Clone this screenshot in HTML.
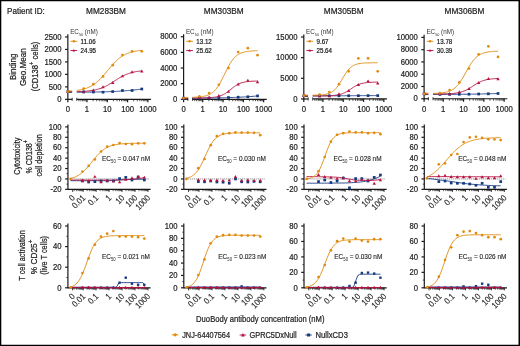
<!DOCTYPE html>
<html><head><meta charset="utf-8"><style>
html,body{margin:0;padding:0;background:#fff;}
body{width:520px;height:346px;overflow:hidden;}
svg{display:block;font-family:"Liberation Sans", sans-serif;will-change:transform;}
text{stroke:#222;stroke-width:0.22px;}
</style></head><body>
<svg width="520" height="346" viewBox="0 0 520 346">
<rect x="0" y="0" width="520" height="346" fill="#fff"/>
<text x="7" y="13.5" font-size="8.9" text-anchor="start" fill="#222" textLength="37.8" lengthAdjust="spacingAndGlyphs">Patient ID:</text>
<text x="106" y="13.5" font-size="8.9" text-anchor="middle" fill="#222" textLength="39.8" lengthAdjust="spacingAndGlyphs">MM283BM</text>
<text x="223.75" y="13.5" font-size="8.9" text-anchor="middle" fill="#222" textLength="39.8" lengthAdjust="spacingAndGlyphs">MM303BM</text>
<text x="343.75" y="13.5" font-size="8.9" text-anchor="middle" fill="#222" textLength="39.8" lengthAdjust="spacingAndGlyphs">MM305BM</text>
<text x="464.5" y="13.5" font-size="8.9" text-anchor="middle" fill="#222" textLength="39.8" lengthAdjust="spacingAndGlyphs">MM306BM</text>
<line x1="67.85" y1="34.35" x2="67.85" y2="99.85" stroke="#1a1a1a" stroke-width="1.2"/>
<line x1="65.05" y1="99.35" x2="67.85" y2="99.35" stroke="#1a1a1a" stroke-width="1.2"/>
<text x="61.55" y="102.05" font-size="8.8" text-anchor="end" fill="#222" textLength="4.28" lengthAdjust="spacingAndGlyphs">0</text>
<line x1="65.05" y1="86.87" x2="67.85" y2="86.87" stroke="#1a1a1a" stroke-width="1.2"/>
<text x="61.55" y="89.57" font-size="8.8" text-anchor="end" fill="#222" textLength="12.85" lengthAdjust="spacingAndGlyphs">500</text>
<line x1="65.05" y1="74.39" x2="67.85" y2="74.39" stroke="#1a1a1a" stroke-width="1.2"/>
<text x="61.55" y="77.09" font-size="8.8" text-anchor="end" fill="#222" textLength="17.13" lengthAdjust="spacingAndGlyphs">1000</text>
<line x1="65.05" y1="61.91" x2="67.85" y2="61.91" stroke="#1a1a1a" stroke-width="1.2"/>
<text x="61.55" y="64.61" font-size="8.8" text-anchor="end" fill="#222" textLength="17.13" lengthAdjust="spacingAndGlyphs">1500</text>
<line x1="65.05" y1="49.43" x2="67.85" y2="49.43" stroke="#1a1a1a" stroke-width="1.2"/>
<text x="61.55" y="52.13" font-size="8.8" text-anchor="end" fill="#222" textLength="17.13" lengthAdjust="spacingAndGlyphs">2000</text>
<line x1="65.05" y1="36.95" x2="67.85" y2="36.95" stroke="#1a1a1a" stroke-width="1.2"/>
<text x="61.55" y="39.65" font-size="8.8" text-anchor="end" fill="#222" textLength="17.13" lengthAdjust="spacingAndGlyphs">2500</text>
<line x1="67.85" y1="99.35" x2="72.35" y2="99.35" stroke="#1a1a1a" stroke-width="1.2"/>
<line x1="72.15" y1="97.75" x2="72.15" y2="100.95" stroke="#1a1a1a" stroke-width="0.8"/>
<line x1="76.75" y1="97.75" x2="76.75" y2="100.95" stroke="#1a1a1a" stroke-width="0.8"/>
<line x1="76.75" y1="99.35" x2="151.05" y2="99.35" stroke="#1a1a1a" stroke-width="1.2"/>
<line x1="67.85" y1="99.35" x2="67.85" y2="102.35" stroke="#1a1a1a" stroke-width="1.2"/>
<text x="67.85" y="111.8" font-size="8.8" text-anchor="middle" fill="#222" textLength="4.28" lengthAdjust="spacingAndGlyphs">0</text>
<line x1="87" y1="99.35" x2="87" y2="102.35" stroke="#1a1a1a" stroke-width="1.2"/>
<text x="87" y="111.8" font-size="8.8" text-anchor="middle" fill="#222" textLength="4.28" lengthAdjust="spacingAndGlyphs">1</text>
<line x1="107.3" y1="99.35" x2="107.3" y2="102.35" stroke="#1a1a1a" stroke-width="1.2"/>
<text x="107.3" y="111.8" font-size="8.8" text-anchor="middle" fill="#222" textLength="8.56" lengthAdjust="spacingAndGlyphs">10</text>
<line x1="127.6" y1="99.35" x2="127.6" y2="102.35" stroke="#1a1a1a" stroke-width="1.2"/>
<text x="127.6" y="111.8" font-size="8.8" text-anchor="middle" fill="#222" textLength="12.85" lengthAdjust="spacingAndGlyphs">100</text>
<line x1="147.9" y1="99.35" x2="147.9" y2="102.35" stroke="#1a1a1a" stroke-width="1.2"/>
<text x="147.9" y="111.8" font-size="8.8" text-anchor="middle" fill="#222" textLength="17.13" lengthAdjust="spacingAndGlyphs">1000</text>
<line x1="78.92" y1="99.35" x2="78.92" y2="101.25" stroke="#1a1a1a" stroke-width="0.75"/>
<line x1="80.89" y1="99.35" x2="80.89" y2="101.25" stroke="#1a1a1a" stroke-width="0.75"/>
<line x1="82.5" y1="99.35" x2="82.5" y2="101.25" stroke="#1a1a1a" stroke-width="0.75"/>
<line x1="83.86" y1="99.35" x2="83.86" y2="101.25" stroke="#1a1a1a" stroke-width="0.75"/>
<line x1="85.03" y1="99.35" x2="85.03" y2="101.25" stroke="#1a1a1a" stroke-width="0.75"/>
<line x1="86.07" y1="99.35" x2="86.07" y2="101.25" stroke="#1a1a1a" stroke-width="0.75"/>
<line x1="93.11" y1="99.35" x2="93.11" y2="101.25" stroke="#1a1a1a" stroke-width="0.75"/>
<line x1="96.69" y1="99.35" x2="96.69" y2="101.25" stroke="#1a1a1a" stroke-width="0.75"/>
<line x1="99.22" y1="99.35" x2="99.22" y2="101.25" stroke="#1a1a1a" stroke-width="0.75"/>
<line x1="101.19" y1="99.35" x2="101.19" y2="101.25" stroke="#1a1a1a" stroke-width="0.75"/>
<line x1="102.8" y1="99.35" x2="102.8" y2="101.25" stroke="#1a1a1a" stroke-width="0.75"/>
<line x1="104.16" y1="99.35" x2="104.16" y2="101.25" stroke="#1a1a1a" stroke-width="0.75"/>
<line x1="105.33" y1="99.35" x2="105.33" y2="101.25" stroke="#1a1a1a" stroke-width="0.75"/>
<line x1="106.37" y1="99.35" x2="106.37" y2="101.25" stroke="#1a1a1a" stroke-width="0.75"/>
<line x1="113.41" y1="99.35" x2="113.41" y2="101.25" stroke="#1a1a1a" stroke-width="0.75"/>
<line x1="116.99" y1="99.35" x2="116.99" y2="101.25" stroke="#1a1a1a" stroke-width="0.75"/>
<line x1="119.52" y1="99.35" x2="119.52" y2="101.25" stroke="#1a1a1a" stroke-width="0.75"/>
<line x1="121.49" y1="99.35" x2="121.49" y2="101.25" stroke="#1a1a1a" stroke-width="0.75"/>
<line x1="123.1" y1="99.35" x2="123.1" y2="101.25" stroke="#1a1a1a" stroke-width="0.75"/>
<line x1="124.46" y1="99.35" x2="124.46" y2="101.25" stroke="#1a1a1a" stroke-width="0.75"/>
<line x1="125.63" y1="99.35" x2="125.63" y2="101.25" stroke="#1a1a1a" stroke-width="0.75"/>
<line x1="126.67" y1="99.35" x2="126.67" y2="101.25" stroke="#1a1a1a" stroke-width="0.75"/>
<line x1="133.71" y1="99.35" x2="133.71" y2="101.25" stroke="#1a1a1a" stroke-width="0.75"/>
<line x1="137.29" y1="99.35" x2="137.29" y2="101.25" stroke="#1a1a1a" stroke-width="0.75"/>
<line x1="139.82" y1="99.35" x2="139.82" y2="101.25" stroke="#1a1a1a" stroke-width="0.75"/>
<line x1="141.79" y1="99.35" x2="141.79" y2="101.25" stroke="#1a1a1a" stroke-width="0.75"/>
<line x1="143.4" y1="99.35" x2="143.4" y2="101.25" stroke="#1a1a1a" stroke-width="0.75"/>
<line x1="144.76" y1="99.35" x2="144.76" y2="101.25" stroke="#1a1a1a" stroke-width="0.75"/>
<line x1="145.93" y1="99.35" x2="145.93" y2="101.25" stroke="#1a1a1a" stroke-width="0.75"/>
<line x1="146.97" y1="99.35" x2="146.97" y2="101.25" stroke="#1a1a1a" stroke-width="0.75"/>
<text x="70.15" y="34.2" font-size="7" text-anchor="start" fill="#333" textLength="27.6" lengthAdjust="spacingAndGlyphs" style="stroke:none">EC<tspan font-size="4.2" dy="2.2">50</tspan><tspan dy="-2.2"> (nM)</tspan></text>
<line x1="70.45" y1="41.3" x2="77.25" y2="41.3" stroke="#e08a0e" stroke-width="0.9"/>
<circle cx="73.85" cy="41.3" r="1.2" fill="#e08a0e"/>
<text x="80.55" y="43.8" font-size="6.9" text-anchor="start" fill="#222" textLength="15.05" lengthAdjust="spacingAndGlyphs">11.06</text>
<line x1="70.45" y1="50.5" x2="77.25" y2="50.5" stroke="#b5123f" stroke-width="0.9"/>
<path d="M73.85 49.12L75.22 51.53L72.47 51.53Z" fill="#b5123f"/>
<text x="80.55" y="53" font-size="6.9" text-anchor="start" fill="#222" textLength="15.51" lengthAdjust="spacingAndGlyphs">24.95</text>
<path d="M76.75 92.19 L77.85 92.19 L78.95 92.18 L80.06 92.17 L81.16 92.17 L82.26 92.16 L83.36 92.15 L84.47 92.14 L85.57 92.13 L86.67 92.12 L87.77 92.11 L88.88 92.1 L89.98 92.08 L91.08 92.07 L92.18 92.06 L93.29 92.04 L94.39 92.02 L95.49 92.01 L96.59 91.99 L97.69 91.97 L98.8 91.95 L99.9 91.92 L101 91.9 L102.1 91.87 L103.21 91.84 L104.31 91.82 L105.41 91.78 L106.51 91.75 L107.62 91.72 L108.72 91.68 L109.82 91.64 L110.92 91.6 L112.03 91.55 L113.13 91.51 L114.23 91.46 L115.33 91.4 L116.43 91.35 L117.54 91.29 L118.64 91.23 L119.74 91.16 L120.84 91.1 L121.95 91.02 L123.05 90.95 L124.15 90.87 L125.25 90.79 L126.36 90.7 L127.46 90.61 L128.56 90.51 L129.66 90.41 L130.77 90.31 L131.87 90.2 L132.97 90.09 L134.07 89.98 L135.17 89.86 L136.28 89.74 L137.38 89.61 L138.48 89.48 L139.58 89.34 L140.69 89.21 L141.79 89.07" fill="none" stroke="#163a82" stroke-width="0.9"/>
<path d="M76.75 91.65 L77.85 91.62 L78.95 91.58 L80.06 91.54 L81.16 91.49 L82.26 91.43 L83.36 91.37 L84.47 91.3 L85.57 91.22 L86.67 91.12 L87.77 91.02 L88.88 90.91 L89.98 90.77 L91.08 90.63 L92.18 90.46 L93.29 90.28 L94.39 90.07 L95.49 89.84 L96.59 89.58 L97.69 89.3 L98.8 88.98 L99.9 88.63 L101 88.25 L102.1 87.84 L103.21 87.39 L104.31 86.9 L105.41 86.38 L106.51 85.82 L107.62 85.23 L108.72 84.61 L109.82 83.96 L110.92 83.29 L112.03 82.6 L113.13 81.89 L114.23 81.18 L115.33 80.47 L116.43 79.76 L117.54 79.06 L118.64 78.37 L119.74 77.71 L120.84 77.08 L121.95 76.47 L123.05 75.89 L124.15 75.35 L125.25 74.85 L126.36 74.38 L127.46 73.94 L128.56 73.55 L129.66 73.18 L130.77 72.85 L131.87 72.55 L132.97 72.28 L134.07 72.03 L135.17 71.81 L136.28 71.62 L137.38 71.44 L138.48 71.29 L139.58 71.15 L140.69 71.02 L141.79 70.91" fill="none" stroke="#b5123f" stroke-width="0.9"/>
<path d="M76.75 90.43 L77.85 90.27 L78.95 90.1 L80.06 89.91 L81.16 89.69 L82.26 89.44 L83.36 89.16 L84.47 88.85 L85.57 88.51 L86.67 88.12 L87.77 87.7 L88.88 87.22 L89.98 86.7 L91.08 86.13 L92.18 85.49 L93.29 84.8 L94.39 84.05 L95.49 83.23 L96.59 82.35 L97.69 81.4 L98.8 80.39 L99.9 79.32 L101 78.19 L102.1 77.01 L103.21 75.78 L104.31 74.51 L105.41 73.21 L106.51 71.89 L107.62 70.56 L108.72 69.23 L109.82 67.91 L110.92 66.61 L112.03 65.34 L113.13 64.11 L114.23 62.93 L115.33 61.8 L116.43 60.73 L117.54 59.72 L118.64 58.77 L119.74 57.89 L120.84 57.07 L121.95 56.32 L123.05 55.63 L124.15 54.99 L125.25 54.42 L126.36 53.89 L127.46 53.42 L128.56 52.99 L129.66 52.61 L130.77 52.26 L131.87 51.96 L132.97 51.68 L134.07 51.43 L135.17 51.21 L136.28 51.02 L137.38 50.84 L138.48 50.69 L139.58 50.55 L140.69 50.43 L141.79 50.32" fill="none" stroke="#e08a0e" stroke-width="0.9"/>
<rect x="82.33" y="90.65" width="2.7" height="2.7" fill="#163a82"/>
<rect x="92.01" y="90.65" width="2.7" height="2.7" fill="#163a82"/>
<rect x="101.7" y="90.85" width="2.7" height="2.7" fill="#163a82"/>
<rect x="111.38" y="90.25" width="2.7" height="2.7" fill="#163a82"/>
<rect x="121.07" y="89.15" width="2.7" height="2.7" fill="#163a82"/>
<rect x="130.75" y="89.15" width="2.7" height="2.7" fill="#163a82"/>
<rect x="140.44" y="87.65" width="2.7" height="2.7" fill="#163a82"/>
<path d="M83.68 89.91L85.36 92.87L81.99 92.87Z" fill="#b5123f"/>
<path d="M93.36 88.41L95.05 91.37L91.67 91.37Z" fill="#b5123f"/>
<path d="M103.05 85.31L104.73 88.27L101.36 88.27Z" fill="#b5123f"/>
<path d="M112.73 81.01L114.42 83.97L111.04 83.97Z" fill="#b5123f"/>
<path d="M122.42 74.41L124.11 77.37L120.73 77.37Z" fill="#b5123f"/>
<path d="M132.1 70.31L133.79 73.27L130.42 73.27Z" fill="#b5123f"/>
<path d="M141.79 69.61L143.48 72.57L140.1 72.57Z" fill="#b5123f"/>
<circle cx="83.68" cy="88.5" r="1.35" fill="#e08a0e"/>
<circle cx="93.36" cy="84.2" r="1.35" fill="#e08a0e"/>
<circle cx="103.05" cy="76.4" r="1.35" fill="#e08a0e"/>
<circle cx="112.73" cy="65.2" r="1.35" fill="#e08a0e"/>
<circle cx="122.42" cy="55" r="1.35" fill="#e08a0e"/>
<circle cx="132.1" cy="51.3" r="1.35" fill="#e08a0e"/>
<circle cx="141.79" cy="51.3" r="1.35" fill="#e08a0e"/>
<line x1="67.85" y1="92.4" x2="72.15" y2="92.4" stroke="#163a82" stroke-width="0.9"/>
<line x1="67.85" y1="91.6" x2="72.15" y2="91.6" stroke="#b5123f" stroke-width="0.9"/>
<line x1="67.85" y1="90.9" x2="72.15" y2="90.9" stroke="#e08a0e" stroke-width="0.8"/>
<rect x="66.5" y="90.25" width="2.7" height="2.7" fill="#163a82"/>
<path d="M67.85 89.91L69.54 92.87L66.16 92.87Z" fill="#b5123f"/>
<circle cx="67.85" cy="91.6" r="1.35" fill="#e08a0e"/>
<line x1="183.6" y1="34.15" x2="183.6" y2="99.8" stroke="#1a1a1a" stroke-width="1.2"/>
<line x1="180.8" y1="99.3" x2="183.6" y2="99.3" stroke="#1a1a1a" stroke-width="1.2"/>
<text x="177.3" y="102" font-size="8.8" text-anchor="end" fill="#222" textLength="4.28" lengthAdjust="spacingAndGlyphs">0</text>
<line x1="180.8" y1="83.66" x2="183.6" y2="83.66" stroke="#1a1a1a" stroke-width="1.2"/>
<text x="177.3" y="86.36" font-size="8.8" text-anchor="end" fill="#222" textLength="17.13" lengthAdjust="spacingAndGlyphs">2000</text>
<line x1="180.8" y1="68.03" x2="183.6" y2="68.03" stroke="#1a1a1a" stroke-width="1.2"/>
<text x="177.3" y="70.73" font-size="8.8" text-anchor="end" fill="#222" textLength="17.13" lengthAdjust="spacingAndGlyphs">4000</text>
<line x1="180.8" y1="52.39" x2="183.6" y2="52.39" stroke="#1a1a1a" stroke-width="1.2"/>
<text x="177.3" y="55.09" font-size="8.8" text-anchor="end" fill="#222" textLength="17.13" lengthAdjust="spacingAndGlyphs">6000</text>
<line x1="180.8" y1="36.75" x2="183.6" y2="36.75" stroke="#1a1a1a" stroke-width="1.2"/>
<text x="177.3" y="39.45" font-size="8.8" text-anchor="end" fill="#222" textLength="17.13" lengthAdjust="spacingAndGlyphs">8000</text>
<line x1="183.6" y1="99.3" x2="188.1" y2="99.3" stroke="#1a1a1a" stroke-width="1.2"/>
<line x1="187.9" y1="97.7" x2="187.9" y2="100.9" stroke="#1a1a1a" stroke-width="0.8"/>
<line x1="192.5" y1="97.7" x2="192.5" y2="100.9" stroke="#1a1a1a" stroke-width="0.8"/>
<line x1="192.5" y1="99.3" x2="266.8" y2="99.3" stroke="#1a1a1a" stroke-width="1.2"/>
<line x1="183.6" y1="99.3" x2="183.6" y2="102.3" stroke="#1a1a1a" stroke-width="1.2"/>
<text x="183.6" y="111.8" font-size="8.8" text-anchor="middle" fill="#222" textLength="4.28" lengthAdjust="spacingAndGlyphs">0</text>
<line x1="202.75" y1="99.3" x2="202.75" y2="102.3" stroke="#1a1a1a" stroke-width="1.2"/>
<text x="202.75" y="111.8" font-size="8.8" text-anchor="middle" fill="#222" textLength="4.28" lengthAdjust="spacingAndGlyphs">1</text>
<line x1="223.05" y1="99.3" x2="223.05" y2="102.3" stroke="#1a1a1a" stroke-width="1.2"/>
<text x="223.05" y="111.8" font-size="8.8" text-anchor="middle" fill="#222" textLength="8.56" lengthAdjust="spacingAndGlyphs">10</text>
<line x1="243.35" y1="99.3" x2="243.35" y2="102.3" stroke="#1a1a1a" stroke-width="1.2"/>
<text x="243.35" y="111.8" font-size="8.8" text-anchor="middle" fill="#222" textLength="12.85" lengthAdjust="spacingAndGlyphs">100</text>
<line x1="263.65" y1="99.3" x2="263.65" y2="102.3" stroke="#1a1a1a" stroke-width="1.2"/>
<text x="263.65" y="111.8" font-size="8.8" text-anchor="middle" fill="#222" textLength="17.13" lengthAdjust="spacingAndGlyphs">1000</text>
<line x1="194.67" y1="99.3" x2="194.67" y2="101.2" stroke="#1a1a1a" stroke-width="0.75"/>
<line x1="196.64" y1="99.3" x2="196.64" y2="101.2" stroke="#1a1a1a" stroke-width="0.75"/>
<line x1="198.25" y1="99.3" x2="198.25" y2="101.2" stroke="#1a1a1a" stroke-width="0.75"/>
<line x1="199.61" y1="99.3" x2="199.61" y2="101.2" stroke="#1a1a1a" stroke-width="0.75"/>
<line x1="200.78" y1="99.3" x2="200.78" y2="101.2" stroke="#1a1a1a" stroke-width="0.75"/>
<line x1="201.82" y1="99.3" x2="201.82" y2="101.2" stroke="#1a1a1a" stroke-width="0.75"/>
<line x1="208.86" y1="99.3" x2="208.86" y2="101.2" stroke="#1a1a1a" stroke-width="0.75"/>
<line x1="212.44" y1="99.3" x2="212.44" y2="101.2" stroke="#1a1a1a" stroke-width="0.75"/>
<line x1="214.97" y1="99.3" x2="214.97" y2="101.2" stroke="#1a1a1a" stroke-width="0.75"/>
<line x1="216.94" y1="99.3" x2="216.94" y2="101.2" stroke="#1a1a1a" stroke-width="0.75"/>
<line x1="218.55" y1="99.3" x2="218.55" y2="101.2" stroke="#1a1a1a" stroke-width="0.75"/>
<line x1="219.91" y1="99.3" x2="219.91" y2="101.2" stroke="#1a1a1a" stroke-width="0.75"/>
<line x1="221.08" y1="99.3" x2="221.08" y2="101.2" stroke="#1a1a1a" stroke-width="0.75"/>
<line x1="222.12" y1="99.3" x2="222.12" y2="101.2" stroke="#1a1a1a" stroke-width="0.75"/>
<line x1="229.16" y1="99.3" x2="229.16" y2="101.2" stroke="#1a1a1a" stroke-width="0.75"/>
<line x1="232.74" y1="99.3" x2="232.74" y2="101.2" stroke="#1a1a1a" stroke-width="0.75"/>
<line x1="235.27" y1="99.3" x2="235.27" y2="101.2" stroke="#1a1a1a" stroke-width="0.75"/>
<line x1="237.24" y1="99.3" x2="237.24" y2="101.2" stroke="#1a1a1a" stroke-width="0.75"/>
<line x1="238.85" y1="99.3" x2="238.85" y2="101.2" stroke="#1a1a1a" stroke-width="0.75"/>
<line x1="240.21" y1="99.3" x2="240.21" y2="101.2" stroke="#1a1a1a" stroke-width="0.75"/>
<line x1="241.38" y1="99.3" x2="241.38" y2="101.2" stroke="#1a1a1a" stroke-width="0.75"/>
<line x1="242.42" y1="99.3" x2="242.42" y2="101.2" stroke="#1a1a1a" stroke-width="0.75"/>
<line x1="249.46" y1="99.3" x2="249.46" y2="101.2" stroke="#1a1a1a" stroke-width="0.75"/>
<line x1="253.04" y1="99.3" x2="253.04" y2="101.2" stroke="#1a1a1a" stroke-width="0.75"/>
<line x1="255.57" y1="99.3" x2="255.57" y2="101.2" stroke="#1a1a1a" stroke-width="0.75"/>
<line x1="257.54" y1="99.3" x2="257.54" y2="101.2" stroke="#1a1a1a" stroke-width="0.75"/>
<line x1="259.15" y1="99.3" x2="259.15" y2="101.2" stroke="#1a1a1a" stroke-width="0.75"/>
<line x1="260.51" y1="99.3" x2="260.51" y2="101.2" stroke="#1a1a1a" stroke-width="0.75"/>
<line x1="261.68" y1="99.3" x2="261.68" y2="101.2" stroke="#1a1a1a" stroke-width="0.75"/>
<line x1="262.72" y1="99.3" x2="262.72" y2="101.2" stroke="#1a1a1a" stroke-width="0.75"/>
<text x="185.9" y="34.2" font-size="7" text-anchor="start" fill="#333" textLength="27.6" lengthAdjust="spacingAndGlyphs" style="stroke:none">EC<tspan font-size="4.2" dy="2.2">50</tspan><tspan dy="-2.2"> (nM)</tspan></text>
<line x1="186.2" y1="41.3" x2="193" y2="41.3" stroke="#e08a0e" stroke-width="0.9"/>
<circle cx="189.6" cy="41.3" r="1.2" fill="#e08a0e"/>
<text x="196.3" y="43.8" font-size="6.9" text-anchor="start" fill="#222" textLength="15.51" lengthAdjust="spacingAndGlyphs">13.12</text>
<line x1="186.2" y1="50.5" x2="193" y2="50.5" stroke="#b5123f" stroke-width="0.9"/>
<path d="M189.6 49.12L190.97 51.53L188.22 51.53Z" fill="#b5123f"/>
<text x="196.3" y="53" font-size="6.9" text-anchor="start" fill="#222" textLength="15.51" lengthAdjust="spacingAndGlyphs">25.62</text>
<path d="M192.5 98.23 L193.6 98.22 L194.7 98.22 L195.81 98.21 L196.91 98.2 L198.01 98.19 L199.11 98.18 L200.22 98.17 L201.32 98.16 L202.42 98.15 L203.52 98.14 L204.63 98.13 L205.73 98.11 L206.83 98.1 L207.93 98.09 L209.04 98.07 L210.14 98.06 L211.24 98.04 L212.34 98.02 L213.44 98 L214.55 97.99 L215.65 97.97 L216.75 97.94 L217.85 97.92 L218.96 97.9 L220.06 97.88 L221.16 97.85 L222.26 97.82 L223.37 97.8 L224.47 97.77 L225.57 97.74 L226.67 97.7 L227.78 97.67 L228.88 97.64 L229.98 97.6 L231.08 97.56 L232.18 97.52 L233.29 97.48 L234.39 97.43 L235.49 97.39 L236.59 97.34 L237.7 97.29 L238.8 97.24 L239.9 97.18 L241 97.13 L242.11 97.07 L243.21 97 L244.31 96.94 L245.41 96.87 L246.52 96.8 L247.62 96.73 L248.72 96.65 L249.82 96.57 L250.92 96.49 L252.03 96.4 L253.13 96.31 L254.23 96.22 L255.33 96.12 L256.44 96.02 L257.54 95.92" fill="none" stroke="#163a82" stroke-width="0.9"/>
<path d="M192.5 97.92 L193.6 97.92 L194.7 97.92 L195.81 97.91 L196.91 97.91 L198.01 97.9 L199.11 97.89 L200.22 97.88 L201.32 97.87 L202.42 97.86 L203.52 97.84 L204.63 97.82 L205.73 97.79 L206.83 97.76 L207.93 97.72 L209.04 97.67 L210.14 97.6 L211.24 97.53 L212.34 97.44 L213.44 97.32 L214.55 97.19 L215.65 97.02 L216.75 96.82 L217.85 96.58 L218.96 96.3 L220.06 95.96 L221.16 95.56 L222.26 95.1 L223.37 94.57 L224.47 93.96 L225.57 93.29 L226.67 92.55 L227.78 91.74 L228.88 90.89 L229.98 90.02 L231.08 89.12 L232.18 88.24 L233.29 87.38 L234.39 86.56 L235.49 85.8 L236.59 85.1 L237.7 84.48 L238.8 83.92 L239.9 83.44 L241 83.03 L242.11 82.67 L243.21 82.37 L244.31 82.12 L245.41 81.91 L246.52 81.73 L247.62 81.59 L248.72 81.47 L249.82 81.37 L250.92 81.29 L252.03 81.22 L253.13 81.17 L254.23 81.13 L255.33 81.09 L256.44 81.06 L257.54 81.04" fill="none" stroke="#b5123f" stroke-width="0.9"/>
<path d="M192.5 97.31 L193.6 97.27 L194.7 97.23 L195.81 97.18 L196.91 97.12 L198.01 97.05 L199.11 96.96 L200.22 96.85 L201.32 96.72 L202.42 96.56 L203.52 96.37 L204.63 96.14 L205.73 95.86 L206.83 95.53 L207.93 95.13 L209.04 94.66 L210.14 94.1 L211.24 93.44 L212.34 92.66 L213.44 91.75 L214.55 90.7 L215.65 89.5 L216.75 88.13 L217.85 86.58 L218.96 84.87 L220.06 83 L221.16 80.99 L222.26 78.85 L223.37 76.63 L224.47 74.36 L225.57 72.09 L226.67 69.85 L227.78 67.69 L228.88 65.63 L229.98 63.72 L231.08 61.96 L232.18 60.37 L233.29 58.95 L234.39 57.7 L235.49 56.6 L236.59 55.65 L237.7 54.84 L238.8 54.15 L239.9 53.56 L241 53.06 L242.11 52.64 L243.21 52.29 L244.31 52 L245.41 51.76 L246.52 51.56 L247.62 51.39 L248.72 51.25 L249.82 51.14 L250.92 51.04 L252.03 50.96 L253.13 50.9 L254.23 50.84 L255.33 50.8 L256.44 50.76 L257.54 50.73" fill="none" stroke="#e08a0e" stroke-width="0.9"/>
<rect x="198.08" y="96.75" width="2.7" height="2.7" fill="#163a82"/>
<rect x="207.76" y="96.75" width="2.7" height="2.7" fill="#163a82"/>
<rect x="217.45" y="96.75" width="2.7" height="2.7" fill="#163a82"/>
<rect x="227.13" y="96.15" width="2.7" height="2.7" fill="#163a82"/>
<rect x="236.82" y="95.85" width="2.7" height="2.7" fill="#163a82"/>
<rect x="246.5" y="95.45" width="2.7" height="2.7" fill="#163a82"/>
<rect x="256.19" y="94.55" width="2.7" height="2.7" fill="#163a82"/>
<path d="M199.43 95.81L201.11 98.77L197.74 98.77Z" fill="#b5123f"/>
<path d="M209.11 95.81L210.8 98.77L207.42 98.77Z" fill="#b5123f"/>
<path d="M218.8 94.01L220.48 96.97L217.11 96.97Z" fill="#b5123f"/>
<path d="M228.48 89.91L230.17 92.87L226.79 92.87Z" fill="#b5123f"/>
<path d="M238.17 82.51L239.86 85.47L236.48 85.47Z" fill="#b5123f"/>
<path d="M247.85 78.81L249.54 81.77L246.17 81.77Z" fill="#b5123f"/>
<path d="M257.54 80.31L259.23 83.27L255.85 83.27Z" fill="#b5123f"/>
<circle cx="199.43" cy="96.4" r="1.35" fill="#e08a0e"/>
<circle cx="209.11" cy="93.1" r="1.35" fill="#e08a0e"/>
<circle cx="218.8" cy="84.8" r="1.35" fill="#e08a0e"/>
<circle cx="228.48" cy="68.1" r="1.35" fill="#e08a0e"/>
<circle cx="238.17" cy="52" r="1.35" fill="#e08a0e"/>
<circle cx="247.85" cy="48.2" r="1.35" fill="#e08a0e"/>
<circle cx="257.54" cy="55.2" r="1.35" fill="#e08a0e"/>
<line x1="183.6" y1="98.9" x2="187.9" y2="98.9" stroke="#163a82" stroke-width="0.9"/>
<line x1="183.6" y1="98.1" x2="187.9" y2="98.1" stroke="#b5123f" stroke-width="0.9"/>
<line x1="183.6" y1="97.4" x2="187.9" y2="97.4" stroke="#e08a0e" stroke-width="0.8"/>
<rect x="182.25" y="96.75" width="2.7" height="2.7" fill="#163a82"/>
<path d="M183.6 96.41L185.29 99.37L181.91 99.37Z" fill="#b5123f"/>
<circle cx="183.6" cy="98.1" r="1.35" fill="#e08a0e"/>
<line x1="303.8" y1="34.4" x2="303.8" y2="99.45" stroke="#1a1a1a" stroke-width="1.2"/>
<line x1="301" y1="98.95" x2="303.8" y2="98.95" stroke="#1a1a1a" stroke-width="1.2"/>
<text x="297.5" y="101.65" font-size="8.8" text-anchor="end" fill="#222" textLength="4.28" lengthAdjust="spacingAndGlyphs">0</text>
<line x1="301" y1="78.3" x2="303.8" y2="78.3" stroke="#1a1a1a" stroke-width="1.2"/>
<text x="297.5" y="81" font-size="8.8" text-anchor="end" fill="#222" textLength="17.13" lengthAdjust="spacingAndGlyphs">5000</text>
<line x1="301" y1="57.65" x2="303.8" y2="57.65" stroke="#1a1a1a" stroke-width="1.2"/>
<text x="297.5" y="60.35" font-size="8.8" text-anchor="end" fill="#222" textLength="21.41" lengthAdjust="spacingAndGlyphs">10000</text>
<line x1="301" y1="37" x2="303.8" y2="37" stroke="#1a1a1a" stroke-width="1.2"/>
<text x="297.5" y="39.7" font-size="8.8" text-anchor="end" fill="#222" textLength="21.41" lengthAdjust="spacingAndGlyphs">15000</text>
<line x1="303.8" y1="98.95" x2="308.3" y2="98.95" stroke="#1a1a1a" stroke-width="1.2"/>
<line x1="308.1" y1="97.35" x2="308.1" y2="100.55" stroke="#1a1a1a" stroke-width="0.8"/>
<line x1="312.7" y1="97.35" x2="312.7" y2="100.55" stroke="#1a1a1a" stroke-width="0.8"/>
<line x1="312.7" y1="98.95" x2="387" y2="98.95" stroke="#1a1a1a" stroke-width="1.2"/>
<line x1="303.8" y1="98.95" x2="303.8" y2="101.95" stroke="#1a1a1a" stroke-width="1.2"/>
<text x="303.8" y="111.8" font-size="8.8" text-anchor="middle" fill="#222" textLength="4.28" lengthAdjust="spacingAndGlyphs">0</text>
<line x1="322.95" y1="98.95" x2="322.95" y2="101.95" stroke="#1a1a1a" stroke-width="1.2"/>
<text x="322.95" y="111.8" font-size="8.8" text-anchor="middle" fill="#222" textLength="4.28" lengthAdjust="spacingAndGlyphs">1</text>
<line x1="343.25" y1="98.95" x2="343.25" y2="101.95" stroke="#1a1a1a" stroke-width="1.2"/>
<text x="343.25" y="111.8" font-size="8.8" text-anchor="middle" fill="#222" textLength="8.56" lengthAdjust="spacingAndGlyphs">10</text>
<line x1="363.55" y1="98.95" x2="363.55" y2="101.95" stroke="#1a1a1a" stroke-width="1.2"/>
<text x="363.55" y="111.8" font-size="8.8" text-anchor="middle" fill="#222" textLength="12.85" lengthAdjust="spacingAndGlyphs">100</text>
<line x1="383.85" y1="98.95" x2="383.85" y2="101.95" stroke="#1a1a1a" stroke-width="1.2"/>
<text x="383.85" y="111.8" font-size="8.8" text-anchor="middle" fill="#222" textLength="17.13" lengthAdjust="spacingAndGlyphs">1000</text>
<line x1="314.87" y1="98.95" x2="314.87" y2="100.85" stroke="#1a1a1a" stroke-width="0.75"/>
<line x1="316.84" y1="98.95" x2="316.84" y2="100.85" stroke="#1a1a1a" stroke-width="0.75"/>
<line x1="318.45" y1="98.95" x2="318.45" y2="100.85" stroke="#1a1a1a" stroke-width="0.75"/>
<line x1="319.81" y1="98.95" x2="319.81" y2="100.85" stroke="#1a1a1a" stroke-width="0.75"/>
<line x1="320.98" y1="98.95" x2="320.98" y2="100.85" stroke="#1a1a1a" stroke-width="0.75"/>
<line x1="322.02" y1="98.95" x2="322.02" y2="100.85" stroke="#1a1a1a" stroke-width="0.75"/>
<line x1="329.06" y1="98.95" x2="329.06" y2="100.85" stroke="#1a1a1a" stroke-width="0.75"/>
<line x1="332.64" y1="98.95" x2="332.64" y2="100.85" stroke="#1a1a1a" stroke-width="0.75"/>
<line x1="335.17" y1="98.95" x2="335.17" y2="100.85" stroke="#1a1a1a" stroke-width="0.75"/>
<line x1="337.14" y1="98.95" x2="337.14" y2="100.85" stroke="#1a1a1a" stroke-width="0.75"/>
<line x1="338.75" y1="98.95" x2="338.75" y2="100.85" stroke="#1a1a1a" stroke-width="0.75"/>
<line x1="340.11" y1="98.95" x2="340.11" y2="100.85" stroke="#1a1a1a" stroke-width="0.75"/>
<line x1="341.28" y1="98.95" x2="341.28" y2="100.85" stroke="#1a1a1a" stroke-width="0.75"/>
<line x1="342.32" y1="98.95" x2="342.32" y2="100.85" stroke="#1a1a1a" stroke-width="0.75"/>
<line x1="349.36" y1="98.95" x2="349.36" y2="100.85" stroke="#1a1a1a" stroke-width="0.75"/>
<line x1="352.94" y1="98.95" x2="352.94" y2="100.85" stroke="#1a1a1a" stroke-width="0.75"/>
<line x1="355.47" y1="98.95" x2="355.47" y2="100.85" stroke="#1a1a1a" stroke-width="0.75"/>
<line x1="357.44" y1="98.95" x2="357.44" y2="100.85" stroke="#1a1a1a" stroke-width="0.75"/>
<line x1="359.05" y1="98.95" x2="359.05" y2="100.85" stroke="#1a1a1a" stroke-width="0.75"/>
<line x1="360.41" y1="98.95" x2="360.41" y2="100.85" stroke="#1a1a1a" stroke-width="0.75"/>
<line x1="361.58" y1="98.95" x2="361.58" y2="100.85" stroke="#1a1a1a" stroke-width="0.75"/>
<line x1="362.62" y1="98.95" x2="362.62" y2="100.85" stroke="#1a1a1a" stroke-width="0.75"/>
<line x1="369.66" y1="98.95" x2="369.66" y2="100.85" stroke="#1a1a1a" stroke-width="0.75"/>
<line x1="373.24" y1="98.95" x2="373.24" y2="100.85" stroke="#1a1a1a" stroke-width="0.75"/>
<line x1="375.77" y1="98.95" x2="375.77" y2="100.85" stroke="#1a1a1a" stroke-width="0.75"/>
<line x1="377.74" y1="98.95" x2="377.74" y2="100.85" stroke="#1a1a1a" stroke-width="0.75"/>
<line x1="379.35" y1="98.95" x2="379.35" y2="100.85" stroke="#1a1a1a" stroke-width="0.75"/>
<line x1="380.71" y1="98.95" x2="380.71" y2="100.85" stroke="#1a1a1a" stroke-width="0.75"/>
<line x1="381.88" y1="98.95" x2="381.88" y2="100.85" stroke="#1a1a1a" stroke-width="0.75"/>
<line x1="382.92" y1="98.95" x2="382.92" y2="100.85" stroke="#1a1a1a" stroke-width="0.75"/>
<text x="306.1" y="34.2" font-size="7" text-anchor="start" fill="#333" textLength="27.6" lengthAdjust="spacingAndGlyphs" style="stroke:none">EC<tspan font-size="4.2" dy="2.2">50</tspan><tspan dy="-2.2"> (nM)</tspan></text>
<line x1="306.4" y1="41.3" x2="313.2" y2="41.3" stroke="#e08a0e" stroke-width="0.9"/>
<circle cx="309.8" cy="41.3" r="1.2" fill="#e08a0e"/>
<text x="316.5" y="43.8" font-size="6.9" text-anchor="start" fill="#222" textLength="12.07" lengthAdjust="spacingAndGlyphs">9.67</text>
<line x1="306.4" y1="50.5" x2="313.2" y2="50.5" stroke="#b5123f" stroke-width="0.9"/>
<path d="M309.8 49.12L311.18 51.53L308.43 51.53Z" fill="#b5123f"/>
<text x="316.5" y="53" font-size="6.9" text-anchor="start" fill="#222" textLength="15.51" lengthAdjust="spacingAndGlyphs">25.64</text>
<path d="M312.7 95.94 L313.8 95.93 L314.9 95.92 L316.01 95.92 L317.11 95.91 L318.21 95.9 L319.31 95.89 L320.42 95.89 L321.52 95.88 L322.62 95.87 L323.72 95.86 L324.83 95.86 L325.93 95.85 L327.03 95.84 L328.13 95.84 L329.24 95.83 L330.34 95.82 L331.44 95.82 L332.54 95.81 L333.64 95.8 L334.75 95.8 L335.85 95.79 L336.95 95.78 L338.05 95.78 L339.16 95.77 L340.26 95.76 L341.36 95.76 L342.46 95.75 L343.57 95.75 L344.67 95.74 L345.77 95.73 L346.87 95.73 L347.98 95.72 L349.08 95.72 L350.18 95.71 L351.28 95.71 L352.38 95.7 L353.49 95.7 L354.59 95.69 L355.69 95.68 L356.79 95.68 L357.9 95.67 L359 95.67 L360.1 95.66 L361.2 95.66 L362.31 95.65 L363.41 95.65 L364.51 95.64 L365.61 95.64 L366.72 95.63 L367.82 95.63 L368.92 95.63 L370.02 95.62 L371.12 95.62 L372.23 95.61 L373.33 95.61 L374.43 95.6 L375.53 95.6 L376.64 95.59 L377.74 95.59" fill="none" stroke="#163a82" stroke-width="0.9"/>
<path d="M312.7 95.89 L313.8 95.89 L314.9 95.88 L316.01 95.88 L317.11 95.88 L318.21 95.87 L319.31 95.87 L320.42 95.86 L321.52 95.85 L322.62 95.84 L323.72 95.83 L324.83 95.81 L325.93 95.79 L327.03 95.77 L328.13 95.74 L329.24 95.7 L330.34 95.65 L331.44 95.59 L332.54 95.52 L333.64 95.44 L334.75 95.33 L335.85 95.2 L336.95 95.04 L338.05 94.85 L339.16 94.63 L340.26 94.35 L341.36 94.03 L342.46 93.66 L343.57 93.22 L344.67 92.72 L345.77 92.16 L346.87 91.55 L347.98 90.88 L349.08 90.17 L350.18 89.43 L351.28 88.69 L352.38 87.95 L353.49 87.23 L354.59 86.55 L355.69 85.92 L356.79 85.35 L357.9 84.84 L359 84.39 L360.1 83.99 L361.2 83.66 L362.31 83.38 L363.41 83.14 L364.51 82.94 L365.61 82.78 L366.72 82.64 L367.82 82.53 L368.92 82.44 L370.02 82.36 L371.12 82.3 L372.23 82.25 L373.33 82.21 L374.43 82.18 L375.53 82.16 L376.64 82.13 L377.74 82.12" fill="none" stroke="#b5123f" stroke-width="0.9"/>
<path d="M312.7 95.19 L313.8 95.17 L314.9 95.15 L316.01 95.12 L317.11 95.09 L318.21 95.05 L319.31 95 L320.42 94.93 L321.52 94.85 L322.62 94.74 L323.72 94.61 L324.83 94.45 L325.93 94.25 L327.03 93.99 L328.13 93.68 L329.24 93.29 L330.34 92.82 L331.44 92.24 L332.54 91.55 L333.64 90.71 L334.75 89.73 L335.85 88.58 L336.95 87.26 L338.05 85.78 L339.16 84.15 L340.26 82.39 L341.36 80.55 L342.46 78.67 L343.57 76.79 L344.67 74.97 L345.77 73.26 L346.87 71.67 L347.98 70.25 L349.08 68.99 L350.18 67.9 L351.28 66.97 L352.38 66.19 L353.49 65.53 L354.59 64.99 L355.69 64.55 L356.79 64.19 L357.9 63.9 L359 63.67 L360.1 63.48 L361.2 63.33 L362.31 63.21 L363.41 63.11 L364.51 63.04 L365.61 62.98 L366.72 62.93 L367.82 62.89 L368.92 62.86 L370.02 62.83 L371.12 62.82 L372.23 62.8 L373.33 62.79 L374.43 62.78 L375.53 62.77 L376.64 62.76 L377.74 62.76" fill="none" stroke="#e08a0e" stroke-width="0.9"/>
<rect x="318.28" y="94.55" width="2.7" height="2.7" fill="#163a82"/>
<rect x="327.96" y="94.45" width="2.7" height="2.7" fill="#163a82"/>
<rect x="337.65" y="94.45" width="2.7" height="2.7" fill="#163a82"/>
<rect x="347.33" y="94.35" width="2.7" height="2.7" fill="#163a82"/>
<rect x="357.02" y="94.35" width="2.7" height="2.7" fill="#163a82"/>
<rect x="366.7" y="94.25" width="2.7" height="2.7" fill="#163a82"/>
<rect x="376.39" y="94.25" width="2.7" height="2.7" fill="#163a82"/>
<path d="M319.63 94.21L321.31 97.17L317.94 97.17Z" fill="#b5123f"/>
<path d="M329.31 94.21L331 97.17L327.62 97.17Z" fill="#b5123f"/>
<path d="M339 92.31L340.68 95.27L337.31 95.27Z" fill="#b5123f"/>
<path d="M348.68 89.01L350.37 91.97L346.99 91.97Z" fill="#b5123f"/>
<path d="M358.37 83.11L360.06 86.07L356.68 86.07Z" fill="#b5123f"/>
<path d="M368.05 79.41L369.74 82.37L366.37 82.37Z" fill="#b5123f"/>
<path d="M377.74 81.61L379.43 84.57L376.05 84.57Z" fill="#b5123f"/>
<circle cx="319.63" cy="94.6" r="1.35" fill="#e08a0e"/>
<circle cx="329.31" cy="92" r="1.35" fill="#e08a0e"/>
<circle cx="339" cy="84.2" r="1.35" fill="#e08a0e"/>
<circle cx="348.68" cy="71.3" r="1.35" fill="#e08a0e"/>
<circle cx="358.37" cy="58.3" r="1.35" fill="#e08a0e"/>
<circle cx="368.05" cy="58.3" r="1.35" fill="#e08a0e"/>
<circle cx="377.74" cy="71.3" r="1.35" fill="#e08a0e"/>
<line x1="303.8" y1="96.5" x2="308.1" y2="96.5" stroke="#163a82" stroke-width="0.9"/>
<line x1="303.8" y1="95.7" x2="308.1" y2="95.7" stroke="#b5123f" stroke-width="0.9"/>
<line x1="303.8" y1="95" x2="308.1" y2="95" stroke="#e08a0e" stroke-width="0.8"/>
<rect x="302.45" y="94.35" width="2.7" height="2.7" fill="#163a82"/>
<path d="M303.8 94.01L305.49 96.97L302.11 96.97Z" fill="#b5123f"/>
<circle cx="303.8" cy="95.7" r="1.35" fill="#e08a0e"/>
<line x1="424.1" y1="34.8" x2="424.1" y2="99.25" stroke="#1a1a1a" stroke-width="1.2"/>
<line x1="421.3" y1="98.75" x2="424.1" y2="98.75" stroke="#1a1a1a" stroke-width="1.2"/>
<text x="417.8" y="101.45" font-size="8.8" text-anchor="end" fill="#222" textLength="4.28" lengthAdjust="spacingAndGlyphs">0</text>
<line x1="421.3" y1="86.48" x2="424.1" y2="86.48" stroke="#1a1a1a" stroke-width="1.2"/>
<text x="417.8" y="89.18" font-size="8.8" text-anchor="end" fill="#222" textLength="17.13" lengthAdjust="spacingAndGlyphs">2000</text>
<line x1="421.3" y1="74.21" x2="424.1" y2="74.21" stroke="#1a1a1a" stroke-width="1.2"/>
<text x="417.8" y="76.91" font-size="8.8" text-anchor="end" fill="#222" textLength="17.13" lengthAdjust="spacingAndGlyphs">4000</text>
<line x1="421.3" y1="61.94" x2="424.1" y2="61.94" stroke="#1a1a1a" stroke-width="1.2"/>
<text x="417.8" y="64.64" font-size="8.8" text-anchor="end" fill="#222" textLength="17.13" lengthAdjust="spacingAndGlyphs">6000</text>
<line x1="421.3" y1="49.67" x2="424.1" y2="49.67" stroke="#1a1a1a" stroke-width="1.2"/>
<text x="417.8" y="52.37" font-size="8.8" text-anchor="end" fill="#222" textLength="17.13" lengthAdjust="spacingAndGlyphs">8000</text>
<line x1="421.3" y1="37.4" x2="424.1" y2="37.4" stroke="#1a1a1a" stroke-width="1.2"/>
<text x="417.8" y="40.1" font-size="8.8" text-anchor="end" fill="#222" textLength="21.41" lengthAdjust="spacingAndGlyphs">10000</text>
<line x1="424.1" y1="98.75" x2="428.6" y2="98.75" stroke="#1a1a1a" stroke-width="1.2"/>
<line x1="428.4" y1="97.15" x2="428.4" y2="100.35" stroke="#1a1a1a" stroke-width="0.8"/>
<line x1="433" y1="97.15" x2="433" y2="100.35" stroke="#1a1a1a" stroke-width="0.8"/>
<line x1="433" y1="98.75" x2="507.3" y2="98.75" stroke="#1a1a1a" stroke-width="1.2"/>
<line x1="424.1" y1="98.75" x2="424.1" y2="101.75" stroke="#1a1a1a" stroke-width="1.2"/>
<text x="424.1" y="111.8" font-size="8.8" text-anchor="middle" fill="#222" textLength="4.28" lengthAdjust="spacingAndGlyphs">0</text>
<line x1="443.25" y1="98.75" x2="443.25" y2="101.75" stroke="#1a1a1a" stroke-width="1.2"/>
<text x="443.25" y="111.8" font-size="8.8" text-anchor="middle" fill="#222" textLength="4.28" lengthAdjust="spacingAndGlyphs">1</text>
<line x1="463.55" y1="98.75" x2="463.55" y2="101.75" stroke="#1a1a1a" stroke-width="1.2"/>
<text x="463.55" y="111.8" font-size="8.8" text-anchor="middle" fill="#222" textLength="8.56" lengthAdjust="spacingAndGlyphs">10</text>
<line x1="483.85" y1="98.75" x2="483.85" y2="101.75" stroke="#1a1a1a" stroke-width="1.2"/>
<text x="483.85" y="111.8" font-size="8.8" text-anchor="middle" fill="#222" textLength="12.85" lengthAdjust="spacingAndGlyphs">100</text>
<line x1="504.15" y1="98.75" x2="504.15" y2="101.75" stroke="#1a1a1a" stroke-width="1.2"/>
<text x="504.15" y="111.8" font-size="8.8" text-anchor="middle" fill="#222" textLength="17.13" lengthAdjust="spacingAndGlyphs">1000</text>
<line x1="435.17" y1="98.75" x2="435.17" y2="100.65" stroke="#1a1a1a" stroke-width="0.75"/>
<line x1="437.14" y1="98.75" x2="437.14" y2="100.65" stroke="#1a1a1a" stroke-width="0.75"/>
<line x1="438.75" y1="98.75" x2="438.75" y2="100.65" stroke="#1a1a1a" stroke-width="0.75"/>
<line x1="440.11" y1="98.75" x2="440.11" y2="100.65" stroke="#1a1a1a" stroke-width="0.75"/>
<line x1="441.28" y1="98.75" x2="441.28" y2="100.65" stroke="#1a1a1a" stroke-width="0.75"/>
<line x1="442.32" y1="98.75" x2="442.32" y2="100.65" stroke="#1a1a1a" stroke-width="0.75"/>
<line x1="449.36" y1="98.75" x2="449.36" y2="100.65" stroke="#1a1a1a" stroke-width="0.75"/>
<line x1="452.94" y1="98.75" x2="452.94" y2="100.65" stroke="#1a1a1a" stroke-width="0.75"/>
<line x1="455.47" y1="98.75" x2="455.47" y2="100.65" stroke="#1a1a1a" stroke-width="0.75"/>
<line x1="457.44" y1="98.75" x2="457.44" y2="100.65" stroke="#1a1a1a" stroke-width="0.75"/>
<line x1="459.05" y1="98.75" x2="459.05" y2="100.65" stroke="#1a1a1a" stroke-width="0.75"/>
<line x1="460.41" y1="98.75" x2="460.41" y2="100.65" stroke="#1a1a1a" stroke-width="0.75"/>
<line x1="461.58" y1="98.75" x2="461.58" y2="100.65" stroke="#1a1a1a" stroke-width="0.75"/>
<line x1="462.62" y1="98.75" x2="462.62" y2="100.65" stroke="#1a1a1a" stroke-width="0.75"/>
<line x1="469.66" y1="98.75" x2="469.66" y2="100.65" stroke="#1a1a1a" stroke-width="0.75"/>
<line x1="473.24" y1="98.75" x2="473.24" y2="100.65" stroke="#1a1a1a" stroke-width="0.75"/>
<line x1="475.77" y1="98.75" x2="475.77" y2="100.65" stroke="#1a1a1a" stroke-width="0.75"/>
<line x1="477.74" y1="98.75" x2="477.74" y2="100.65" stroke="#1a1a1a" stroke-width="0.75"/>
<line x1="479.35" y1="98.75" x2="479.35" y2="100.65" stroke="#1a1a1a" stroke-width="0.75"/>
<line x1="480.71" y1="98.75" x2="480.71" y2="100.65" stroke="#1a1a1a" stroke-width="0.75"/>
<line x1="481.88" y1="98.75" x2="481.88" y2="100.65" stroke="#1a1a1a" stroke-width="0.75"/>
<line x1="482.92" y1="98.75" x2="482.92" y2="100.65" stroke="#1a1a1a" stroke-width="0.75"/>
<line x1="489.96" y1="98.75" x2="489.96" y2="100.65" stroke="#1a1a1a" stroke-width="0.75"/>
<line x1="493.54" y1="98.75" x2="493.54" y2="100.65" stroke="#1a1a1a" stroke-width="0.75"/>
<line x1="496.07" y1="98.75" x2="496.07" y2="100.65" stroke="#1a1a1a" stroke-width="0.75"/>
<line x1="498.04" y1="98.75" x2="498.04" y2="100.65" stroke="#1a1a1a" stroke-width="0.75"/>
<line x1="499.65" y1="98.75" x2="499.65" y2="100.65" stroke="#1a1a1a" stroke-width="0.75"/>
<line x1="501.01" y1="98.75" x2="501.01" y2="100.65" stroke="#1a1a1a" stroke-width="0.75"/>
<line x1="502.18" y1="98.75" x2="502.18" y2="100.65" stroke="#1a1a1a" stroke-width="0.75"/>
<line x1="503.22" y1="98.75" x2="503.22" y2="100.65" stroke="#1a1a1a" stroke-width="0.75"/>
<text x="426.4" y="34.2" font-size="7" text-anchor="start" fill="#333" textLength="27.6" lengthAdjust="spacingAndGlyphs" style="stroke:none">EC<tspan font-size="4.2" dy="2.2">50</tspan><tspan dy="-2.2"> (nM)</tspan></text>
<line x1="426.7" y1="41.3" x2="433.5" y2="41.3" stroke="#e08a0e" stroke-width="0.9"/>
<circle cx="430.1" cy="41.3" r="1.2" fill="#e08a0e"/>
<text x="436.8" y="43.8" font-size="6.9" text-anchor="start" fill="#222" textLength="15.51" lengthAdjust="spacingAndGlyphs">13.78</text>
<line x1="426.7" y1="50.5" x2="433.5" y2="50.5" stroke="#b5123f" stroke-width="0.9"/>
<path d="M430.1 49.12L431.48 51.53L428.73 51.53Z" fill="#b5123f"/>
<text x="436.8" y="53" font-size="6.9" text-anchor="start" fill="#222" textLength="15.51" lengthAdjust="spacingAndGlyphs">30.39</text>
<path d="M433 94.43 L434.1 94.43 L435.2 94.43 L436.31 94.43 L437.41 94.42 L438.51 94.42 L439.61 94.42 L440.72 94.41 L441.82 94.41 L442.92 94.41 L444.02 94.4 L445.13 94.4 L446.23 94.39 L447.33 94.39 L448.43 94.38 L449.54 94.38 L450.64 94.37 L451.74 94.36 L452.84 94.36 L453.94 94.35 L455.05 94.34 L456.15 94.33 L457.25 94.32 L458.35 94.31 L459.46 94.3 L460.56 94.29 L461.66 94.28 L462.76 94.27 L463.87 94.26 L464.97 94.25 L466.07 94.23 L467.17 94.22 L468.28 94.2 L469.38 94.19 L470.48 94.17 L471.58 94.15 L472.68 94.13 L473.79 94.12 L474.89 94.1 L475.99 94.07 L477.09 94.05 L478.2 94.03 L479.3 94.01 L480.4 93.98 L481.5 93.96 L482.61 93.93 L483.71 93.91 L484.81 93.88 L485.91 93.85 L487.02 93.82 L488.12 93.79 L489.22 93.76 L490.32 93.73 L491.42 93.7 L492.53 93.67 L493.63 93.63 L494.73 93.6 L495.83 93.57 L496.94 93.54 L498.04 93.5" fill="none" stroke="#163a82" stroke-width="0.9"/>
<path d="M433 93.94 L434.1 93.94 L435.2 93.94 L436.31 93.93 L437.41 93.92 L438.51 93.92 L439.61 93.91 L440.72 93.89 L441.82 93.88 L442.92 93.86 L444.02 93.84 L445.13 93.82 L446.23 93.79 L447.33 93.75 L448.43 93.71 L449.54 93.66 L450.64 93.6 L451.74 93.52 L452.84 93.44 L453.94 93.33 L455.05 93.21 L456.15 93.07 L457.25 92.9 L458.35 92.7 L459.46 92.47 L460.56 92.2 L461.66 91.88 L462.76 91.53 L463.87 91.12 L464.97 90.66 L466.07 90.16 L467.17 89.6 L468.28 88.99 L469.38 88.34 L470.48 87.66 L471.58 86.95 L472.68 86.23 L473.79 85.51 L474.89 84.79 L475.99 84.1 L477.09 83.44 L478.2 82.82 L479.3 82.25 L480.4 81.72 L481.5 81.25 L482.61 80.83 L483.71 80.46 L484.81 80.14 L485.91 79.85 L487.02 79.61 L488.12 79.4 L489.22 79.22 L490.32 79.07 L491.42 78.94 L492.53 78.83 L493.63 78.74 L494.73 78.67 L495.83 78.6 L496.94 78.55 L498.04 78.5" fill="none" stroke="#b5123f" stroke-width="0.9"/>
<path d="M433 93.4 L434.1 93.37 L435.2 93.33 L436.31 93.29 L437.41 93.23 L438.51 93.17 L439.61 93.09 L440.72 92.99 L441.82 92.88 L442.92 92.74 L444.02 92.58 L445.13 92.38 L446.23 92.15 L447.33 91.86 L448.43 91.53 L449.54 91.13 L450.64 90.66 L451.74 90.11 L452.84 89.47 L453.94 88.71 L455.05 87.84 L456.15 86.84 L457.25 85.7 L458.35 84.42 L459.46 82.99 L460.56 81.42 L461.66 79.72 L462.76 77.9 L463.87 75.99 L464.97 74.02 L466.07 72.01 L467.17 70.01 L468.28 68.05 L469.38 66.17 L470.48 64.38 L471.58 62.71 L472.68 61.18 L473.79 59.8 L474.89 58.56 L475.99 57.46 L477.09 56.5 L478.2 55.66 L479.3 54.94 L480.4 54.32 L481.5 53.79 L482.61 53.35 L483.71 52.97 L484.81 52.65 L485.91 52.38 L487.02 52.16 L488.12 51.97 L489.22 51.82 L490.32 51.69 L491.42 51.58 L492.53 51.49 L493.63 51.41 L494.73 51.35 L495.83 51.3 L496.94 51.26 L498.04 51.22" fill="none" stroke="#e08a0e" stroke-width="0.9"/>
<rect x="438.58" y="93.05" width="2.7" height="2.7" fill="#163a82"/>
<rect x="448.26" y="93.05" width="2.7" height="2.7" fill="#163a82"/>
<rect x="457.95" y="92.95" width="2.7" height="2.7" fill="#163a82"/>
<rect x="467.63" y="92.85" width="2.7" height="2.7" fill="#163a82"/>
<rect x="477.32" y="92.65" width="2.7" height="2.7" fill="#163a82"/>
<rect x="487" y="92.45" width="2.7" height="2.7" fill="#163a82"/>
<rect x="496.69" y="92.15" width="2.7" height="2.7" fill="#163a82"/>
<path d="M439.93 92.11L441.61 95.07L438.24 95.07Z" fill="#b5123f"/>
<path d="M449.61 92.11L451.3 95.07L447.92 95.07Z" fill="#b5123f"/>
<path d="M459.3 90.31L460.98 93.27L457.61 93.27Z" fill="#b5123f"/>
<path d="M468.98 87.11L470.67 90.07L467.29 90.07Z" fill="#b5123f"/>
<path d="M478.67 81.01L480.36 83.97L476.98 83.97Z" fill="#b5123f"/>
<path d="M488.35 77.01L490.04 79.97L486.67 79.97Z" fill="#b5123f"/>
<path d="M498.04 77.31L499.73 80.27L496.35 80.27Z" fill="#b5123f"/>
<circle cx="439.93" cy="93.1" r="1.35" fill="#e08a0e"/>
<circle cx="449.61" cy="90.1" r="1.35" fill="#e08a0e"/>
<circle cx="459.3" cy="82.4" r="1.35" fill="#e08a0e"/>
<circle cx="468.98" cy="68.5" r="1.35" fill="#e08a0e"/>
<circle cx="478.67" cy="54.3" r="1.35" fill="#e08a0e"/>
<circle cx="488.35" cy="46.3" r="1.35" fill="#e08a0e"/>
<circle cx="498.04" cy="56.9" r="1.35" fill="#e08a0e"/>
<line x1="424.1" y1="94.6" x2="428.4" y2="94.6" stroke="#163a82" stroke-width="0.9"/>
<line x1="424.1" y1="93.8" x2="428.4" y2="93.8" stroke="#b5123f" stroke-width="0.9"/>
<line x1="424.1" y1="93.1" x2="428.4" y2="93.1" stroke="#e08a0e" stroke-width="0.8"/>
<rect x="422.75" y="92.45" width="2.7" height="2.7" fill="#163a82"/>
<path d="M424.1 92.11L425.79 95.07L422.41 95.07Z" fill="#b5123f"/>
<circle cx="424.1" cy="93.8" r="1.35" fill="#e08a0e"/>
<line x1="67.95" y1="124.4" x2="67.95" y2="189.85" stroke="#1a1a1a" stroke-width="1.2"/>
<line x1="65.15" y1="189.35" x2="67.95" y2="189.35" stroke="#1a1a1a" stroke-width="1.2"/>
<text x="61.65" y="192.05" font-size="8.8" text-anchor="end" fill="#222" textLength="11.13" lengthAdjust="spacingAndGlyphs">-20</text>
<line x1="66.45" y1="184.15" x2="67.95" y2="184.15" stroke="#1a1a1a" stroke-width="0.8"/>
<line x1="65.15" y1="178.94" x2="67.95" y2="178.94" stroke="#1a1a1a" stroke-width="1.2"/>
<text x="61.65" y="181.64" font-size="8.8" text-anchor="end" fill="#222" textLength="4.28" lengthAdjust="spacingAndGlyphs">0</text>
<line x1="66.45" y1="173.74" x2="67.95" y2="173.74" stroke="#1a1a1a" stroke-width="0.8"/>
<line x1="65.15" y1="168.53" x2="67.95" y2="168.53" stroke="#1a1a1a" stroke-width="1.2"/>
<text x="61.65" y="171.23" font-size="8.8" text-anchor="end" fill="#222" textLength="8.56" lengthAdjust="spacingAndGlyphs">20</text>
<line x1="66.45" y1="163.33" x2="67.95" y2="163.33" stroke="#1a1a1a" stroke-width="0.8"/>
<line x1="65.15" y1="158.12" x2="67.95" y2="158.12" stroke="#1a1a1a" stroke-width="1.2"/>
<text x="61.65" y="160.82" font-size="8.8" text-anchor="end" fill="#222" textLength="8.56" lengthAdjust="spacingAndGlyphs">40</text>
<line x1="66.45" y1="152.92" x2="67.95" y2="152.92" stroke="#1a1a1a" stroke-width="0.8"/>
<line x1="65.15" y1="147.72" x2="67.95" y2="147.72" stroke="#1a1a1a" stroke-width="1.2"/>
<text x="61.65" y="150.42" font-size="8.8" text-anchor="end" fill="#222" textLength="8.56" lengthAdjust="spacingAndGlyphs">60</text>
<line x1="66.45" y1="142.51" x2="67.95" y2="142.51" stroke="#1a1a1a" stroke-width="0.8"/>
<line x1="65.15" y1="137.31" x2="67.95" y2="137.31" stroke="#1a1a1a" stroke-width="1.2"/>
<text x="61.65" y="140.01" font-size="8.8" text-anchor="end" fill="#222" textLength="8.56" lengthAdjust="spacingAndGlyphs">80</text>
<line x1="66.45" y1="132.1" x2="67.95" y2="132.1" stroke="#1a1a1a" stroke-width="0.8"/>
<line x1="65.15" y1="126.9" x2="67.95" y2="126.9" stroke="#1a1a1a" stroke-width="1.2"/>
<text x="61.65" y="129.6" font-size="8.8" text-anchor="end" fill="#222" textLength="12.85" lengthAdjust="spacingAndGlyphs">100</text>
<line x1="67.95" y1="189.35" x2="150.65" y2="189.35" stroke="#1a1a1a" stroke-width="1.2"/>
<line x1="72.65" y1="189.35" x2="72.65" y2="191.95" stroke="#1a1a1a" stroke-width="0.8"/>
<text x="75.45" y="198.55" font-size="8.8" text-anchor="end" fill="#222" transform="rotate(-45 75.45 198.55)" textLength="4.23" lengthAdjust="spacingAndGlyphs" style="stroke-width:0.12px">0</text>
<line x1="83.21" y1="189.35" x2="83.21" y2="191.95" stroke="#1a1a1a" stroke-width="0.8"/>
<text x="86.01" y="198.55" font-size="8.8" text-anchor="end" fill="#222" transform="rotate(-45 86.01 198.55)" textLength="14.79" lengthAdjust="spacingAndGlyphs" style="stroke-width:0.12px">0.01</text>
<line x1="96.18" y1="189.35" x2="96.18" y2="191.95" stroke="#1a1a1a" stroke-width="0.8"/>
<text x="98.98" y="198.55" font-size="8.8" text-anchor="end" fill="#222" transform="rotate(-45 98.98 198.55)" textLength="10.56" lengthAdjust="spacingAndGlyphs" style="stroke-width:0.12px">0.1</text>
<line x1="109.15" y1="189.35" x2="109.15" y2="191.95" stroke="#1a1a1a" stroke-width="0.8"/>
<text x="111.95" y="198.55" font-size="8.8" text-anchor="end" fill="#222" transform="rotate(-45 111.95 198.55)" textLength="4.23" lengthAdjust="spacingAndGlyphs" style="stroke-width:0.12px">1</text>
<line x1="122.12" y1="189.35" x2="122.12" y2="191.95" stroke="#1a1a1a" stroke-width="0.8"/>
<text x="124.92" y="198.55" font-size="8.8" text-anchor="end" fill="#222" transform="rotate(-45 124.92 198.55)" textLength="8.45" lengthAdjust="spacingAndGlyphs" style="stroke-width:0.12px">10</text>
<line x1="135.09" y1="189.35" x2="135.09" y2="191.95" stroke="#1a1a1a" stroke-width="0.8"/>
<text x="137.89" y="198.55" font-size="8.8" text-anchor="end" fill="#222" transform="rotate(-45 137.89 198.55)" textLength="12.68" lengthAdjust="spacingAndGlyphs" style="stroke-width:0.12px">100</text>
<line x1="148.06" y1="189.35" x2="148.06" y2="191.95" stroke="#1a1a1a" stroke-width="0.8"/>
<text x="150.86" y="198.55" font-size="8.8" text-anchor="end" fill="#222" transform="rotate(-45 150.86 198.55)" textLength="16.91" lengthAdjust="spacingAndGlyphs" style="stroke-width:0.12px">1000</text>
<line x1="74.14" y1="189.35" x2="74.14" y2="191.15" stroke="#1a1a1a" stroke-width="0.7"/>
<line x1="76.43" y1="189.35" x2="76.43" y2="191.15" stroke="#1a1a1a" stroke-width="0.7"/>
<line x1="78.05" y1="189.35" x2="78.05" y2="191.15" stroke="#1a1a1a" stroke-width="0.7"/>
<line x1="79.31" y1="189.35" x2="79.31" y2="191.15" stroke="#1a1a1a" stroke-width="0.7"/>
<line x1="80.33" y1="189.35" x2="80.33" y2="191.15" stroke="#1a1a1a" stroke-width="0.7"/>
<line x1="81.2" y1="189.35" x2="81.2" y2="191.15" stroke="#1a1a1a" stroke-width="0.7"/>
<line x1="81.95" y1="189.35" x2="81.95" y2="191.15" stroke="#1a1a1a" stroke-width="0.7"/>
<line x1="82.62" y1="189.35" x2="82.62" y2="191.15" stroke="#1a1a1a" stroke-width="0.7"/>
<line x1="87.11" y1="189.35" x2="87.11" y2="191.15" stroke="#1a1a1a" stroke-width="0.7"/>
<line x1="89.4" y1="189.35" x2="89.4" y2="191.15" stroke="#1a1a1a" stroke-width="0.7"/>
<line x1="91.02" y1="189.35" x2="91.02" y2="191.15" stroke="#1a1a1a" stroke-width="0.7"/>
<line x1="92.28" y1="189.35" x2="92.28" y2="191.15" stroke="#1a1a1a" stroke-width="0.7"/>
<line x1="93.3" y1="189.35" x2="93.3" y2="191.15" stroke="#1a1a1a" stroke-width="0.7"/>
<line x1="94.17" y1="189.35" x2="94.17" y2="191.15" stroke="#1a1a1a" stroke-width="0.7"/>
<line x1="94.92" y1="189.35" x2="94.92" y2="191.15" stroke="#1a1a1a" stroke-width="0.7"/>
<line x1="95.59" y1="189.35" x2="95.59" y2="191.15" stroke="#1a1a1a" stroke-width="0.7"/>
<line x1="100.08" y1="189.35" x2="100.08" y2="191.15" stroke="#1a1a1a" stroke-width="0.7"/>
<line x1="102.37" y1="189.35" x2="102.37" y2="191.15" stroke="#1a1a1a" stroke-width="0.7"/>
<line x1="103.99" y1="189.35" x2="103.99" y2="191.15" stroke="#1a1a1a" stroke-width="0.7"/>
<line x1="105.25" y1="189.35" x2="105.25" y2="191.15" stroke="#1a1a1a" stroke-width="0.7"/>
<line x1="106.27" y1="189.35" x2="106.27" y2="191.15" stroke="#1a1a1a" stroke-width="0.7"/>
<line x1="107.14" y1="189.35" x2="107.14" y2="191.15" stroke="#1a1a1a" stroke-width="0.7"/>
<line x1="107.89" y1="189.35" x2="107.89" y2="191.15" stroke="#1a1a1a" stroke-width="0.7"/>
<line x1="108.56" y1="189.35" x2="108.56" y2="191.15" stroke="#1a1a1a" stroke-width="0.7"/>
<line x1="113.05" y1="189.35" x2="113.05" y2="191.15" stroke="#1a1a1a" stroke-width="0.7"/>
<line x1="115.34" y1="189.35" x2="115.34" y2="191.15" stroke="#1a1a1a" stroke-width="0.7"/>
<line x1="116.96" y1="189.35" x2="116.96" y2="191.15" stroke="#1a1a1a" stroke-width="0.7"/>
<line x1="118.22" y1="189.35" x2="118.22" y2="191.15" stroke="#1a1a1a" stroke-width="0.7"/>
<line x1="119.24" y1="189.35" x2="119.24" y2="191.15" stroke="#1a1a1a" stroke-width="0.7"/>
<line x1="120.11" y1="189.35" x2="120.11" y2="191.15" stroke="#1a1a1a" stroke-width="0.7"/>
<line x1="120.86" y1="189.35" x2="120.86" y2="191.15" stroke="#1a1a1a" stroke-width="0.7"/>
<line x1="121.53" y1="189.35" x2="121.53" y2="191.15" stroke="#1a1a1a" stroke-width="0.7"/>
<line x1="126.02" y1="189.35" x2="126.02" y2="191.15" stroke="#1a1a1a" stroke-width="0.7"/>
<line x1="128.31" y1="189.35" x2="128.31" y2="191.15" stroke="#1a1a1a" stroke-width="0.7"/>
<line x1="129.93" y1="189.35" x2="129.93" y2="191.15" stroke="#1a1a1a" stroke-width="0.7"/>
<line x1="131.19" y1="189.35" x2="131.19" y2="191.15" stroke="#1a1a1a" stroke-width="0.7"/>
<line x1="132.21" y1="189.35" x2="132.21" y2="191.15" stroke="#1a1a1a" stroke-width="0.7"/>
<line x1="133.08" y1="189.35" x2="133.08" y2="191.15" stroke="#1a1a1a" stroke-width="0.7"/>
<line x1="133.83" y1="189.35" x2="133.83" y2="191.15" stroke="#1a1a1a" stroke-width="0.7"/>
<line x1="134.5" y1="189.35" x2="134.5" y2="191.15" stroke="#1a1a1a" stroke-width="0.7"/>
<line x1="138.99" y1="189.35" x2="138.99" y2="191.15" stroke="#1a1a1a" stroke-width="0.7"/>
<line x1="141.28" y1="189.35" x2="141.28" y2="191.15" stroke="#1a1a1a" stroke-width="0.7"/>
<line x1="142.9" y1="189.35" x2="142.9" y2="191.15" stroke="#1a1a1a" stroke-width="0.7"/>
<line x1="144.16" y1="189.35" x2="144.16" y2="191.15" stroke="#1a1a1a" stroke-width="0.7"/>
<line x1="145.18" y1="189.35" x2="145.18" y2="191.15" stroke="#1a1a1a" stroke-width="0.7"/>
<line x1="146.05" y1="189.35" x2="146.05" y2="191.15" stroke="#1a1a1a" stroke-width="0.7"/>
<line x1="146.8" y1="189.35" x2="146.8" y2="191.15" stroke="#1a1a1a" stroke-width="0.7"/>
<line x1="147.47" y1="189.35" x2="147.47" y2="191.15" stroke="#1a1a1a" stroke-width="0.7"/>
<line x1="70.45" y1="178.94" x2="148.95" y2="178.94" stroke="#444" stroke-width="0.8" stroke-dasharray="0.9 1.1"/>
<path d="M70.55 180.7 L72.06 180.7 L73.56 180.7 L75.07 180.7 L76.57 180.7 L78.08 180.7 L79.59 180.7 L81.09 180.7 L82.6 180.7 L84.11 180.7 L85.61 180.7 L87.12 180.7 L88.62 180.7 L90.13 180.7 L91.64 180.7 L93.14 180.7 L94.65 180.7 L96.16 180.7 L97.66 180.7 L99.17 180.7 L100.67 180.7 L102.18 180.7 L103.69 180.7 L105.19 180.7 L106.7 180.7 L108.21 180.7 L109.71 180.66 L111.22 180.6 L112.72 180.52 L114.23 180.41 L115.74 180.3 L117.24 180.18 L118.75 180.05 L120.26 179.93 L121.76 179.82 L123.27 179.72 L124.77 179.64 L126.28 179.59 L127.79 179.54 L129.29 179.49 L130.8 179.45 L132.31 179.41 L133.81 179.37 L135.32 179.33 L136.82 179.29 L138.33 179.27 L139.84 179.24 L141.34 179.22 L142.85 179.21 L144.36 179.2" fill="none" stroke="#163a82" stroke-width="0.9"/>
<path d="M70.55 180.1 L72.06 180.1 L73.56 180.1 L75.07 180.1 L76.57 180.1 L78.08 180.1 L79.59 180.1 L81.09 180.1 L82.6 180.1 L84.11 180.1 L85.61 180.1 L87.12 180.1 L88.62 180.1 L90.13 180.1 L91.64 180.1 L93.14 180.1 L94.65 180.1 L96.16 180.1 L97.66 180.1 L99.17 180.1 L100.67 180.1 L102.18 180.1 L103.69 180.1 L105.19 180.1 L106.7 180.1 L108.21 180.1 L109.71 180.09 L111.22 180.07 L112.72 180.05 L114.23 180.02 L115.74 179.98 L117.24 179.94 L118.75 179.89 L120.26 179.83 L121.76 179.77 L123.27 179.71 L124.77 179.64 L126.28 179.57 L127.79 179.49 L129.29 179.42 L130.8 179.33 L132.31 179.21 L133.81 179.07 L135.32 178.9 L136.82 178.71 L138.33 178.51 L139.84 178.3 L141.34 178.07 L142.85 177.84 L144.36 177.6" fill="none" stroke="#b5123f" stroke-width="0.9"/>
<path d="M70.55 178.48 L71.8 178.14 L73.05 177.75 L74.3 177.3 L75.55 176.79 L76.8 176.2 L78.06 175.52 L79.31 174.75 L80.56 173.89 L81.81 172.93 L83.06 171.87 L84.31 170.7 L85.56 169.44 L86.81 168.08 L88.06 166.64 L89.31 165.14 L90.57 163.6 L91.82 162.03 L93.07 160.45 L94.32 158.89 L95.57 157.38 L96.82 155.92 L98.07 154.54 L99.32 153.25 L100.57 152.05 L101.82 150.96 L103.07 149.97 L104.33 149.08 L105.58 148.29 L106.83 147.58 L108.08 146.97 L109.33 146.43 L110.58 145.96 L111.83 145.56 L113.08 145.21 L114.33 144.91 L115.58 144.65 L116.83 144.43 L118.09 144.24 L119.34 144.08 L120.59 143.95 L121.84 143.83 L123.09 143.73 L124.34 143.65 L125.59 143.58 L126.84 143.52 L128.09 143.47 L129.34 143.43 L130.6 143.39 L131.85 143.36 L133.1 143.33 L134.35 143.31 L135.6 143.29 L136.85 143.28 L138.1 143.27 L139.35 143.25 L140.6 143.24 L141.85 143.24 L143.1 143.23 L144.36 143.22" fill="none" stroke="#e08a0e" stroke-width="0.9"/>
<rect x="81.12" y="179.65" width="2.7" height="2.7" fill="#163a82"/>
<rect x="87.31" y="180.65" width="2.7" height="2.7" fill="#163a82"/>
<rect x="93.5" y="180.25" width="2.7" height="2.7" fill="#163a82"/>
<rect x="99.69" y="179.65" width="2.7" height="2.7" fill="#163a82"/>
<rect x="105.88" y="179.65" width="2.7" height="2.7" fill="#163a82"/>
<rect x="112.06" y="179.65" width="2.7" height="2.7" fill="#163a82"/>
<rect x="118.25" y="177.25" width="2.7" height="2.7" fill="#163a82"/>
<rect x="124.44" y="176.05" width="2.7" height="2.7" fill="#163a82"/>
<rect x="130.63" y="178.65" width="2.7" height="2.7" fill="#163a82"/>
<rect x="136.82" y="175.65" width="2.7" height="2.7" fill="#163a82"/>
<rect x="143.01" y="178.65" width="2.7" height="2.7" fill="#163a82"/>
<path d="M82.47 178.81L84.16 181.77L80.79 181.77Z" fill="#b5123f"/>
<path d="M88.66 179.31L90.35 182.27L86.97 182.27Z" fill="#b5123f"/>
<path d="M94.85 174.91L96.54 177.87L93.16 177.87Z" fill="#b5123f"/>
<path d="M101.04 180.31L102.73 183.27L99.35 183.27Z" fill="#b5123f"/>
<path d="M107.23 178.81L108.91 181.77L105.54 181.77Z" fill="#b5123f"/>
<path d="M113.41 179.31L115.1 182.27L111.73 182.27Z" fill="#b5123f"/>
<path d="M119.6 180.31L121.29 183.27L117.92 183.27Z" fill="#b5123f"/>
<path d="M125.79 177.71L127.48 180.67L124.1 180.67Z" fill="#b5123f"/>
<path d="M131.98 176.31L133.67 179.27L130.29 179.27Z" fill="#b5123f"/>
<path d="M138.17 174.91L139.85 177.87L136.48 177.87Z" fill="#b5123f"/>
<path d="M144.36 175.71L146.04 178.67L142.67 178.67Z" fill="#b5123f"/>
<circle cx="82.47" cy="171.5" r="1.35" fill="#e08a0e"/>
<circle cx="88.66" cy="165.8" r="1.35" fill="#e08a0e"/>
<circle cx="94.85" cy="159.4" r="1.35" fill="#e08a0e"/>
<circle cx="101.04" cy="151.5" r="1.35" fill="#e08a0e"/>
<circle cx="107.23" cy="146.6" r="1.35" fill="#e08a0e"/>
<circle cx="113.41" cy="145" r="1.35" fill="#e08a0e"/>
<circle cx="119.6" cy="143.1" r="1.35" fill="#e08a0e"/>
<circle cx="125.79" cy="144" r="1.35" fill="#e08a0e"/>
<circle cx="131.98" cy="144.2" r="1.35" fill="#e08a0e"/>
<circle cx="138.17" cy="143.3" r="1.35" fill="#e08a0e"/>
<circle cx="144.36" cy="143.3" r="1.35" fill="#e08a0e"/>
<circle cx="70.55" cy="178.94" r="1.35" fill="#e08a0e"/>
<text x="102.05" y="160.9" font-size="6.9" text-anchor="start" fill="#222" textLength="48" lengthAdjust="spacingAndGlyphs" style="stroke-width:0.12px">EC<tspan font-size="4.5" dy="1.9" style="stroke:none">50</tspan><tspan dy="-1.9"> = 0.047 nM</tspan></text>
<line x1="183.8" y1="124.4" x2="183.8" y2="189.85" stroke="#1a1a1a" stroke-width="1.2"/>
<line x1="181" y1="189.35" x2="183.8" y2="189.35" stroke="#1a1a1a" stroke-width="1.2"/>
<text x="177.5" y="192.05" font-size="8.8" text-anchor="end" fill="#222" textLength="11.13" lengthAdjust="spacingAndGlyphs">-20</text>
<line x1="182.3" y1="184.15" x2="183.8" y2="184.15" stroke="#1a1a1a" stroke-width="0.8"/>
<line x1="181" y1="178.94" x2="183.8" y2="178.94" stroke="#1a1a1a" stroke-width="1.2"/>
<text x="177.5" y="181.64" font-size="8.8" text-anchor="end" fill="#222" textLength="4.28" lengthAdjust="spacingAndGlyphs">0</text>
<line x1="182.3" y1="173.74" x2="183.8" y2="173.74" stroke="#1a1a1a" stroke-width="0.8"/>
<line x1="181" y1="168.53" x2="183.8" y2="168.53" stroke="#1a1a1a" stroke-width="1.2"/>
<text x="177.5" y="171.23" font-size="8.8" text-anchor="end" fill="#222" textLength="8.56" lengthAdjust="spacingAndGlyphs">20</text>
<line x1="182.3" y1="163.33" x2="183.8" y2="163.33" stroke="#1a1a1a" stroke-width="0.8"/>
<line x1="181" y1="158.12" x2="183.8" y2="158.12" stroke="#1a1a1a" stroke-width="1.2"/>
<text x="177.5" y="160.82" font-size="8.8" text-anchor="end" fill="#222" textLength="8.56" lengthAdjust="spacingAndGlyphs">40</text>
<line x1="182.3" y1="152.92" x2="183.8" y2="152.92" stroke="#1a1a1a" stroke-width="0.8"/>
<line x1="181" y1="147.72" x2="183.8" y2="147.72" stroke="#1a1a1a" stroke-width="1.2"/>
<text x="177.5" y="150.42" font-size="8.8" text-anchor="end" fill="#222" textLength="8.56" lengthAdjust="spacingAndGlyphs">60</text>
<line x1="182.3" y1="142.51" x2="183.8" y2="142.51" stroke="#1a1a1a" stroke-width="0.8"/>
<line x1="181" y1="137.31" x2="183.8" y2="137.31" stroke="#1a1a1a" stroke-width="1.2"/>
<text x="177.5" y="140.01" font-size="8.8" text-anchor="end" fill="#222" textLength="8.56" lengthAdjust="spacingAndGlyphs">80</text>
<line x1="182.3" y1="132.1" x2="183.8" y2="132.1" stroke="#1a1a1a" stroke-width="0.8"/>
<line x1="181" y1="126.9" x2="183.8" y2="126.9" stroke="#1a1a1a" stroke-width="1.2"/>
<text x="177.5" y="129.6" font-size="8.8" text-anchor="end" fill="#222" textLength="12.85" lengthAdjust="spacingAndGlyphs">100</text>
<line x1="183.8" y1="189.35" x2="266.5" y2="189.35" stroke="#1a1a1a" stroke-width="1.2"/>
<line x1="188.5" y1="189.35" x2="188.5" y2="191.95" stroke="#1a1a1a" stroke-width="0.8"/>
<text x="191.3" y="198.55" font-size="8.8" text-anchor="end" fill="#222" transform="rotate(-45 191.3 198.55)" textLength="4.23" lengthAdjust="spacingAndGlyphs" style="stroke-width:0.12px">0</text>
<line x1="199.06" y1="189.35" x2="199.06" y2="191.95" stroke="#1a1a1a" stroke-width="0.8"/>
<text x="201.86" y="198.55" font-size="8.8" text-anchor="end" fill="#222" transform="rotate(-45 201.86 198.55)" textLength="14.79" lengthAdjust="spacingAndGlyphs" style="stroke-width:0.12px">0.01</text>
<line x1="212.03" y1="189.35" x2="212.03" y2="191.95" stroke="#1a1a1a" stroke-width="0.8"/>
<text x="214.83" y="198.55" font-size="8.8" text-anchor="end" fill="#222" transform="rotate(-45 214.83 198.55)" textLength="10.56" lengthAdjust="spacingAndGlyphs" style="stroke-width:0.12px">0.1</text>
<line x1="225" y1="189.35" x2="225" y2="191.95" stroke="#1a1a1a" stroke-width="0.8"/>
<text x="227.8" y="198.55" font-size="8.8" text-anchor="end" fill="#222" transform="rotate(-45 227.8 198.55)" textLength="4.23" lengthAdjust="spacingAndGlyphs" style="stroke-width:0.12px">1</text>
<line x1="237.97" y1="189.35" x2="237.97" y2="191.95" stroke="#1a1a1a" stroke-width="0.8"/>
<text x="240.77" y="198.55" font-size="8.8" text-anchor="end" fill="#222" transform="rotate(-45 240.77 198.55)" textLength="8.45" lengthAdjust="spacingAndGlyphs" style="stroke-width:0.12px">10</text>
<line x1="250.94" y1="189.35" x2="250.94" y2="191.95" stroke="#1a1a1a" stroke-width="0.8"/>
<text x="253.74" y="198.55" font-size="8.8" text-anchor="end" fill="#222" transform="rotate(-45 253.74 198.55)" textLength="12.68" lengthAdjust="spacingAndGlyphs" style="stroke-width:0.12px">100</text>
<line x1="263.91" y1="189.35" x2="263.91" y2="191.95" stroke="#1a1a1a" stroke-width="0.8"/>
<text x="266.71" y="198.55" font-size="8.8" text-anchor="end" fill="#222" transform="rotate(-45 266.71 198.55)" textLength="16.91" lengthAdjust="spacingAndGlyphs" style="stroke-width:0.12px">1000</text>
<line x1="189.99" y1="189.35" x2="189.99" y2="191.15" stroke="#1a1a1a" stroke-width="0.7"/>
<line x1="192.28" y1="189.35" x2="192.28" y2="191.15" stroke="#1a1a1a" stroke-width="0.7"/>
<line x1="193.9" y1="189.35" x2="193.9" y2="191.15" stroke="#1a1a1a" stroke-width="0.7"/>
<line x1="195.16" y1="189.35" x2="195.16" y2="191.15" stroke="#1a1a1a" stroke-width="0.7"/>
<line x1="196.18" y1="189.35" x2="196.18" y2="191.15" stroke="#1a1a1a" stroke-width="0.7"/>
<line x1="197.05" y1="189.35" x2="197.05" y2="191.15" stroke="#1a1a1a" stroke-width="0.7"/>
<line x1="197.8" y1="189.35" x2="197.8" y2="191.15" stroke="#1a1a1a" stroke-width="0.7"/>
<line x1="198.47" y1="189.35" x2="198.47" y2="191.15" stroke="#1a1a1a" stroke-width="0.7"/>
<line x1="202.96" y1="189.35" x2="202.96" y2="191.15" stroke="#1a1a1a" stroke-width="0.7"/>
<line x1="205.25" y1="189.35" x2="205.25" y2="191.15" stroke="#1a1a1a" stroke-width="0.7"/>
<line x1="206.87" y1="189.35" x2="206.87" y2="191.15" stroke="#1a1a1a" stroke-width="0.7"/>
<line x1="208.13" y1="189.35" x2="208.13" y2="191.15" stroke="#1a1a1a" stroke-width="0.7"/>
<line x1="209.15" y1="189.35" x2="209.15" y2="191.15" stroke="#1a1a1a" stroke-width="0.7"/>
<line x1="210.02" y1="189.35" x2="210.02" y2="191.15" stroke="#1a1a1a" stroke-width="0.7"/>
<line x1="210.77" y1="189.35" x2="210.77" y2="191.15" stroke="#1a1a1a" stroke-width="0.7"/>
<line x1="211.44" y1="189.35" x2="211.44" y2="191.15" stroke="#1a1a1a" stroke-width="0.7"/>
<line x1="215.93" y1="189.35" x2="215.93" y2="191.15" stroke="#1a1a1a" stroke-width="0.7"/>
<line x1="218.22" y1="189.35" x2="218.22" y2="191.15" stroke="#1a1a1a" stroke-width="0.7"/>
<line x1="219.84" y1="189.35" x2="219.84" y2="191.15" stroke="#1a1a1a" stroke-width="0.7"/>
<line x1="221.1" y1="189.35" x2="221.1" y2="191.15" stroke="#1a1a1a" stroke-width="0.7"/>
<line x1="222.12" y1="189.35" x2="222.12" y2="191.15" stroke="#1a1a1a" stroke-width="0.7"/>
<line x1="222.99" y1="189.35" x2="222.99" y2="191.15" stroke="#1a1a1a" stroke-width="0.7"/>
<line x1="223.74" y1="189.35" x2="223.74" y2="191.15" stroke="#1a1a1a" stroke-width="0.7"/>
<line x1="224.41" y1="189.35" x2="224.41" y2="191.15" stroke="#1a1a1a" stroke-width="0.7"/>
<line x1="228.9" y1="189.35" x2="228.9" y2="191.15" stroke="#1a1a1a" stroke-width="0.7"/>
<line x1="231.19" y1="189.35" x2="231.19" y2="191.15" stroke="#1a1a1a" stroke-width="0.7"/>
<line x1="232.81" y1="189.35" x2="232.81" y2="191.15" stroke="#1a1a1a" stroke-width="0.7"/>
<line x1="234.07" y1="189.35" x2="234.07" y2="191.15" stroke="#1a1a1a" stroke-width="0.7"/>
<line x1="235.09" y1="189.35" x2="235.09" y2="191.15" stroke="#1a1a1a" stroke-width="0.7"/>
<line x1="235.96" y1="189.35" x2="235.96" y2="191.15" stroke="#1a1a1a" stroke-width="0.7"/>
<line x1="236.71" y1="189.35" x2="236.71" y2="191.15" stroke="#1a1a1a" stroke-width="0.7"/>
<line x1="237.38" y1="189.35" x2="237.38" y2="191.15" stroke="#1a1a1a" stroke-width="0.7"/>
<line x1="241.87" y1="189.35" x2="241.87" y2="191.15" stroke="#1a1a1a" stroke-width="0.7"/>
<line x1="244.16" y1="189.35" x2="244.16" y2="191.15" stroke="#1a1a1a" stroke-width="0.7"/>
<line x1="245.78" y1="189.35" x2="245.78" y2="191.15" stroke="#1a1a1a" stroke-width="0.7"/>
<line x1="247.04" y1="189.35" x2="247.04" y2="191.15" stroke="#1a1a1a" stroke-width="0.7"/>
<line x1="248.06" y1="189.35" x2="248.06" y2="191.15" stroke="#1a1a1a" stroke-width="0.7"/>
<line x1="248.93" y1="189.35" x2="248.93" y2="191.15" stroke="#1a1a1a" stroke-width="0.7"/>
<line x1="249.68" y1="189.35" x2="249.68" y2="191.15" stroke="#1a1a1a" stroke-width="0.7"/>
<line x1="250.35" y1="189.35" x2="250.35" y2="191.15" stroke="#1a1a1a" stroke-width="0.7"/>
<line x1="254.84" y1="189.35" x2="254.84" y2="191.15" stroke="#1a1a1a" stroke-width="0.7"/>
<line x1="257.13" y1="189.35" x2="257.13" y2="191.15" stroke="#1a1a1a" stroke-width="0.7"/>
<line x1="258.75" y1="189.35" x2="258.75" y2="191.15" stroke="#1a1a1a" stroke-width="0.7"/>
<line x1="260.01" y1="189.35" x2="260.01" y2="191.15" stroke="#1a1a1a" stroke-width="0.7"/>
<line x1="261.03" y1="189.35" x2="261.03" y2="191.15" stroke="#1a1a1a" stroke-width="0.7"/>
<line x1="261.9" y1="189.35" x2="261.9" y2="191.15" stroke="#1a1a1a" stroke-width="0.7"/>
<line x1="262.65" y1="189.35" x2="262.65" y2="191.15" stroke="#1a1a1a" stroke-width="0.7"/>
<line x1="263.32" y1="189.35" x2="263.32" y2="191.15" stroke="#1a1a1a" stroke-width="0.7"/>
<line x1="186.3" y1="178.94" x2="264.8" y2="178.94" stroke="#444" stroke-width="0.8" stroke-dasharray="0.9 1.1"/>
<path d="M186.4 178.31 L187.65 177.99 L188.9 177.59 L190.15 177.08 L191.4 176.46 L192.65 175.7 L193.91 174.76 L195.16 173.63 L196.41 172.28 L197.66 170.68 L198.91 168.83 L200.16 166.72 L201.41 164.37 L202.66 161.82 L203.91 159.11 L205.16 156.32 L206.42 153.53 L207.67 150.81 L208.92 148.24 L210.17 145.87 L211.42 143.74 L212.67 141.86 L213.92 140.24 L215.17 138.86 L216.42 137.71 L217.67 136.75 L218.92 135.97 L220.18 135.34 L221.43 134.83 L222.68 134.42 L223.93 134.09 L225.18 133.82 L226.43 133.62 L227.68 133.45 L228.93 133.32 L230.18 133.22 L231.43 133.14 L232.68 133.07 L233.94 133.02 L235.19 132.98 L236.44 132.95 L237.69 132.92 L238.94 132.9 L240.19 132.89 L241.44 132.88 L242.69 132.87 L243.94 132.86 L245.19 132.85 L246.45 132.85 L247.7 132.85 L248.95 132.84 L250.2 132.84 L251.45 132.84 L252.7 132.84 L253.95 132.84 L255.2 132.84 L256.45 132.84 L257.7 132.83 L258.95 132.83 L260.21 132.83" fill="none" stroke="#e08a0e" stroke-width="0.9"/>
<rect x="196.97" y="180.25" width="2.7" height="2.7" fill="#163a82"/>
<rect x="203.16" y="180.45" width="2.7" height="2.7" fill="#163a82"/>
<rect x="209.35" y="179.65" width="2.7" height="2.7" fill="#163a82"/>
<rect x="215.54" y="180.65" width="2.7" height="2.7" fill="#163a82"/>
<rect x="221.73" y="180.85" width="2.7" height="2.7" fill="#163a82"/>
<rect x="227.91" y="181.85" width="2.7" height="2.7" fill="#163a82"/>
<rect x="234.1" y="177.65" width="2.7" height="2.7" fill="#163a82"/>
<rect x="240.29" y="180.45" width="2.7" height="2.7" fill="#163a82"/>
<rect x="246.48" y="180.65" width="2.7" height="2.7" fill="#163a82"/>
<rect x="252.67" y="180.05" width="2.7" height="2.7" fill="#163a82"/>
<rect x="258.86" y="180.45" width="2.7" height="2.7" fill="#163a82"/>
<path d="M198.32 178.11L200.01 181.07L196.64 181.07Z" fill="#b5123f"/>
<path d="M204.51 178.51L206.2 181.47L202.82 181.47Z" fill="#b5123f"/>
<path d="M210.7 178.81L212.39 181.77L209.01 181.77Z" fill="#b5123f"/>
<path d="M216.89 178.61L218.58 181.57L215.2 181.57Z" fill="#b5123f"/>
<path d="M223.08 178.91L224.76 181.87L221.39 181.87Z" fill="#b5123f"/>
<path d="M229.26 178.51L230.95 181.47L227.58 181.47Z" fill="#b5123f"/>
<path d="M235.45 175.01L237.14 177.97L233.77 177.97Z" fill="#b5123f"/>
<path d="M241.64 178.71L243.33 181.67L239.95 181.67Z" fill="#b5123f"/>
<path d="M247.83 178.31L249.52 181.27L246.14 181.27Z" fill="#b5123f"/>
<path d="M254.02 178.91L255.7 181.87L252.33 181.87Z" fill="#b5123f"/>
<path d="M260.21 178.81L261.89 181.77L258.52 181.77Z" fill="#b5123f"/>
<circle cx="198.32" cy="168.2" r="1.35" fill="#e08a0e"/>
<circle cx="204.51" cy="159" r="1.35" fill="#e08a0e"/>
<circle cx="210.7" cy="145.2" r="1.35" fill="#e08a0e"/>
<circle cx="216.89" cy="136.2" r="1.35" fill="#e08a0e"/>
<circle cx="223.08" cy="133.8" r="1.35" fill="#e08a0e"/>
<circle cx="229.26" cy="133.2" r="1.35" fill="#e08a0e"/>
<circle cx="235.45" cy="132.3" r="1.35" fill="#e08a0e"/>
<circle cx="241.64" cy="132.6" r="1.35" fill="#e08a0e"/>
<circle cx="247.83" cy="132.6" r="1.35" fill="#e08a0e"/>
<circle cx="254.02" cy="132.8" r="1.35" fill="#e08a0e"/>
<circle cx="260.21" cy="135.2" r="1.35" fill="#e08a0e"/>
<circle cx="186.4" cy="178.94" r="1.35" fill="#e08a0e"/>
<text x="217.9" y="160.9" font-size="6.9" text-anchor="start" fill="#222" textLength="48" lengthAdjust="spacingAndGlyphs" style="stroke-width:0.12px">EC<tspan font-size="4.5" dy="1.9" style="stroke:none">50</tspan><tspan dy="-1.9"> = 0.030 nM</tspan></text>
<line x1="304" y1="124.4" x2="304" y2="189.85" stroke="#1a1a1a" stroke-width="1.2"/>
<line x1="301.2" y1="189.35" x2="304" y2="189.35" stroke="#1a1a1a" stroke-width="1.2"/>
<text x="297.7" y="192.05" font-size="8.8" text-anchor="end" fill="#222" textLength="11.13" lengthAdjust="spacingAndGlyphs">-20</text>
<line x1="302.5" y1="184.15" x2="304" y2="184.15" stroke="#1a1a1a" stroke-width="0.8"/>
<line x1="301.2" y1="178.94" x2="304" y2="178.94" stroke="#1a1a1a" stroke-width="1.2"/>
<text x="297.7" y="181.64" font-size="8.8" text-anchor="end" fill="#222" textLength="4.28" lengthAdjust="spacingAndGlyphs">0</text>
<line x1="302.5" y1="173.74" x2="304" y2="173.74" stroke="#1a1a1a" stroke-width="0.8"/>
<line x1="301.2" y1="168.53" x2="304" y2="168.53" stroke="#1a1a1a" stroke-width="1.2"/>
<text x="297.7" y="171.23" font-size="8.8" text-anchor="end" fill="#222" textLength="8.56" lengthAdjust="spacingAndGlyphs">20</text>
<line x1="302.5" y1="163.33" x2="304" y2="163.33" stroke="#1a1a1a" stroke-width="0.8"/>
<line x1="301.2" y1="158.12" x2="304" y2="158.12" stroke="#1a1a1a" stroke-width="1.2"/>
<text x="297.7" y="160.82" font-size="8.8" text-anchor="end" fill="#222" textLength="8.56" lengthAdjust="spacingAndGlyphs">40</text>
<line x1="302.5" y1="152.92" x2="304" y2="152.92" stroke="#1a1a1a" stroke-width="0.8"/>
<line x1="301.2" y1="147.72" x2="304" y2="147.72" stroke="#1a1a1a" stroke-width="1.2"/>
<text x="297.7" y="150.42" font-size="8.8" text-anchor="end" fill="#222" textLength="8.56" lengthAdjust="spacingAndGlyphs">60</text>
<line x1="302.5" y1="142.51" x2="304" y2="142.51" stroke="#1a1a1a" stroke-width="0.8"/>
<line x1="301.2" y1="137.31" x2="304" y2="137.31" stroke="#1a1a1a" stroke-width="1.2"/>
<text x="297.7" y="140.01" font-size="8.8" text-anchor="end" fill="#222" textLength="8.56" lengthAdjust="spacingAndGlyphs">80</text>
<line x1="302.5" y1="132.1" x2="304" y2="132.1" stroke="#1a1a1a" stroke-width="0.8"/>
<line x1="301.2" y1="126.9" x2="304" y2="126.9" stroke="#1a1a1a" stroke-width="1.2"/>
<text x="297.7" y="129.6" font-size="8.8" text-anchor="end" fill="#222" textLength="12.85" lengthAdjust="spacingAndGlyphs">100</text>
<line x1="304" y1="189.35" x2="386.7" y2="189.35" stroke="#1a1a1a" stroke-width="1.2"/>
<line x1="308.7" y1="189.35" x2="308.7" y2="191.95" stroke="#1a1a1a" stroke-width="0.8"/>
<text x="311.5" y="198.55" font-size="8.8" text-anchor="end" fill="#222" transform="rotate(-45 311.5 198.55)" textLength="4.23" lengthAdjust="spacingAndGlyphs" style="stroke-width:0.12px">0</text>
<line x1="319.26" y1="189.35" x2="319.26" y2="191.95" stroke="#1a1a1a" stroke-width="0.8"/>
<text x="322.06" y="198.55" font-size="8.8" text-anchor="end" fill="#222" transform="rotate(-45 322.06 198.55)" textLength="14.79" lengthAdjust="spacingAndGlyphs" style="stroke-width:0.12px">0.01</text>
<line x1="332.23" y1="189.35" x2="332.23" y2="191.95" stroke="#1a1a1a" stroke-width="0.8"/>
<text x="335.03" y="198.55" font-size="8.8" text-anchor="end" fill="#222" transform="rotate(-45 335.03 198.55)" textLength="10.56" lengthAdjust="spacingAndGlyphs" style="stroke-width:0.12px">0.1</text>
<line x1="345.2" y1="189.35" x2="345.2" y2="191.95" stroke="#1a1a1a" stroke-width="0.8"/>
<text x="348" y="198.55" font-size="8.8" text-anchor="end" fill="#222" transform="rotate(-45 348 198.55)" textLength="4.23" lengthAdjust="spacingAndGlyphs" style="stroke-width:0.12px">1</text>
<line x1="358.17" y1="189.35" x2="358.17" y2="191.95" stroke="#1a1a1a" stroke-width="0.8"/>
<text x="360.97" y="198.55" font-size="8.8" text-anchor="end" fill="#222" transform="rotate(-45 360.97 198.55)" textLength="8.45" lengthAdjust="spacingAndGlyphs" style="stroke-width:0.12px">10</text>
<line x1="371.14" y1="189.35" x2="371.14" y2="191.95" stroke="#1a1a1a" stroke-width="0.8"/>
<text x="373.94" y="198.55" font-size="8.8" text-anchor="end" fill="#222" transform="rotate(-45 373.94 198.55)" textLength="12.68" lengthAdjust="spacingAndGlyphs" style="stroke-width:0.12px">100</text>
<line x1="384.11" y1="189.35" x2="384.11" y2="191.95" stroke="#1a1a1a" stroke-width="0.8"/>
<text x="386.91" y="198.55" font-size="8.8" text-anchor="end" fill="#222" transform="rotate(-45 386.91 198.55)" textLength="16.91" lengthAdjust="spacingAndGlyphs" style="stroke-width:0.12px">1000</text>
<line x1="310.19" y1="189.35" x2="310.19" y2="191.15" stroke="#1a1a1a" stroke-width="0.7"/>
<line x1="312.48" y1="189.35" x2="312.48" y2="191.15" stroke="#1a1a1a" stroke-width="0.7"/>
<line x1="314.1" y1="189.35" x2="314.1" y2="191.15" stroke="#1a1a1a" stroke-width="0.7"/>
<line x1="315.36" y1="189.35" x2="315.36" y2="191.15" stroke="#1a1a1a" stroke-width="0.7"/>
<line x1="316.38" y1="189.35" x2="316.38" y2="191.15" stroke="#1a1a1a" stroke-width="0.7"/>
<line x1="317.25" y1="189.35" x2="317.25" y2="191.15" stroke="#1a1a1a" stroke-width="0.7"/>
<line x1="318" y1="189.35" x2="318" y2="191.15" stroke="#1a1a1a" stroke-width="0.7"/>
<line x1="318.67" y1="189.35" x2="318.67" y2="191.15" stroke="#1a1a1a" stroke-width="0.7"/>
<line x1="323.16" y1="189.35" x2="323.16" y2="191.15" stroke="#1a1a1a" stroke-width="0.7"/>
<line x1="325.45" y1="189.35" x2="325.45" y2="191.15" stroke="#1a1a1a" stroke-width="0.7"/>
<line x1="327.07" y1="189.35" x2="327.07" y2="191.15" stroke="#1a1a1a" stroke-width="0.7"/>
<line x1="328.33" y1="189.35" x2="328.33" y2="191.15" stroke="#1a1a1a" stroke-width="0.7"/>
<line x1="329.35" y1="189.35" x2="329.35" y2="191.15" stroke="#1a1a1a" stroke-width="0.7"/>
<line x1="330.22" y1="189.35" x2="330.22" y2="191.15" stroke="#1a1a1a" stroke-width="0.7"/>
<line x1="330.97" y1="189.35" x2="330.97" y2="191.15" stroke="#1a1a1a" stroke-width="0.7"/>
<line x1="331.64" y1="189.35" x2="331.64" y2="191.15" stroke="#1a1a1a" stroke-width="0.7"/>
<line x1="336.13" y1="189.35" x2="336.13" y2="191.15" stroke="#1a1a1a" stroke-width="0.7"/>
<line x1="338.42" y1="189.35" x2="338.42" y2="191.15" stroke="#1a1a1a" stroke-width="0.7"/>
<line x1="340.04" y1="189.35" x2="340.04" y2="191.15" stroke="#1a1a1a" stroke-width="0.7"/>
<line x1="341.3" y1="189.35" x2="341.3" y2="191.15" stroke="#1a1a1a" stroke-width="0.7"/>
<line x1="342.32" y1="189.35" x2="342.32" y2="191.15" stroke="#1a1a1a" stroke-width="0.7"/>
<line x1="343.19" y1="189.35" x2="343.19" y2="191.15" stroke="#1a1a1a" stroke-width="0.7"/>
<line x1="343.94" y1="189.35" x2="343.94" y2="191.15" stroke="#1a1a1a" stroke-width="0.7"/>
<line x1="344.61" y1="189.35" x2="344.61" y2="191.15" stroke="#1a1a1a" stroke-width="0.7"/>
<line x1="349.1" y1="189.35" x2="349.1" y2="191.15" stroke="#1a1a1a" stroke-width="0.7"/>
<line x1="351.39" y1="189.35" x2="351.39" y2="191.15" stroke="#1a1a1a" stroke-width="0.7"/>
<line x1="353.01" y1="189.35" x2="353.01" y2="191.15" stroke="#1a1a1a" stroke-width="0.7"/>
<line x1="354.27" y1="189.35" x2="354.27" y2="191.15" stroke="#1a1a1a" stroke-width="0.7"/>
<line x1="355.29" y1="189.35" x2="355.29" y2="191.15" stroke="#1a1a1a" stroke-width="0.7"/>
<line x1="356.16" y1="189.35" x2="356.16" y2="191.15" stroke="#1a1a1a" stroke-width="0.7"/>
<line x1="356.91" y1="189.35" x2="356.91" y2="191.15" stroke="#1a1a1a" stroke-width="0.7"/>
<line x1="357.58" y1="189.35" x2="357.58" y2="191.15" stroke="#1a1a1a" stroke-width="0.7"/>
<line x1="362.07" y1="189.35" x2="362.07" y2="191.15" stroke="#1a1a1a" stroke-width="0.7"/>
<line x1="364.36" y1="189.35" x2="364.36" y2="191.15" stroke="#1a1a1a" stroke-width="0.7"/>
<line x1="365.98" y1="189.35" x2="365.98" y2="191.15" stroke="#1a1a1a" stroke-width="0.7"/>
<line x1="367.24" y1="189.35" x2="367.24" y2="191.15" stroke="#1a1a1a" stroke-width="0.7"/>
<line x1="368.26" y1="189.35" x2="368.26" y2="191.15" stroke="#1a1a1a" stroke-width="0.7"/>
<line x1="369.13" y1="189.35" x2="369.13" y2="191.15" stroke="#1a1a1a" stroke-width="0.7"/>
<line x1="369.88" y1="189.35" x2="369.88" y2="191.15" stroke="#1a1a1a" stroke-width="0.7"/>
<line x1="370.55" y1="189.35" x2="370.55" y2="191.15" stroke="#1a1a1a" stroke-width="0.7"/>
<line x1="375.04" y1="189.35" x2="375.04" y2="191.15" stroke="#1a1a1a" stroke-width="0.7"/>
<line x1="377.33" y1="189.35" x2="377.33" y2="191.15" stroke="#1a1a1a" stroke-width="0.7"/>
<line x1="378.95" y1="189.35" x2="378.95" y2="191.15" stroke="#1a1a1a" stroke-width="0.7"/>
<line x1="380.21" y1="189.35" x2="380.21" y2="191.15" stroke="#1a1a1a" stroke-width="0.7"/>
<line x1="381.23" y1="189.35" x2="381.23" y2="191.15" stroke="#1a1a1a" stroke-width="0.7"/>
<line x1="382.1" y1="189.35" x2="382.1" y2="191.15" stroke="#1a1a1a" stroke-width="0.7"/>
<line x1="382.85" y1="189.35" x2="382.85" y2="191.15" stroke="#1a1a1a" stroke-width="0.7"/>
<line x1="383.52" y1="189.35" x2="383.52" y2="191.15" stroke="#1a1a1a" stroke-width="0.7"/>
<line x1="306.5" y1="178.94" x2="385" y2="178.94" stroke="#444" stroke-width="0.8" stroke-dasharray="0.9 1.1"/>
<path d="M306.6 183.2 L308.11 183.2 L309.61 183.2 L311.12 183.2 L312.62 183.19 L314.13 183.19 L315.64 183.19 L317.14 183.18 L318.65 183.18 L320.16 183.17 L321.66 183.17 L323.17 183.16 L324.67 183.15 L326.18 183.14 L327.69 183.14 L329.19 183.13 L330.7 183.12 L332.21 183.1 L333.71 183.09 L335.22 183.08 L336.72 183.07 L338.23 183.05 L339.74 183.04 L341.24 183.02 L342.75 183.01 L344.26 182.99 L345.76 182.96 L347.27 182.91 L348.77 182.85 L350.28 182.77 L351.79 182.68 L353.29 182.58 L354.8 182.47 L356.31 182.35 L357.81 182.21 L359.32 182.07 L360.82 181.92 L362.33 181.76 L363.84 181.54 L365.34 181.26 L366.85 180.93 L368.36 180.55 L369.86 180.14 L371.37 179.7 L372.87 179.25 L374.38 178.76 L375.89 178.19 L377.39 177.57 L378.9 176.9 L380.41 176.2" fill="none" stroke="#163a82" stroke-width="0.9"/>
<path d="M306.6 176.6 L308.11 176.6 L309.61 176.61 L311.12 176.62 L312.62 176.63 L314.13 176.64 L315.64 176.66 L317.14 176.69 L318.65 176.71 L320.16 176.74 L321.66 176.77 L323.17 176.8 L324.67 176.84 L326.18 176.88 L327.69 176.92 L329.19 176.97 L330.7 177.01 L332.21 177.06 L333.71 177.11 L335.22 177.17 L336.72 177.23 L338.23 177.34 L339.74 177.5 L341.24 177.71 L342.75 177.95 L344.26 178.21 L345.76 178.49 L347.27 178.78 L348.77 179.07 L350.28 179.35 L351.79 179.61 L353.29 179.85 L354.8 180.04 L356.31 180.19 L357.81 180.28 L359.32 180.33 L360.82 180.37 L362.33 180.41 L363.84 180.44 L365.34 180.47 L366.85 180.49 L368.36 180.5 L369.86 180.5 L371.37 180.46 L372.87 180.38 L374.38 180.27 L375.89 180.13 L377.39 179.97 L378.9 179.79 L380.41 179.6" fill="none" stroke="#b5123f" stroke-width="0.9"/>
<path d="M306.6 178.84 L307.85 178.65 L309.1 178.41 L310.35 178.08 L311.6 177.65 L312.85 177.07 L314.11 176.3 L315.36 175.31 L316.61 174.03 L317.86 172.41 L319.11 170.41 L320.36 168 L321.61 165.18 L322.86 162 L324.11 158.57 L325.36 155.01 L326.62 151.51 L327.87 148.2 L329.12 145.22 L330.37 142.62 L331.62 140.44 L332.87 138.66 L334.12 137.24 L335.37 136.13 L336.62 135.27 L337.87 134.61 L339.12 134.12 L340.38 133.75 L341.63 133.47 L342.88 133.26 L344.13 133.11 L345.38 132.99 L346.63 132.91 L347.88 132.85 L349.13 132.8 L350.38 132.77 L351.63 132.74 L352.88 132.72 L354.14 132.71 L355.39 132.7 L356.64 132.69 L357.89 132.69 L359.14 132.68 L360.39 132.68 L361.64 132.68 L362.89 132.68 L364.14 132.67 L365.39 132.67 L366.65 132.67 L367.9 132.67 L369.15 132.67 L370.4 132.67 L371.65 132.67 L372.9 132.67 L374.15 132.67 L375.4 132.67 L376.65 132.67 L377.9 132.67 L379.15 132.67 L380.41 132.67" fill="none" stroke="#e08a0e" stroke-width="0.9"/>
<rect x="317.17" y="180.25" width="2.7" height="2.7" fill="#163a82"/>
<rect x="323.36" y="178.65" width="2.7" height="2.7" fill="#163a82"/>
<rect x="329.55" y="181.15" width="2.7" height="2.7" fill="#163a82"/>
<rect x="335.74" y="179.65" width="2.7" height="2.7" fill="#163a82"/>
<rect x="341.93" y="176.65" width="2.7" height="2.7" fill="#163a82"/>
<rect x="348.11" y="186.45" width="2.7" height="2.7" fill="#163a82"/>
<rect x="354.3" y="177.25" width="2.7" height="2.7" fill="#163a82"/>
<rect x="360.49" y="177.25" width="2.7" height="2.7" fill="#163a82"/>
<rect x="366.68" y="179.65" width="2.7" height="2.7" fill="#163a82"/>
<rect x="372.87" y="176.05" width="2.7" height="2.7" fill="#163a82"/>
<rect x="379.06" y="173.65" width="2.7" height="2.7" fill="#163a82"/>
<path d="M318.52 173.01L320.21 175.97L316.84 175.97Z" fill="#b5123f"/>
<path d="M324.71 175.01L326.4 177.97L323.02 177.97Z" fill="#b5123f"/>
<path d="M330.9 175.71L332.59 178.67L329.21 178.67Z" fill="#b5123f"/>
<path d="M337.09 176.91L338.78 179.87L335.4 179.87Z" fill="#b5123f"/>
<path d="M343.28 176.31L344.96 179.27L341.59 179.27Z" fill="#b5123f"/>
<path d="M349.46 179.31L351.15 182.27L347.78 182.27Z" fill="#b5123f"/>
<path d="M355.65 179.31L357.34 182.27L353.97 182.27Z" fill="#b5123f"/>
<path d="M361.84 177.71L363.53 180.67L360.15 180.67Z" fill="#b5123f"/>
<path d="M368.03 178.31L369.72 181.27L366.34 181.27Z" fill="#b5123f"/>
<path d="M374.22 181.81L375.9 184.77L372.53 184.77Z" fill="#b5123f"/>
<path d="M380.41 178.31L382.09 181.27L378.72 181.27Z" fill="#b5123f"/>
<circle cx="318.52" cy="171.2" r="1.35" fill="#e08a0e"/>
<circle cx="324.71" cy="157" r="1.35" fill="#e08a0e"/>
<circle cx="330.9" cy="141.7" r="1.35" fill="#e08a0e"/>
<circle cx="337.09" cy="134.8" r="1.35" fill="#e08a0e"/>
<circle cx="343.28" cy="133.2" r="1.35" fill="#e08a0e"/>
<circle cx="349.46" cy="131.5" r="1.35" fill="#e08a0e"/>
<circle cx="355.65" cy="132.3" r="1.35" fill="#e08a0e"/>
<circle cx="361.84" cy="132.3" r="1.35" fill="#e08a0e"/>
<circle cx="368.03" cy="133.2" r="1.35" fill="#e08a0e"/>
<circle cx="374.22" cy="132.8" r="1.35" fill="#e08a0e"/>
<circle cx="380.41" cy="134.2" r="1.35" fill="#e08a0e"/>
<circle cx="306.6" cy="178.94" r="1.35" fill="#e08a0e"/>
<text x="333.6" y="160.9" font-size="6.9" text-anchor="start" fill="#222" textLength="48" lengthAdjust="spacingAndGlyphs" style="stroke-width:0.12px">EC<tspan font-size="4.5" dy="1.9" style="stroke:none">50</tspan><tspan dy="-1.9"> = 0.028 nM</tspan></text>
<line x1="424.3" y1="124.4" x2="424.3" y2="189.85" stroke="#1a1a1a" stroke-width="1.2"/>
<line x1="421.5" y1="189.35" x2="424.3" y2="189.35" stroke="#1a1a1a" stroke-width="1.2"/>
<text x="418" y="192.05" font-size="8.8" text-anchor="end" fill="#222" textLength="11.13" lengthAdjust="spacingAndGlyphs">-20</text>
<line x1="422.8" y1="184.15" x2="424.3" y2="184.15" stroke="#1a1a1a" stroke-width="0.8"/>
<line x1="421.5" y1="178.94" x2="424.3" y2="178.94" stroke="#1a1a1a" stroke-width="1.2"/>
<text x="418" y="181.64" font-size="8.8" text-anchor="end" fill="#222" textLength="4.28" lengthAdjust="spacingAndGlyphs">0</text>
<line x1="422.8" y1="173.74" x2="424.3" y2="173.74" stroke="#1a1a1a" stroke-width="0.8"/>
<line x1="421.5" y1="168.53" x2="424.3" y2="168.53" stroke="#1a1a1a" stroke-width="1.2"/>
<text x="418" y="171.23" font-size="8.8" text-anchor="end" fill="#222" textLength="8.56" lengthAdjust="spacingAndGlyphs">20</text>
<line x1="422.8" y1="163.33" x2="424.3" y2="163.33" stroke="#1a1a1a" stroke-width="0.8"/>
<line x1="421.5" y1="158.12" x2="424.3" y2="158.12" stroke="#1a1a1a" stroke-width="1.2"/>
<text x="418" y="160.82" font-size="8.8" text-anchor="end" fill="#222" textLength="8.56" lengthAdjust="spacingAndGlyphs">40</text>
<line x1="422.8" y1="152.92" x2="424.3" y2="152.92" stroke="#1a1a1a" stroke-width="0.8"/>
<line x1="421.5" y1="147.72" x2="424.3" y2="147.72" stroke="#1a1a1a" stroke-width="1.2"/>
<text x="418" y="150.42" font-size="8.8" text-anchor="end" fill="#222" textLength="8.56" lengthAdjust="spacingAndGlyphs">60</text>
<line x1="422.8" y1="142.51" x2="424.3" y2="142.51" stroke="#1a1a1a" stroke-width="0.8"/>
<line x1="421.5" y1="137.31" x2="424.3" y2="137.31" stroke="#1a1a1a" stroke-width="1.2"/>
<text x="418" y="140.01" font-size="8.8" text-anchor="end" fill="#222" textLength="8.56" lengthAdjust="spacingAndGlyphs">80</text>
<line x1="422.8" y1="132.1" x2="424.3" y2="132.1" stroke="#1a1a1a" stroke-width="0.8"/>
<line x1="421.5" y1="126.9" x2="424.3" y2="126.9" stroke="#1a1a1a" stroke-width="1.2"/>
<text x="418" y="129.6" font-size="8.8" text-anchor="end" fill="#222" textLength="12.85" lengthAdjust="spacingAndGlyphs">100</text>
<line x1="424.3" y1="189.35" x2="507" y2="189.35" stroke="#1a1a1a" stroke-width="1.2"/>
<line x1="429" y1="189.35" x2="429" y2="191.95" stroke="#1a1a1a" stroke-width="0.8"/>
<text x="431.8" y="198.55" font-size="8.8" text-anchor="end" fill="#222" transform="rotate(-45 431.8 198.55)" textLength="4.23" lengthAdjust="spacingAndGlyphs" style="stroke-width:0.12px">0</text>
<line x1="439.56" y1="189.35" x2="439.56" y2="191.95" stroke="#1a1a1a" stroke-width="0.8"/>
<text x="442.36" y="198.55" font-size="8.8" text-anchor="end" fill="#222" transform="rotate(-45 442.36 198.55)" textLength="14.79" lengthAdjust="spacingAndGlyphs" style="stroke-width:0.12px">0.01</text>
<line x1="452.53" y1="189.35" x2="452.53" y2="191.95" stroke="#1a1a1a" stroke-width="0.8"/>
<text x="455.33" y="198.55" font-size="8.8" text-anchor="end" fill="#222" transform="rotate(-45 455.33 198.55)" textLength="10.56" lengthAdjust="spacingAndGlyphs" style="stroke-width:0.12px">0.1</text>
<line x1="465.5" y1="189.35" x2="465.5" y2="191.95" stroke="#1a1a1a" stroke-width="0.8"/>
<text x="468.3" y="198.55" font-size="8.8" text-anchor="end" fill="#222" transform="rotate(-45 468.3 198.55)" textLength="4.23" lengthAdjust="spacingAndGlyphs" style="stroke-width:0.12px">1</text>
<line x1="478.47" y1="189.35" x2="478.47" y2="191.95" stroke="#1a1a1a" stroke-width="0.8"/>
<text x="481.27" y="198.55" font-size="8.8" text-anchor="end" fill="#222" transform="rotate(-45 481.27 198.55)" textLength="8.45" lengthAdjust="spacingAndGlyphs" style="stroke-width:0.12px">10</text>
<line x1="491.44" y1="189.35" x2="491.44" y2="191.95" stroke="#1a1a1a" stroke-width="0.8"/>
<text x="494.24" y="198.55" font-size="8.8" text-anchor="end" fill="#222" transform="rotate(-45 494.24 198.55)" textLength="12.68" lengthAdjust="spacingAndGlyphs" style="stroke-width:0.12px">100</text>
<line x1="504.41" y1="189.35" x2="504.41" y2="191.95" stroke="#1a1a1a" stroke-width="0.8"/>
<text x="507.21" y="198.55" font-size="8.8" text-anchor="end" fill="#222" transform="rotate(-45 507.21 198.55)" textLength="16.91" lengthAdjust="spacingAndGlyphs" style="stroke-width:0.12px">1000</text>
<line x1="430.49" y1="189.35" x2="430.49" y2="191.15" stroke="#1a1a1a" stroke-width="0.7"/>
<line x1="432.78" y1="189.35" x2="432.78" y2="191.15" stroke="#1a1a1a" stroke-width="0.7"/>
<line x1="434.4" y1="189.35" x2="434.4" y2="191.15" stroke="#1a1a1a" stroke-width="0.7"/>
<line x1="435.66" y1="189.35" x2="435.66" y2="191.15" stroke="#1a1a1a" stroke-width="0.7"/>
<line x1="436.68" y1="189.35" x2="436.68" y2="191.15" stroke="#1a1a1a" stroke-width="0.7"/>
<line x1="437.55" y1="189.35" x2="437.55" y2="191.15" stroke="#1a1a1a" stroke-width="0.7"/>
<line x1="438.3" y1="189.35" x2="438.3" y2="191.15" stroke="#1a1a1a" stroke-width="0.7"/>
<line x1="438.97" y1="189.35" x2="438.97" y2="191.15" stroke="#1a1a1a" stroke-width="0.7"/>
<line x1="443.46" y1="189.35" x2="443.46" y2="191.15" stroke="#1a1a1a" stroke-width="0.7"/>
<line x1="445.75" y1="189.35" x2="445.75" y2="191.15" stroke="#1a1a1a" stroke-width="0.7"/>
<line x1="447.37" y1="189.35" x2="447.37" y2="191.15" stroke="#1a1a1a" stroke-width="0.7"/>
<line x1="448.63" y1="189.35" x2="448.63" y2="191.15" stroke="#1a1a1a" stroke-width="0.7"/>
<line x1="449.65" y1="189.35" x2="449.65" y2="191.15" stroke="#1a1a1a" stroke-width="0.7"/>
<line x1="450.52" y1="189.35" x2="450.52" y2="191.15" stroke="#1a1a1a" stroke-width="0.7"/>
<line x1="451.27" y1="189.35" x2="451.27" y2="191.15" stroke="#1a1a1a" stroke-width="0.7"/>
<line x1="451.94" y1="189.35" x2="451.94" y2="191.15" stroke="#1a1a1a" stroke-width="0.7"/>
<line x1="456.43" y1="189.35" x2="456.43" y2="191.15" stroke="#1a1a1a" stroke-width="0.7"/>
<line x1="458.72" y1="189.35" x2="458.72" y2="191.15" stroke="#1a1a1a" stroke-width="0.7"/>
<line x1="460.34" y1="189.35" x2="460.34" y2="191.15" stroke="#1a1a1a" stroke-width="0.7"/>
<line x1="461.6" y1="189.35" x2="461.6" y2="191.15" stroke="#1a1a1a" stroke-width="0.7"/>
<line x1="462.62" y1="189.35" x2="462.62" y2="191.15" stroke="#1a1a1a" stroke-width="0.7"/>
<line x1="463.49" y1="189.35" x2="463.49" y2="191.15" stroke="#1a1a1a" stroke-width="0.7"/>
<line x1="464.24" y1="189.35" x2="464.24" y2="191.15" stroke="#1a1a1a" stroke-width="0.7"/>
<line x1="464.91" y1="189.35" x2="464.91" y2="191.15" stroke="#1a1a1a" stroke-width="0.7"/>
<line x1="469.4" y1="189.35" x2="469.4" y2="191.15" stroke="#1a1a1a" stroke-width="0.7"/>
<line x1="471.69" y1="189.35" x2="471.69" y2="191.15" stroke="#1a1a1a" stroke-width="0.7"/>
<line x1="473.31" y1="189.35" x2="473.31" y2="191.15" stroke="#1a1a1a" stroke-width="0.7"/>
<line x1="474.57" y1="189.35" x2="474.57" y2="191.15" stroke="#1a1a1a" stroke-width="0.7"/>
<line x1="475.59" y1="189.35" x2="475.59" y2="191.15" stroke="#1a1a1a" stroke-width="0.7"/>
<line x1="476.46" y1="189.35" x2="476.46" y2="191.15" stroke="#1a1a1a" stroke-width="0.7"/>
<line x1="477.21" y1="189.35" x2="477.21" y2="191.15" stroke="#1a1a1a" stroke-width="0.7"/>
<line x1="477.88" y1="189.35" x2="477.88" y2="191.15" stroke="#1a1a1a" stroke-width="0.7"/>
<line x1="482.37" y1="189.35" x2="482.37" y2="191.15" stroke="#1a1a1a" stroke-width="0.7"/>
<line x1="484.66" y1="189.35" x2="484.66" y2="191.15" stroke="#1a1a1a" stroke-width="0.7"/>
<line x1="486.28" y1="189.35" x2="486.28" y2="191.15" stroke="#1a1a1a" stroke-width="0.7"/>
<line x1="487.54" y1="189.35" x2="487.54" y2="191.15" stroke="#1a1a1a" stroke-width="0.7"/>
<line x1="488.56" y1="189.35" x2="488.56" y2="191.15" stroke="#1a1a1a" stroke-width="0.7"/>
<line x1="489.43" y1="189.35" x2="489.43" y2="191.15" stroke="#1a1a1a" stroke-width="0.7"/>
<line x1="490.18" y1="189.35" x2="490.18" y2="191.15" stroke="#1a1a1a" stroke-width="0.7"/>
<line x1="490.85" y1="189.35" x2="490.85" y2="191.15" stroke="#1a1a1a" stroke-width="0.7"/>
<line x1="495.34" y1="189.35" x2="495.34" y2="191.15" stroke="#1a1a1a" stroke-width="0.7"/>
<line x1="497.63" y1="189.35" x2="497.63" y2="191.15" stroke="#1a1a1a" stroke-width="0.7"/>
<line x1="499.25" y1="189.35" x2="499.25" y2="191.15" stroke="#1a1a1a" stroke-width="0.7"/>
<line x1="500.51" y1="189.35" x2="500.51" y2="191.15" stroke="#1a1a1a" stroke-width="0.7"/>
<line x1="501.53" y1="189.35" x2="501.53" y2="191.15" stroke="#1a1a1a" stroke-width="0.7"/>
<line x1="502.4" y1="189.35" x2="502.4" y2="191.15" stroke="#1a1a1a" stroke-width="0.7"/>
<line x1="503.15" y1="189.35" x2="503.15" y2="191.15" stroke="#1a1a1a" stroke-width="0.7"/>
<line x1="503.82" y1="189.35" x2="503.82" y2="191.15" stroke="#1a1a1a" stroke-width="0.7"/>
<line x1="426.8" y1="178.94" x2="505.3" y2="178.94" stroke="#444" stroke-width="0.8" stroke-dasharray="0.9 1.1"/>
<path d="M426.9 178.2 L428.41 178.4 L429.91 178.61 L431.42 178.81 L432.92 179.02 L434.43 179.22 L435.94 179.42 L437.44 179.63 L438.95 179.83 L440.46 180.04 L441.96 180.24 L443.47 180.44 L444.97 180.65 L446.48 180.85 L447.99 181.06 L449.49 181.26 L451 181.47 L452.51 181.7 L454.01 181.92 L455.52 182.15 L457.02 182.39 L458.53 182.62 L460.04 182.84 L461.54 183.07 L463.05 183.28 L464.56 183.49 L466.06 183.68 L467.57 183.85 L469.07 184.01 L470.58 184.15 L472.09 184.27 L473.59 184.39 L475.1 184.51 L476.61 184.62 L478.11 184.73 L479.62 184.84 L481.12 184.95 L482.63 185.05 L484.14 185.15 L485.64 185.25 L487.15 185.33 L488.66 185.42 L490.16 185.49 L491.67 185.56 L493.17 185.62 L494.68 185.68 L496.19 185.72 L497.69 185.76 L499.2 185.78 L500.71 185.8" fill="none" stroke="#163a82" stroke-width="0.9"/>
<path d="M426.9 176.6 L428.41 176.6 L429.91 176.61 L431.42 176.61 L432.92 176.62 L434.43 176.62 L435.94 176.62 L437.44 176.63 L438.95 176.63 L440.46 176.64 L441.96 176.64 L443.47 176.64 L444.97 176.65 L446.48 176.65 L447.99 176.66 L449.49 176.66 L451 176.67 L452.51 176.67 L454.01 176.67 L455.52 176.68 L457.02 176.68 L458.53 176.69 L460.04 176.69 L461.54 176.69 L463.05 176.7 L464.56 176.7 L466.06 176.71 L467.57 176.71 L469.07 176.71 L470.58 176.72 L472.09 176.72 L473.59 176.73 L475.1 176.73 L476.61 176.73 L478.11 176.74 L479.62 176.74 L481.12 176.75 L482.63 176.75 L484.14 176.76 L485.64 176.76 L487.15 176.76 L488.66 176.77 L490.16 176.77 L491.67 176.78 L493.17 176.78 L494.68 176.78 L496.19 176.79 L497.69 176.79 L499.2 176.8 L500.71 176.8" fill="none" stroke="#b5123f" stroke-width="0.9"/>
<path d="M426.9 177.23 L428.15 176.61 L429.4 175.93 L430.65 175.18 L431.9 174.36 L433.15 173.48 L434.41 172.52 L435.66 171.49 L436.91 170.38 L438.16 169.21 L439.41 167.98 L440.66 166.69 L441.91 165.35 L443.16 163.96 L444.41 162.54 L445.66 161.11 L446.92 159.66 L448.17 158.21 L449.42 156.78 L450.67 155.37 L451.92 154.01 L453.17 152.68 L454.42 151.41 L455.67 150.21 L456.92 149.06 L458.17 147.99 L459.42 146.99 L460.68 146.06 L461.93 145.2 L463.18 144.41 L464.43 143.69 L465.68 143.03 L466.93 142.43 L468.18 141.89 L469.43 141.41 L470.68 140.97 L471.93 140.58 L473.18 140.23 L474.44 139.92 L475.69 139.64 L476.94 139.39 L478.19 139.17 L479.44 138.97 L480.69 138.8 L481.94 138.64 L483.19 138.51 L484.44 138.39 L485.69 138.28 L486.95 138.19 L488.2 138.11 L489.45 138.03 L490.7 137.97 L491.95 137.91 L493.2 137.86 L494.45 137.82 L495.7 137.78 L496.95 137.74 L498.2 137.71 L499.45 137.69 L500.71 137.66" fill="none" stroke="#e08a0e" stroke-width="0.9"/>
<rect x="437.47" y="180.25" width="2.7" height="2.7" fill="#163a82"/>
<rect x="443.66" y="179.65" width="2.7" height="2.7" fill="#163a82"/>
<rect x="449.85" y="181.65" width="2.7" height="2.7" fill="#163a82"/>
<rect x="456.04" y="181.95" width="2.7" height="2.7" fill="#163a82"/>
<rect x="462.23" y="181.95" width="2.7" height="2.7" fill="#163a82"/>
<rect x="468.41" y="182.65" width="2.7" height="2.7" fill="#163a82"/>
<rect x="474.6" y="183.95" width="2.7" height="2.7" fill="#163a82"/>
<rect x="480.79" y="181.95" width="2.7" height="2.7" fill="#163a82"/>
<rect x="486.98" y="185.95" width="2.7" height="2.7" fill="#163a82"/>
<rect x="493.17" y="185.95" width="2.7" height="2.7" fill="#163a82"/>
<rect x="499.36" y="180.25" width="2.7" height="2.7" fill="#163a82"/>
<path d="M438.82 174.31L440.51 177.27L437.14 177.27Z" fill="#b5123f"/>
<path d="M445.01 173.81L446.7 176.77L443.32 176.77Z" fill="#b5123f"/>
<path d="M451.2 175.01L452.89 177.97L449.51 177.97Z" fill="#b5123f"/>
<path d="M457.39 175.31L459.08 178.27L455.7 178.27Z" fill="#b5123f"/>
<path d="M463.58 175.31L465.26 178.27L461.89 178.27Z" fill="#b5123f"/>
<path d="M469.76 175.31L471.45 178.27L468.08 178.27Z" fill="#b5123f"/>
<path d="M475.95 176.91L477.64 179.87L474.27 179.87Z" fill="#b5123f"/>
<path d="M482.14 175.31L483.83 178.27L480.45 178.27Z" fill="#b5123f"/>
<path d="M488.33 176.31L490.02 179.27L486.64 179.27Z" fill="#b5123f"/>
<path d="M494.52 176.31L496.2 179.27L492.83 179.27Z" fill="#b5123f"/>
<path d="M500.71 174.31L502.39 177.27L499.02 177.27Z" fill="#b5123f"/>
<circle cx="438.82" cy="164.3" r="1.35" fill="#e08a0e"/>
<circle cx="445.01" cy="163.3" r="1.35" fill="#e08a0e"/>
<circle cx="451.2" cy="155" r="1.35" fill="#e08a0e"/>
<circle cx="457.39" cy="154" r="1.35" fill="#e08a0e"/>
<circle cx="463.58" cy="142.1" r="1.35" fill="#e08a0e"/>
<circle cx="469.76" cy="137.4" r="1.35" fill="#e08a0e"/>
<circle cx="475.95" cy="136.8" r="1.35" fill="#e08a0e"/>
<circle cx="482.14" cy="137.8" r="1.35" fill="#e08a0e"/>
<circle cx="488.33" cy="139.3" r="1.35" fill="#e08a0e"/>
<circle cx="494.52" cy="139.3" r="1.35" fill="#e08a0e"/>
<circle cx="500.71" cy="140.1" r="1.35" fill="#e08a0e"/>
<circle cx="426.9" cy="178.3" r="1.35" fill="#e08a0e"/>
<text x="458.3" y="160.9" font-size="6.9" text-anchor="start" fill="#222" textLength="48" lengthAdjust="spacingAndGlyphs" style="stroke-width:0.12px">EC<tspan font-size="4.5" dy="1.9" style="stroke:none">50</tspan><tspan dy="-1.9"> = 0.048 nM</tspan></text>
<line x1="67.9" y1="223.5" x2="67.9" y2="288.3" stroke="#1a1a1a" stroke-width="1.2"/>
<line x1="65.1" y1="287.8" x2="67.9" y2="287.8" stroke="#1a1a1a" stroke-width="1.2"/>
<text x="61.6" y="290.5" font-size="8.8" text-anchor="end" fill="#222" textLength="4.28" lengthAdjust="spacingAndGlyphs">0</text>
<line x1="66.4" y1="277.5" x2="67.9" y2="277.5" stroke="#1a1a1a" stroke-width="0.8"/>
<line x1="65.1" y1="267.2" x2="67.9" y2="267.2" stroke="#1a1a1a" stroke-width="1.2"/>
<text x="61.6" y="269.9" font-size="8.8" text-anchor="end" fill="#222" textLength="8.56" lengthAdjust="spacingAndGlyphs">20</text>
<line x1="66.4" y1="256.9" x2="67.9" y2="256.9" stroke="#1a1a1a" stroke-width="0.8"/>
<line x1="65.1" y1="246.6" x2="67.9" y2="246.6" stroke="#1a1a1a" stroke-width="1.2"/>
<text x="61.6" y="249.3" font-size="8.8" text-anchor="end" fill="#222" textLength="8.56" lengthAdjust="spacingAndGlyphs">40</text>
<line x1="66.4" y1="236.3" x2="67.9" y2="236.3" stroke="#1a1a1a" stroke-width="0.8"/>
<line x1="65.1" y1="226" x2="67.9" y2="226" stroke="#1a1a1a" stroke-width="1.2"/>
<text x="61.6" y="228.7" font-size="8.8" text-anchor="end" fill="#222" textLength="8.56" lengthAdjust="spacingAndGlyphs">60</text>
<line x1="67.9" y1="287.8" x2="150.6" y2="287.8" stroke="#1a1a1a" stroke-width="1.2"/>
<line x1="72.6" y1="287.8" x2="72.6" y2="290.4" stroke="#1a1a1a" stroke-width="0.8"/>
<text x="75.4" y="297" font-size="8.8" text-anchor="end" fill="#222" transform="rotate(-45 75.4 297)" textLength="4.23" lengthAdjust="spacingAndGlyphs" style="stroke-width:0.12px">0</text>
<line x1="83.16" y1="287.8" x2="83.16" y2="290.4" stroke="#1a1a1a" stroke-width="0.8"/>
<text x="85.96" y="297" font-size="8.8" text-anchor="end" fill="#222" transform="rotate(-45 85.96 297)" textLength="14.79" lengthAdjust="spacingAndGlyphs" style="stroke-width:0.12px">0.01</text>
<line x1="96.13" y1="287.8" x2="96.13" y2="290.4" stroke="#1a1a1a" stroke-width="0.8"/>
<text x="98.93" y="297" font-size="8.8" text-anchor="end" fill="#222" transform="rotate(-45 98.93 297)" textLength="10.56" lengthAdjust="spacingAndGlyphs" style="stroke-width:0.12px">0.1</text>
<line x1="109.1" y1="287.8" x2="109.1" y2="290.4" stroke="#1a1a1a" stroke-width="0.8"/>
<text x="111.9" y="297" font-size="8.8" text-anchor="end" fill="#222" transform="rotate(-45 111.9 297)" textLength="4.23" lengthAdjust="spacingAndGlyphs" style="stroke-width:0.12px">1</text>
<line x1="122.07" y1="287.8" x2="122.07" y2="290.4" stroke="#1a1a1a" stroke-width="0.8"/>
<text x="124.87" y="297" font-size="8.8" text-anchor="end" fill="#222" transform="rotate(-45 124.87 297)" textLength="8.45" lengthAdjust="spacingAndGlyphs" style="stroke-width:0.12px">10</text>
<line x1="135.04" y1="287.8" x2="135.04" y2="290.4" stroke="#1a1a1a" stroke-width="0.8"/>
<text x="137.84" y="297" font-size="8.8" text-anchor="end" fill="#222" transform="rotate(-45 137.84 297)" textLength="12.68" lengthAdjust="spacingAndGlyphs" style="stroke-width:0.12px">100</text>
<line x1="148.01" y1="287.8" x2="148.01" y2="290.4" stroke="#1a1a1a" stroke-width="0.8"/>
<text x="150.81" y="297" font-size="8.8" text-anchor="end" fill="#222" transform="rotate(-45 150.81 297)" textLength="16.91" lengthAdjust="spacingAndGlyphs" style="stroke-width:0.12px">1000</text>
<line x1="74.09" y1="287.8" x2="74.09" y2="289.6" stroke="#1a1a1a" stroke-width="0.7"/>
<line x1="76.38" y1="287.8" x2="76.38" y2="289.6" stroke="#1a1a1a" stroke-width="0.7"/>
<line x1="78" y1="287.8" x2="78" y2="289.6" stroke="#1a1a1a" stroke-width="0.7"/>
<line x1="79.26" y1="287.8" x2="79.26" y2="289.6" stroke="#1a1a1a" stroke-width="0.7"/>
<line x1="80.28" y1="287.8" x2="80.28" y2="289.6" stroke="#1a1a1a" stroke-width="0.7"/>
<line x1="81.15" y1="287.8" x2="81.15" y2="289.6" stroke="#1a1a1a" stroke-width="0.7"/>
<line x1="81.9" y1="287.8" x2="81.9" y2="289.6" stroke="#1a1a1a" stroke-width="0.7"/>
<line x1="82.57" y1="287.8" x2="82.57" y2="289.6" stroke="#1a1a1a" stroke-width="0.7"/>
<line x1="87.06" y1="287.8" x2="87.06" y2="289.6" stroke="#1a1a1a" stroke-width="0.7"/>
<line x1="89.35" y1="287.8" x2="89.35" y2="289.6" stroke="#1a1a1a" stroke-width="0.7"/>
<line x1="90.97" y1="287.8" x2="90.97" y2="289.6" stroke="#1a1a1a" stroke-width="0.7"/>
<line x1="92.23" y1="287.8" x2="92.23" y2="289.6" stroke="#1a1a1a" stroke-width="0.7"/>
<line x1="93.25" y1="287.8" x2="93.25" y2="289.6" stroke="#1a1a1a" stroke-width="0.7"/>
<line x1="94.12" y1="287.8" x2="94.12" y2="289.6" stroke="#1a1a1a" stroke-width="0.7"/>
<line x1="94.87" y1="287.8" x2="94.87" y2="289.6" stroke="#1a1a1a" stroke-width="0.7"/>
<line x1="95.54" y1="287.8" x2="95.54" y2="289.6" stroke="#1a1a1a" stroke-width="0.7"/>
<line x1="100.03" y1="287.8" x2="100.03" y2="289.6" stroke="#1a1a1a" stroke-width="0.7"/>
<line x1="102.32" y1="287.8" x2="102.32" y2="289.6" stroke="#1a1a1a" stroke-width="0.7"/>
<line x1="103.94" y1="287.8" x2="103.94" y2="289.6" stroke="#1a1a1a" stroke-width="0.7"/>
<line x1="105.2" y1="287.8" x2="105.2" y2="289.6" stroke="#1a1a1a" stroke-width="0.7"/>
<line x1="106.22" y1="287.8" x2="106.22" y2="289.6" stroke="#1a1a1a" stroke-width="0.7"/>
<line x1="107.09" y1="287.8" x2="107.09" y2="289.6" stroke="#1a1a1a" stroke-width="0.7"/>
<line x1="107.84" y1="287.8" x2="107.84" y2="289.6" stroke="#1a1a1a" stroke-width="0.7"/>
<line x1="108.51" y1="287.8" x2="108.51" y2="289.6" stroke="#1a1a1a" stroke-width="0.7"/>
<line x1="113" y1="287.8" x2="113" y2="289.6" stroke="#1a1a1a" stroke-width="0.7"/>
<line x1="115.29" y1="287.8" x2="115.29" y2="289.6" stroke="#1a1a1a" stroke-width="0.7"/>
<line x1="116.91" y1="287.8" x2="116.91" y2="289.6" stroke="#1a1a1a" stroke-width="0.7"/>
<line x1="118.17" y1="287.8" x2="118.17" y2="289.6" stroke="#1a1a1a" stroke-width="0.7"/>
<line x1="119.19" y1="287.8" x2="119.19" y2="289.6" stroke="#1a1a1a" stroke-width="0.7"/>
<line x1="120.06" y1="287.8" x2="120.06" y2="289.6" stroke="#1a1a1a" stroke-width="0.7"/>
<line x1="120.81" y1="287.8" x2="120.81" y2="289.6" stroke="#1a1a1a" stroke-width="0.7"/>
<line x1="121.48" y1="287.8" x2="121.48" y2="289.6" stroke="#1a1a1a" stroke-width="0.7"/>
<line x1="125.97" y1="287.8" x2="125.97" y2="289.6" stroke="#1a1a1a" stroke-width="0.7"/>
<line x1="128.26" y1="287.8" x2="128.26" y2="289.6" stroke="#1a1a1a" stroke-width="0.7"/>
<line x1="129.88" y1="287.8" x2="129.88" y2="289.6" stroke="#1a1a1a" stroke-width="0.7"/>
<line x1="131.14" y1="287.8" x2="131.14" y2="289.6" stroke="#1a1a1a" stroke-width="0.7"/>
<line x1="132.16" y1="287.8" x2="132.16" y2="289.6" stroke="#1a1a1a" stroke-width="0.7"/>
<line x1="133.03" y1="287.8" x2="133.03" y2="289.6" stroke="#1a1a1a" stroke-width="0.7"/>
<line x1="133.78" y1="287.8" x2="133.78" y2="289.6" stroke="#1a1a1a" stroke-width="0.7"/>
<line x1="134.45" y1="287.8" x2="134.45" y2="289.6" stroke="#1a1a1a" stroke-width="0.7"/>
<line x1="138.94" y1="287.8" x2="138.94" y2="289.6" stroke="#1a1a1a" stroke-width="0.7"/>
<line x1="141.23" y1="287.8" x2="141.23" y2="289.6" stroke="#1a1a1a" stroke-width="0.7"/>
<line x1="142.85" y1="287.8" x2="142.85" y2="289.6" stroke="#1a1a1a" stroke-width="0.7"/>
<line x1="144.11" y1="287.8" x2="144.11" y2="289.6" stroke="#1a1a1a" stroke-width="0.7"/>
<line x1="145.13" y1="287.8" x2="145.13" y2="289.6" stroke="#1a1a1a" stroke-width="0.7"/>
<line x1="146" y1="287.8" x2="146" y2="289.6" stroke="#1a1a1a" stroke-width="0.7"/>
<line x1="146.75" y1="287.8" x2="146.75" y2="289.6" stroke="#1a1a1a" stroke-width="0.7"/>
<line x1="147.42" y1="287.8" x2="147.42" y2="289.6" stroke="#1a1a1a" stroke-width="0.7"/>
<path d="M70.7 287.2 L72.2 287.2 L73.7 287.2 L75.21 287.2 L76.71 287.2 L78.21 287.2 L79.71 287.2 L81.22 287.2 L82.72 287.2 L84.22 287.2 L85.72 287.2 L87.22 287.2 L88.73 287.2 L90.23 287.2 L91.73 287.2 L93.23 287.2 L94.73 287.2 L96.24 287.2 L97.74 287.2 L99.24 287.2 L100.74 287.2 L102.25 287.2 L103.75 287.2 L105.25 287.2 L106.75 287.2 L108.25 287.2 L109.76 287.2 L111.26 287.2 L112.76 287.2 L114.26 287.2 L115.76 287.2 L117.27 286.11 L118.77 282.97 L120.27 282.6 L121.77 282.6 L123.28 282.6 L124.78 282.6 L126.28 282.6 L127.78 282.6 L129.28 282.6 L130.79 282.6 L132.29 282.6 L133.79 282.6 L135.29 282.6 L136.79 282.6 L138.3 282.6 L139.8 282.6 L141.3 282.6 L142.8 282.6 L144.31 284.6" fill="none" stroke="#163a82" stroke-width="0.9"/>
<line x1="70.7" y1="287.5" x2="144.31" y2="287.5" stroke="#b5123f" stroke-width="0.9"/>
<path d="M70.7 287.06 L71.95 286.59 L73.2 286 L74.44 285.25 L75.69 284.3 L76.94 283.11 L78.19 281.64 L79.43 279.85 L80.68 277.71 L81.93 275.21 L83.18 272.35 L84.42 269.19 L85.67 265.79 L86.92 262.27 L88.17 258.74 L89.41 255.32 L90.66 252.13 L91.91 249.24 L93.16 246.71 L94.4 244.53 L95.65 242.71 L96.9 241.21 L98.15 240 L99.39 239.03 L100.64 238.26 L101.89 237.65 L103.14 237.18 L104.38 236.81 L105.63 236.52 L106.88 236.3 L108.13 236.13 L109.37 236 L110.62 235.9 L111.87 235.82 L113.12 235.77 L114.36 235.72 L115.61 235.69 L116.86 235.66 L118.11 235.64 L119.35 235.62 L120.6 235.61 L121.85 235.6 L123.1 235.59 L124.34 235.59 L125.59 235.59 L126.84 235.58 L128.09 235.58 L129.34 235.58 L130.58 235.58 L131.83 235.58 L133.08 235.57 L134.33 235.57 L135.57 235.57 L136.82 235.57 L138.07 235.57 L139.32 235.57 L140.56 235.57 L141.81 235.57 L143.06 235.57 L144.31 235.57" fill="none" stroke="#e08a0e" stroke-width="0.9"/>
<rect x="81.22" y="286.7" width="2.4" height="2.4" fill="#163a82"/>
<rect x="87.41" y="286.7" width="2.4" height="2.4" fill="#163a82"/>
<rect x="93.6" y="286.7" width="2.4" height="2.4" fill="#163a82"/>
<rect x="99.79" y="286.7" width="2.4" height="2.4" fill="#163a82"/>
<rect x="105.98" y="286.7" width="2.4" height="2.4" fill="#163a82"/>
<rect x="112.16" y="286.7" width="2.4" height="2.4" fill="#163a82"/>
<rect x="118.35" y="281.5" width="2.4" height="2.4" fill="#163a82"/>
<rect x="124.54" y="276.5" width="2.4" height="2.4" fill="#163a82"/>
<rect x="130.73" y="282.5" width="2.4" height="2.4" fill="#163a82"/>
<rect x="136.92" y="283.6" width="2.4" height="2.4" fill="#163a82"/>
<rect x="143.11" y="283.6" width="2.4" height="2.4" fill="#163a82"/>
<path d="M82.42 285.81L84.11 288.77L80.74 288.77Z" fill="#b5123f"/>
<path d="M88.61 285.81L90.3 288.77L86.92 288.77Z" fill="#b5123f"/>
<path d="M94.8 285.81L96.49 288.77L93.11 288.77Z" fill="#b5123f"/>
<path d="M100.99 285.81L102.68 288.77L99.3 288.77Z" fill="#b5123f"/>
<path d="M107.18 285.81L108.86 288.77L105.49 288.77Z" fill="#b5123f"/>
<path d="M113.36 285.81L115.05 288.77L111.68 288.77Z" fill="#b5123f"/>
<path d="M119.55 285.81L121.24 288.77L117.87 288.77Z" fill="#b5123f"/>
<path d="M125.74 285.81L127.43 288.77L124.05 288.77Z" fill="#b5123f"/>
<path d="M131.93 285.81L133.62 288.77L130.24 288.77Z" fill="#b5123f"/>
<path d="M138.12 285.81L139.8 288.77L136.43 288.77Z" fill="#b5123f"/>
<path d="M144.31 285.81L145.99 288.77L142.62 288.77Z" fill="#b5123f"/>
<circle cx="82.42" cy="273" r="1.35" fill="#e08a0e"/>
<circle cx="88.61" cy="258.4" r="1.35" fill="#e08a0e"/>
<circle cx="94.8" cy="244.7" r="1.35" fill="#e08a0e"/>
<circle cx="100.99" cy="236.6" r="1.35" fill="#e08a0e"/>
<circle cx="107.18" cy="233.7" r="1.35" fill="#e08a0e"/>
<circle cx="113.36" cy="231.1" r="1.35" fill="#e08a0e"/>
<circle cx="119.55" cy="236.6" r="1.35" fill="#e08a0e"/>
<circle cx="125.74" cy="236.6" r="1.35" fill="#e08a0e"/>
<circle cx="131.93" cy="236.6" r="1.35" fill="#e08a0e"/>
<circle cx="138.12" cy="237.2" r="1.35" fill="#e08a0e"/>
<circle cx="144.31" cy="238.6" r="1.35" fill="#e08a0e"/>
<circle cx="70.7" cy="287.4" r="1.35" fill="#e08a0e"/>
<text x="102" y="259.1" font-size="6.9" text-anchor="start" fill="#222" textLength="48" lengthAdjust="spacingAndGlyphs" style="stroke-width:0.12px">EC<tspan font-size="4.5" dy="1.9" style="stroke:none">50</tspan><tspan dy="-1.9"> = 0.021 nM</tspan></text>
<line x1="183.8" y1="223.5" x2="183.8" y2="288.3" stroke="#1a1a1a" stroke-width="1.2"/>
<line x1="181" y1="287.8" x2="183.8" y2="287.8" stroke="#1a1a1a" stroke-width="1.2"/>
<text x="177.5" y="290.5" font-size="8.8" text-anchor="end" fill="#222" textLength="4.28" lengthAdjust="spacingAndGlyphs">0</text>
<line x1="182.3" y1="281.62" x2="183.8" y2="281.62" stroke="#1a1a1a" stroke-width="0.8"/>
<line x1="181" y1="275.44" x2="183.8" y2="275.44" stroke="#1a1a1a" stroke-width="1.2"/>
<text x="177.5" y="278.14" font-size="8.8" text-anchor="end" fill="#222" textLength="8.56" lengthAdjust="spacingAndGlyphs">20</text>
<line x1="182.3" y1="269.26" x2="183.8" y2="269.26" stroke="#1a1a1a" stroke-width="0.8"/>
<line x1="181" y1="263.08" x2="183.8" y2="263.08" stroke="#1a1a1a" stroke-width="1.2"/>
<text x="177.5" y="265.78" font-size="8.8" text-anchor="end" fill="#222" textLength="8.56" lengthAdjust="spacingAndGlyphs">40</text>
<line x1="182.3" y1="256.9" x2="183.8" y2="256.9" stroke="#1a1a1a" stroke-width="0.8"/>
<line x1="181" y1="250.72" x2="183.8" y2="250.72" stroke="#1a1a1a" stroke-width="1.2"/>
<text x="177.5" y="253.42" font-size="8.8" text-anchor="end" fill="#222" textLength="8.56" lengthAdjust="spacingAndGlyphs">60</text>
<line x1="182.3" y1="244.54" x2="183.8" y2="244.54" stroke="#1a1a1a" stroke-width="0.8"/>
<line x1="181" y1="238.36" x2="183.8" y2="238.36" stroke="#1a1a1a" stroke-width="1.2"/>
<text x="177.5" y="241.06" font-size="8.8" text-anchor="end" fill="#222" textLength="8.56" lengthAdjust="spacingAndGlyphs">80</text>
<line x1="182.3" y1="232.18" x2="183.8" y2="232.18" stroke="#1a1a1a" stroke-width="0.8"/>
<line x1="181" y1="226" x2="183.8" y2="226" stroke="#1a1a1a" stroke-width="1.2"/>
<text x="177.5" y="228.7" font-size="8.8" text-anchor="end" fill="#222" textLength="12.85" lengthAdjust="spacingAndGlyphs">100</text>
<line x1="183.8" y1="287.8" x2="266.5" y2="287.8" stroke="#1a1a1a" stroke-width="1.2"/>
<line x1="188.5" y1="287.8" x2="188.5" y2="290.4" stroke="#1a1a1a" stroke-width="0.8"/>
<text x="191.3" y="297" font-size="8.8" text-anchor="end" fill="#222" transform="rotate(-45 191.3 297)" textLength="4.23" lengthAdjust="spacingAndGlyphs" style="stroke-width:0.12px">0</text>
<line x1="199.06" y1="287.8" x2="199.06" y2="290.4" stroke="#1a1a1a" stroke-width="0.8"/>
<text x="201.86" y="297" font-size="8.8" text-anchor="end" fill="#222" transform="rotate(-45 201.86 297)" textLength="14.79" lengthAdjust="spacingAndGlyphs" style="stroke-width:0.12px">0.01</text>
<line x1="212.03" y1="287.8" x2="212.03" y2="290.4" stroke="#1a1a1a" stroke-width="0.8"/>
<text x="214.83" y="297" font-size="8.8" text-anchor="end" fill="#222" transform="rotate(-45 214.83 297)" textLength="10.56" lengthAdjust="spacingAndGlyphs" style="stroke-width:0.12px">0.1</text>
<line x1="225" y1="287.8" x2="225" y2="290.4" stroke="#1a1a1a" stroke-width="0.8"/>
<text x="227.8" y="297" font-size="8.8" text-anchor="end" fill="#222" transform="rotate(-45 227.8 297)" textLength="4.23" lengthAdjust="spacingAndGlyphs" style="stroke-width:0.12px">1</text>
<line x1="237.97" y1="287.8" x2="237.97" y2="290.4" stroke="#1a1a1a" stroke-width="0.8"/>
<text x="240.77" y="297" font-size="8.8" text-anchor="end" fill="#222" transform="rotate(-45 240.77 297)" textLength="8.45" lengthAdjust="spacingAndGlyphs" style="stroke-width:0.12px">10</text>
<line x1="250.94" y1="287.8" x2="250.94" y2="290.4" stroke="#1a1a1a" stroke-width="0.8"/>
<text x="253.74" y="297" font-size="8.8" text-anchor="end" fill="#222" transform="rotate(-45 253.74 297)" textLength="12.68" lengthAdjust="spacingAndGlyphs" style="stroke-width:0.12px">100</text>
<line x1="263.91" y1="287.8" x2="263.91" y2="290.4" stroke="#1a1a1a" stroke-width="0.8"/>
<text x="266.71" y="297" font-size="8.8" text-anchor="end" fill="#222" transform="rotate(-45 266.71 297)" textLength="16.91" lengthAdjust="spacingAndGlyphs" style="stroke-width:0.12px">1000</text>
<line x1="189.99" y1="287.8" x2="189.99" y2="289.6" stroke="#1a1a1a" stroke-width="0.7"/>
<line x1="192.28" y1="287.8" x2="192.28" y2="289.6" stroke="#1a1a1a" stroke-width="0.7"/>
<line x1="193.9" y1="287.8" x2="193.9" y2="289.6" stroke="#1a1a1a" stroke-width="0.7"/>
<line x1="195.16" y1="287.8" x2="195.16" y2="289.6" stroke="#1a1a1a" stroke-width="0.7"/>
<line x1="196.18" y1="287.8" x2="196.18" y2="289.6" stroke="#1a1a1a" stroke-width="0.7"/>
<line x1="197.05" y1="287.8" x2="197.05" y2="289.6" stroke="#1a1a1a" stroke-width="0.7"/>
<line x1="197.8" y1="287.8" x2="197.8" y2="289.6" stroke="#1a1a1a" stroke-width="0.7"/>
<line x1="198.47" y1="287.8" x2="198.47" y2="289.6" stroke="#1a1a1a" stroke-width="0.7"/>
<line x1="202.96" y1="287.8" x2="202.96" y2="289.6" stroke="#1a1a1a" stroke-width="0.7"/>
<line x1="205.25" y1="287.8" x2="205.25" y2="289.6" stroke="#1a1a1a" stroke-width="0.7"/>
<line x1="206.87" y1="287.8" x2="206.87" y2="289.6" stroke="#1a1a1a" stroke-width="0.7"/>
<line x1="208.13" y1="287.8" x2="208.13" y2="289.6" stroke="#1a1a1a" stroke-width="0.7"/>
<line x1="209.15" y1="287.8" x2="209.15" y2="289.6" stroke="#1a1a1a" stroke-width="0.7"/>
<line x1="210.02" y1="287.8" x2="210.02" y2="289.6" stroke="#1a1a1a" stroke-width="0.7"/>
<line x1="210.77" y1="287.8" x2="210.77" y2="289.6" stroke="#1a1a1a" stroke-width="0.7"/>
<line x1="211.44" y1="287.8" x2="211.44" y2="289.6" stroke="#1a1a1a" stroke-width="0.7"/>
<line x1="215.93" y1="287.8" x2="215.93" y2="289.6" stroke="#1a1a1a" stroke-width="0.7"/>
<line x1="218.22" y1="287.8" x2="218.22" y2="289.6" stroke="#1a1a1a" stroke-width="0.7"/>
<line x1="219.84" y1="287.8" x2="219.84" y2="289.6" stroke="#1a1a1a" stroke-width="0.7"/>
<line x1="221.1" y1="287.8" x2="221.1" y2="289.6" stroke="#1a1a1a" stroke-width="0.7"/>
<line x1="222.12" y1="287.8" x2="222.12" y2="289.6" stroke="#1a1a1a" stroke-width="0.7"/>
<line x1="222.99" y1="287.8" x2="222.99" y2="289.6" stroke="#1a1a1a" stroke-width="0.7"/>
<line x1="223.74" y1="287.8" x2="223.74" y2="289.6" stroke="#1a1a1a" stroke-width="0.7"/>
<line x1="224.41" y1="287.8" x2="224.41" y2="289.6" stroke="#1a1a1a" stroke-width="0.7"/>
<line x1="228.9" y1="287.8" x2="228.9" y2="289.6" stroke="#1a1a1a" stroke-width="0.7"/>
<line x1="231.19" y1="287.8" x2="231.19" y2="289.6" stroke="#1a1a1a" stroke-width="0.7"/>
<line x1="232.81" y1="287.8" x2="232.81" y2="289.6" stroke="#1a1a1a" stroke-width="0.7"/>
<line x1="234.07" y1="287.8" x2="234.07" y2="289.6" stroke="#1a1a1a" stroke-width="0.7"/>
<line x1="235.09" y1="287.8" x2="235.09" y2="289.6" stroke="#1a1a1a" stroke-width="0.7"/>
<line x1="235.96" y1="287.8" x2="235.96" y2="289.6" stroke="#1a1a1a" stroke-width="0.7"/>
<line x1="236.71" y1="287.8" x2="236.71" y2="289.6" stroke="#1a1a1a" stroke-width="0.7"/>
<line x1="237.38" y1="287.8" x2="237.38" y2="289.6" stroke="#1a1a1a" stroke-width="0.7"/>
<line x1="241.87" y1="287.8" x2="241.87" y2="289.6" stroke="#1a1a1a" stroke-width="0.7"/>
<line x1="244.16" y1="287.8" x2="244.16" y2="289.6" stroke="#1a1a1a" stroke-width="0.7"/>
<line x1="245.78" y1="287.8" x2="245.78" y2="289.6" stroke="#1a1a1a" stroke-width="0.7"/>
<line x1="247.04" y1="287.8" x2="247.04" y2="289.6" stroke="#1a1a1a" stroke-width="0.7"/>
<line x1="248.06" y1="287.8" x2="248.06" y2="289.6" stroke="#1a1a1a" stroke-width="0.7"/>
<line x1="248.93" y1="287.8" x2="248.93" y2="289.6" stroke="#1a1a1a" stroke-width="0.7"/>
<line x1="249.68" y1="287.8" x2="249.68" y2="289.6" stroke="#1a1a1a" stroke-width="0.7"/>
<line x1="250.35" y1="287.8" x2="250.35" y2="289.6" stroke="#1a1a1a" stroke-width="0.7"/>
<line x1="254.84" y1="287.8" x2="254.84" y2="289.6" stroke="#1a1a1a" stroke-width="0.7"/>
<line x1="257.13" y1="287.8" x2="257.13" y2="289.6" stroke="#1a1a1a" stroke-width="0.7"/>
<line x1="258.75" y1="287.8" x2="258.75" y2="289.6" stroke="#1a1a1a" stroke-width="0.7"/>
<line x1="260.01" y1="287.8" x2="260.01" y2="289.6" stroke="#1a1a1a" stroke-width="0.7"/>
<line x1="261.03" y1="287.8" x2="261.03" y2="289.6" stroke="#1a1a1a" stroke-width="0.7"/>
<line x1="261.9" y1="287.8" x2="261.9" y2="289.6" stroke="#1a1a1a" stroke-width="0.7"/>
<line x1="262.65" y1="287.8" x2="262.65" y2="289.6" stroke="#1a1a1a" stroke-width="0.7"/>
<line x1="263.32" y1="287.8" x2="263.32" y2="289.6" stroke="#1a1a1a" stroke-width="0.7"/>
<line x1="186.6" y1="286.9" x2="260.21" y2="286.9" stroke="#163a82" stroke-width="0.8"/>
<line x1="186.6" y1="287.5" x2="260.21" y2="287.5" stroke="#b5123f" stroke-width="0.9"/>
<path d="M186.6 287.15 L187.85 286.81 L189.1 286.37 L190.34 285.78 L191.59 285.02 L192.84 284.04 L194.09 282.79 L195.33 281.21 L196.58 279.26 L197.83 276.9 L199.08 274.12 L200.32 270.93 L201.57 267.42 L202.82 263.67 L204.07 259.85 L205.31 256.1 L206.56 252.57 L207.81 249.38 L209.06 246.59 L210.3 244.22 L211.55 242.27 L212.8 240.68 L214.05 239.43 L215.29 238.44 L216.54 237.67 L217.79 237.08 L219.04 236.63 L220.28 236.29 L221.53 236.03 L222.78 235.84 L224.03 235.69 L225.27 235.58 L226.52 235.5 L227.77 235.43 L229.02 235.39 L230.26 235.35 L231.51 235.33 L232.76 235.31 L234.01 235.29 L235.25 235.28 L236.5 235.27 L237.75 235.26 L239 235.26 L240.24 235.26 L241.49 235.25 L242.74 235.25 L243.99 235.25 L245.24 235.25 L246.48 235.25 L247.73 235.25 L248.98 235.25 L250.23 235.25 L251.47 235.25 L252.72 235.25 L253.97 235.25 L255.22 235.25 L256.46 235.25 L257.71 235.25 L258.96 235.25 L260.21 235.25" fill="none" stroke="#e08a0e" stroke-width="0.9"/>
<rect x="197.12" y="286.7" width="2.4" height="2.4" fill="#163a82"/>
<rect x="203.31" y="286.7" width="2.4" height="2.4" fill="#163a82"/>
<rect x="209.5" y="286.7" width="2.4" height="2.4" fill="#163a82"/>
<rect x="215.69" y="286.7" width="2.4" height="2.4" fill="#163a82"/>
<rect x="221.88" y="286.7" width="2.4" height="2.4" fill="#163a82"/>
<rect x="228.06" y="286.7" width="2.4" height="2.4" fill="#163a82"/>
<rect x="234.25" y="286.7" width="2.4" height="2.4" fill="#163a82"/>
<rect x="240.44" y="285.2" width="2.4" height="2.4" fill="#163a82"/>
<rect x="246.63" y="286.7" width="2.4" height="2.4" fill="#163a82"/>
<rect x="252.82" y="286.7" width="2.4" height="2.4" fill="#163a82"/>
<rect x="259.01" y="286.7" width="2.4" height="2.4" fill="#163a82"/>
<path d="M198.32 285.81L200.01 288.77L196.64 288.77Z" fill="#b5123f"/>
<path d="M204.51 285.81L206.2 288.77L202.82 288.77Z" fill="#b5123f"/>
<path d="M210.7 285.81L212.39 288.77L209.01 288.77Z" fill="#b5123f"/>
<path d="M216.89 285.81L218.58 288.77L215.2 288.77Z" fill="#b5123f"/>
<path d="M223.08 285.81L224.76 288.77L221.39 288.77Z" fill="#b5123f"/>
<path d="M229.26 285.81L230.95 288.77L227.58 288.77Z" fill="#b5123f"/>
<path d="M235.45 285.81L237.14 288.77L233.77 288.77Z" fill="#b5123f"/>
<path d="M241.64 285.81L243.33 288.77L239.95 288.77Z" fill="#b5123f"/>
<path d="M247.83 285.81L249.52 288.77L246.14 288.77Z" fill="#b5123f"/>
<path d="M254.02 285.81L255.7 288.77L252.33 288.77Z" fill="#b5123f"/>
<path d="M260.21 285.81L261.89 288.77L258.52 288.77Z" fill="#b5123f"/>
<circle cx="198.32" cy="275" r="1.35" fill="#e08a0e"/>
<circle cx="204.51" cy="259.4" r="1.35" fill="#e08a0e"/>
<circle cx="210.7" cy="243.3" r="1.35" fill="#e08a0e"/>
<circle cx="216.89" cy="236.6" r="1.35" fill="#e08a0e"/>
<circle cx="223.08" cy="235.2" r="1.35" fill="#e08a0e"/>
<circle cx="229.26" cy="234.8" r="1.35" fill="#e08a0e"/>
<circle cx="235.45" cy="234.8" r="1.35" fill="#e08a0e"/>
<circle cx="241.64" cy="235.6" r="1.35" fill="#e08a0e"/>
<circle cx="247.83" cy="235.6" r="1.35" fill="#e08a0e"/>
<circle cx="254.02" cy="235.6" r="1.35" fill="#e08a0e"/>
<circle cx="260.21" cy="236.6" r="1.35" fill="#e08a0e"/>
<circle cx="186.6" cy="287.4" r="1.35" fill="#e08a0e"/>
<text x="218.3" y="259.1" font-size="6.9" text-anchor="start" fill="#222" textLength="48" lengthAdjust="spacingAndGlyphs" style="stroke-width:0.12px">EC<tspan font-size="4.5" dy="1.9" style="stroke:none">50</tspan><tspan dy="-1.9"> = 0.023 nM</tspan></text>
<line x1="304" y1="223.5" x2="304" y2="288.3" stroke="#1a1a1a" stroke-width="1.2"/>
<line x1="301.2" y1="287.8" x2="304" y2="287.8" stroke="#1a1a1a" stroke-width="1.2"/>
<text x="297.7" y="290.5" font-size="8.8" text-anchor="end" fill="#222" textLength="4.28" lengthAdjust="spacingAndGlyphs">0</text>
<line x1="302.5" y1="280.07" x2="304" y2="280.07" stroke="#1a1a1a" stroke-width="0.8"/>
<line x1="301.2" y1="272.35" x2="304" y2="272.35" stroke="#1a1a1a" stroke-width="1.2"/>
<text x="297.7" y="275.05" font-size="8.8" text-anchor="end" fill="#222" textLength="8.56" lengthAdjust="spacingAndGlyphs">20</text>
<line x1="302.5" y1="264.62" x2="304" y2="264.62" stroke="#1a1a1a" stroke-width="0.8"/>
<line x1="301.2" y1="256.9" x2="304" y2="256.9" stroke="#1a1a1a" stroke-width="1.2"/>
<text x="297.7" y="259.6" font-size="8.8" text-anchor="end" fill="#222" textLength="8.56" lengthAdjust="spacingAndGlyphs">40</text>
<line x1="302.5" y1="249.17" x2="304" y2="249.17" stroke="#1a1a1a" stroke-width="0.8"/>
<line x1="301.2" y1="241.45" x2="304" y2="241.45" stroke="#1a1a1a" stroke-width="1.2"/>
<text x="297.7" y="244.15" font-size="8.8" text-anchor="end" fill="#222" textLength="8.56" lengthAdjust="spacingAndGlyphs">60</text>
<line x1="302.5" y1="233.72" x2="304" y2="233.72" stroke="#1a1a1a" stroke-width="0.8"/>
<line x1="301.2" y1="226" x2="304" y2="226" stroke="#1a1a1a" stroke-width="1.2"/>
<text x="297.7" y="228.7" font-size="8.8" text-anchor="end" fill="#222" textLength="8.56" lengthAdjust="spacingAndGlyphs">80</text>
<line x1="304" y1="287.8" x2="386.7" y2="287.8" stroke="#1a1a1a" stroke-width="1.2"/>
<line x1="308.7" y1="287.8" x2="308.7" y2="290.4" stroke="#1a1a1a" stroke-width="0.8"/>
<text x="311.5" y="297" font-size="8.8" text-anchor="end" fill="#222" transform="rotate(-45 311.5 297)" textLength="4.23" lengthAdjust="spacingAndGlyphs" style="stroke-width:0.12px">0</text>
<line x1="319.26" y1="287.8" x2="319.26" y2="290.4" stroke="#1a1a1a" stroke-width="0.8"/>
<text x="322.06" y="297" font-size="8.8" text-anchor="end" fill="#222" transform="rotate(-45 322.06 297)" textLength="14.79" lengthAdjust="spacingAndGlyphs" style="stroke-width:0.12px">0.01</text>
<line x1="332.23" y1="287.8" x2="332.23" y2="290.4" stroke="#1a1a1a" stroke-width="0.8"/>
<text x="335.03" y="297" font-size="8.8" text-anchor="end" fill="#222" transform="rotate(-45 335.03 297)" textLength="10.56" lengthAdjust="spacingAndGlyphs" style="stroke-width:0.12px">0.1</text>
<line x1="345.2" y1="287.8" x2="345.2" y2="290.4" stroke="#1a1a1a" stroke-width="0.8"/>
<text x="348" y="297" font-size="8.8" text-anchor="end" fill="#222" transform="rotate(-45 348 297)" textLength="4.23" lengthAdjust="spacingAndGlyphs" style="stroke-width:0.12px">1</text>
<line x1="358.17" y1="287.8" x2="358.17" y2="290.4" stroke="#1a1a1a" stroke-width="0.8"/>
<text x="360.97" y="297" font-size="8.8" text-anchor="end" fill="#222" transform="rotate(-45 360.97 297)" textLength="8.45" lengthAdjust="spacingAndGlyphs" style="stroke-width:0.12px">10</text>
<line x1="371.14" y1="287.8" x2="371.14" y2="290.4" stroke="#1a1a1a" stroke-width="0.8"/>
<text x="373.94" y="297" font-size="8.8" text-anchor="end" fill="#222" transform="rotate(-45 373.94 297)" textLength="12.68" lengthAdjust="spacingAndGlyphs" style="stroke-width:0.12px">100</text>
<line x1="384.11" y1="287.8" x2="384.11" y2="290.4" stroke="#1a1a1a" stroke-width="0.8"/>
<text x="386.91" y="297" font-size="8.8" text-anchor="end" fill="#222" transform="rotate(-45 386.91 297)" textLength="16.91" lengthAdjust="spacingAndGlyphs" style="stroke-width:0.12px">1000</text>
<line x1="310.19" y1="287.8" x2="310.19" y2="289.6" stroke="#1a1a1a" stroke-width="0.7"/>
<line x1="312.48" y1="287.8" x2="312.48" y2="289.6" stroke="#1a1a1a" stroke-width="0.7"/>
<line x1="314.1" y1="287.8" x2="314.1" y2="289.6" stroke="#1a1a1a" stroke-width="0.7"/>
<line x1="315.36" y1="287.8" x2="315.36" y2="289.6" stroke="#1a1a1a" stroke-width="0.7"/>
<line x1="316.38" y1="287.8" x2="316.38" y2="289.6" stroke="#1a1a1a" stroke-width="0.7"/>
<line x1="317.25" y1="287.8" x2="317.25" y2="289.6" stroke="#1a1a1a" stroke-width="0.7"/>
<line x1="318" y1="287.8" x2="318" y2="289.6" stroke="#1a1a1a" stroke-width="0.7"/>
<line x1="318.67" y1="287.8" x2="318.67" y2="289.6" stroke="#1a1a1a" stroke-width="0.7"/>
<line x1="323.16" y1="287.8" x2="323.16" y2="289.6" stroke="#1a1a1a" stroke-width="0.7"/>
<line x1="325.45" y1="287.8" x2="325.45" y2="289.6" stroke="#1a1a1a" stroke-width="0.7"/>
<line x1="327.07" y1="287.8" x2="327.07" y2="289.6" stroke="#1a1a1a" stroke-width="0.7"/>
<line x1="328.33" y1="287.8" x2="328.33" y2="289.6" stroke="#1a1a1a" stroke-width="0.7"/>
<line x1="329.35" y1="287.8" x2="329.35" y2="289.6" stroke="#1a1a1a" stroke-width="0.7"/>
<line x1="330.22" y1="287.8" x2="330.22" y2="289.6" stroke="#1a1a1a" stroke-width="0.7"/>
<line x1="330.97" y1="287.8" x2="330.97" y2="289.6" stroke="#1a1a1a" stroke-width="0.7"/>
<line x1="331.64" y1="287.8" x2="331.64" y2="289.6" stroke="#1a1a1a" stroke-width="0.7"/>
<line x1="336.13" y1="287.8" x2="336.13" y2="289.6" stroke="#1a1a1a" stroke-width="0.7"/>
<line x1="338.42" y1="287.8" x2="338.42" y2="289.6" stroke="#1a1a1a" stroke-width="0.7"/>
<line x1="340.04" y1="287.8" x2="340.04" y2="289.6" stroke="#1a1a1a" stroke-width="0.7"/>
<line x1="341.3" y1="287.8" x2="341.3" y2="289.6" stroke="#1a1a1a" stroke-width="0.7"/>
<line x1="342.32" y1="287.8" x2="342.32" y2="289.6" stroke="#1a1a1a" stroke-width="0.7"/>
<line x1="343.19" y1="287.8" x2="343.19" y2="289.6" stroke="#1a1a1a" stroke-width="0.7"/>
<line x1="343.94" y1="287.8" x2="343.94" y2="289.6" stroke="#1a1a1a" stroke-width="0.7"/>
<line x1="344.61" y1="287.8" x2="344.61" y2="289.6" stroke="#1a1a1a" stroke-width="0.7"/>
<line x1="349.1" y1="287.8" x2="349.1" y2="289.6" stroke="#1a1a1a" stroke-width="0.7"/>
<line x1="351.39" y1="287.8" x2="351.39" y2="289.6" stroke="#1a1a1a" stroke-width="0.7"/>
<line x1="353.01" y1="287.8" x2="353.01" y2="289.6" stroke="#1a1a1a" stroke-width="0.7"/>
<line x1="354.27" y1="287.8" x2="354.27" y2="289.6" stroke="#1a1a1a" stroke-width="0.7"/>
<line x1="355.29" y1="287.8" x2="355.29" y2="289.6" stroke="#1a1a1a" stroke-width="0.7"/>
<line x1="356.16" y1="287.8" x2="356.16" y2="289.6" stroke="#1a1a1a" stroke-width="0.7"/>
<line x1="356.91" y1="287.8" x2="356.91" y2="289.6" stroke="#1a1a1a" stroke-width="0.7"/>
<line x1="357.58" y1="287.8" x2="357.58" y2="289.6" stroke="#1a1a1a" stroke-width="0.7"/>
<line x1="362.07" y1="287.8" x2="362.07" y2="289.6" stroke="#1a1a1a" stroke-width="0.7"/>
<line x1="364.36" y1="287.8" x2="364.36" y2="289.6" stroke="#1a1a1a" stroke-width="0.7"/>
<line x1="365.98" y1="287.8" x2="365.98" y2="289.6" stroke="#1a1a1a" stroke-width="0.7"/>
<line x1="367.24" y1="287.8" x2="367.24" y2="289.6" stroke="#1a1a1a" stroke-width="0.7"/>
<line x1="368.26" y1="287.8" x2="368.26" y2="289.6" stroke="#1a1a1a" stroke-width="0.7"/>
<line x1="369.13" y1="287.8" x2="369.13" y2="289.6" stroke="#1a1a1a" stroke-width="0.7"/>
<line x1="369.88" y1="287.8" x2="369.88" y2="289.6" stroke="#1a1a1a" stroke-width="0.7"/>
<line x1="370.55" y1="287.8" x2="370.55" y2="289.6" stroke="#1a1a1a" stroke-width="0.7"/>
<line x1="375.04" y1="287.8" x2="375.04" y2="289.6" stroke="#1a1a1a" stroke-width="0.7"/>
<line x1="377.33" y1="287.8" x2="377.33" y2="289.6" stroke="#1a1a1a" stroke-width="0.7"/>
<line x1="378.95" y1="287.8" x2="378.95" y2="289.6" stroke="#1a1a1a" stroke-width="0.7"/>
<line x1="380.21" y1="287.8" x2="380.21" y2="289.6" stroke="#1a1a1a" stroke-width="0.7"/>
<line x1="381.23" y1="287.8" x2="381.23" y2="289.6" stroke="#1a1a1a" stroke-width="0.7"/>
<line x1="382.1" y1="287.8" x2="382.1" y2="289.6" stroke="#1a1a1a" stroke-width="0.7"/>
<line x1="382.85" y1="287.8" x2="382.85" y2="289.6" stroke="#1a1a1a" stroke-width="0.7"/>
<line x1="383.52" y1="287.8" x2="383.52" y2="289.6" stroke="#1a1a1a" stroke-width="0.7"/>
<path d="M306.8 287.3 L308.3 287.3 L309.8 287.3 L311.31 287.3 L312.81 287.3 L314.31 287.3 L315.81 287.3 L317.32 287.3 L318.82 287.3 L320.32 287.3 L321.82 287.3 L323.32 287.3 L324.83 287.3 L326.33 287.3 L327.83 287.3 L329.33 287.3 L330.83 287.3 L332.34 287.3 L333.84 287.3 L335.34 287.3 L336.84 287.3 L338.35 287.3 L339.85 287.3 L341.35 287.3 L342.85 287.3 L344.35 287.3 L345.86 287.3 L347.36 287.3 L348.86 287.3 L350.36 287.3 L351.86 287.3 L353.37 287.22 L354.87 283.44 L356.37 279.2 L357.87 275.44 L359.38 274.62 L360.88 274.28 L362.38 274.2 L363.88 274.2 L365.38 274.2 L366.89 274.2 L368.39 274.2 L369.89 274.2 L371.39 274.2 L372.89 274.2 L374.4 274.2 L375.9 274.2 L377.4 274.2 L378.9 274.2 L380.41 274.2" fill="none" stroke="#163a82" stroke-width="0.9"/>
<line x1="306.8" y1="287.5" x2="380.41" y2="287.5" stroke="#b5123f" stroke-width="0.9"/>
<path d="M306.8 286.93 L308.05 286.66 L309.3 286.31 L310.54 285.85 L311.79 285.27 L313.04 284.52 L314.29 283.57 L315.53 282.39 L316.78 280.92 L318.03 279.13 L319.28 277 L320.52 274.53 L321.77 271.73 L323.02 268.66 L324.27 265.42 L325.51 262.12 L326.76 258.87 L328.01 255.8 L329.26 252.99 L330.5 250.51 L331.75 248.37 L333 246.57 L334.25 245.1 L335.49 243.9 L336.74 242.95 L337.99 242.19 L339.24 241.61 L340.48 241.15 L341.73 240.79 L342.98 240.52 L344.23 240.31 L345.47 240.15 L346.72 240.03 L347.97 239.94 L349.22 239.87 L350.46 239.81 L351.71 239.77 L352.96 239.74 L354.21 239.72 L355.45 239.7 L356.7 239.68 L357.95 239.67 L359.2 239.67 L360.44 239.66 L361.69 239.65 L362.94 239.65 L364.19 239.65 L365.44 239.65 L366.68 239.64 L367.93 239.64 L369.18 239.64 L370.43 239.64 L371.67 239.64 L372.92 239.64 L374.17 239.64 L375.42 239.64 L376.66 239.64 L377.91 239.64 L379.16 239.64 L380.41 239.64" fill="none" stroke="#e08a0e" stroke-width="0.9"/>
<rect x="317.32" y="286.7" width="2.4" height="2.4" fill="#163a82"/>
<rect x="323.51" y="286.7" width="2.4" height="2.4" fill="#163a82"/>
<rect x="329.7" y="286.7" width="2.4" height="2.4" fill="#163a82"/>
<rect x="335.89" y="286.7" width="2.4" height="2.4" fill="#163a82"/>
<rect x="342.08" y="286.7" width="2.4" height="2.4" fill="#163a82"/>
<rect x="348.26" y="284.8" width="2.4" height="2.4" fill="#163a82"/>
<rect x="354.45" y="281.5" width="2.4" height="2.4" fill="#163a82"/>
<rect x="360.64" y="271.8" width="2.4" height="2.4" fill="#163a82"/>
<rect x="366.83" y="271.4" width="2.4" height="2.4" fill="#163a82"/>
<rect x="373.02" y="272.4" width="2.4" height="2.4" fill="#163a82"/>
<rect x="379.21" y="276.5" width="2.4" height="2.4" fill="#163a82"/>
<path d="M318.52 285.81L320.21 288.77L316.84 288.77Z" fill="#b5123f"/>
<path d="M324.71 285.81L326.4 288.77L323.02 288.77Z" fill="#b5123f"/>
<path d="M330.9 285.81L332.59 288.77L329.21 288.77Z" fill="#b5123f"/>
<path d="M337.09 285.81L338.78 288.77L335.4 288.77Z" fill="#b5123f"/>
<path d="M343.28 285.81L344.96 288.77L341.59 288.77Z" fill="#b5123f"/>
<path d="M349.46 285.81L351.15 288.77L347.78 288.77Z" fill="#b5123f"/>
<path d="M355.65 285.81L357.34 288.77L353.97 288.77Z" fill="#b5123f"/>
<path d="M361.84 285.81L363.53 288.77L360.15 288.77Z" fill="#b5123f"/>
<path d="M368.03 285.81L369.72 288.77L366.34 288.77Z" fill="#b5123f"/>
<path d="M374.22 285.81L375.9 288.77L372.53 288.77Z" fill="#b5123f"/>
<path d="M380.41 285.81L382.09 288.77L378.72 288.77Z" fill="#b5123f"/>
<circle cx="318.52" cy="277.1" r="1.35" fill="#e08a0e"/>
<circle cx="324.71" cy="265.1" r="1.35" fill="#e08a0e"/>
<circle cx="330.9" cy="250.3" r="1.35" fill="#e08a0e"/>
<circle cx="337.09" cy="241.2" r="1.35" fill="#e08a0e"/>
<circle cx="343.28" cy="238.6" r="1.35" fill="#e08a0e"/>
<circle cx="349.46" cy="241.6" r="1.35" fill="#e08a0e"/>
<circle cx="355.65" cy="238.6" r="1.35" fill="#e08a0e"/>
<circle cx="361.84" cy="240.6" r="1.35" fill="#e08a0e"/>
<circle cx="368.03" cy="241.6" r="1.35" fill="#e08a0e"/>
<circle cx="374.22" cy="239.2" r="1.35" fill="#e08a0e"/>
<circle cx="380.41" cy="239.2" r="1.35" fill="#e08a0e"/>
<circle cx="306.8" cy="287.4" r="1.35" fill="#e08a0e"/>
<text x="334.3" y="259.1" font-size="6.9" text-anchor="start" fill="#222" textLength="48" lengthAdjust="spacingAndGlyphs" style="stroke-width:0.12px">EC<tspan font-size="4.5" dy="1.9" style="stroke:none">50</tspan><tspan dy="-1.9"> = 0.030 nM</tspan></text>
<line x1="424.3" y1="223.5" x2="424.3" y2="288.3" stroke="#1a1a1a" stroke-width="1.2"/>
<line x1="421.5" y1="287.8" x2="424.3" y2="287.8" stroke="#1a1a1a" stroke-width="1.2"/>
<text x="418" y="290.5" font-size="8.8" text-anchor="end" fill="#222" textLength="4.28" lengthAdjust="spacingAndGlyphs">0</text>
<line x1="422.8" y1="280.07" x2="424.3" y2="280.07" stroke="#1a1a1a" stroke-width="0.8"/>
<line x1="421.5" y1="272.35" x2="424.3" y2="272.35" stroke="#1a1a1a" stroke-width="1.2"/>
<text x="418" y="275.05" font-size="8.8" text-anchor="end" fill="#222" textLength="8.56" lengthAdjust="spacingAndGlyphs">20</text>
<line x1="422.8" y1="264.62" x2="424.3" y2="264.62" stroke="#1a1a1a" stroke-width="0.8"/>
<line x1="421.5" y1="256.9" x2="424.3" y2="256.9" stroke="#1a1a1a" stroke-width="1.2"/>
<text x="418" y="259.6" font-size="8.8" text-anchor="end" fill="#222" textLength="8.56" lengthAdjust="spacingAndGlyphs">40</text>
<line x1="422.8" y1="249.17" x2="424.3" y2="249.17" stroke="#1a1a1a" stroke-width="0.8"/>
<line x1="421.5" y1="241.45" x2="424.3" y2="241.45" stroke="#1a1a1a" stroke-width="1.2"/>
<text x="418" y="244.15" font-size="8.8" text-anchor="end" fill="#222" textLength="8.56" lengthAdjust="spacingAndGlyphs">60</text>
<line x1="422.8" y1="233.72" x2="424.3" y2="233.72" stroke="#1a1a1a" stroke-width="0.8"/>
<line x1="421.5" y1="226" x2="424.3" y2="226" stroke="#1a1a1a" stroke-width="1.2"/>
<text x="418" y="228.7" font-size="8.8" text-anchor="end" fill="#222" textLength="8.56" lengthAdjust="spacingAndGlyphs">80</text>
<line x1="424.3" y1="287.8" x2="507" y2="287.8" stroke="#1a1a1a" stroke-width="1.2"/>
<line x1="429" y1="287.8" x2="429" y2="290.4" stroke="#1a1a1a" stroke-width="0.8"/>
<text x="431.8" y="297" font-size="8.8" text-anchor="end" fill="#222" transform="rotate(-45 431.8 297)" textLength="4.23" lengthAdjust="spacingAndGlyphs" style="stroke-width:0.12px">0</text>
<line x1="439.56" y1="287.8" x2="439.56" y2="290.4" stroke="#1a1a1a" stroke-width="0.8"/>
<text x="442.36" y="297" font-size="8.8" text-anchor="end" fill="#222" transform="rotate(-45 442.36 297)" textLength="14.79" lengthAdjust="spacingAndGlyphs" style="stroke-width:0.12px">0.01</text>
<line x1="452.53" y1="287.8" x2="452.53" y2="290.4" stroke="#1a1a1a" stroke-width="0.8"/>
<text x="455.33" y="297" font-size="8.8" text-anchor="end" fill="#222" transform="rotate(-45 455.33 297)" textLength="10.56" lengthAdjust="spacingAndGlyphs" style="stroke-width:0.12px">0.1</text>
<line x1="465.5" y1="287.8" x2="465.5" y2="290.4" stroke="#1a1a1a" stroke-width="0.8"/>
<text x="468.3" y="297" font-size="8.8" text-anchor="end" fill="#222" transform="rotate(-45 468.3 297)" textLength="4.23" lengthAdjust="spacingAndGlyphs" style="stroke-width:0.12px">1</text>
<line x1="478.47" y1="287.8" x2="478.47" y2="290.4" stroke="#1a1a1a" stroke-width="0.8"/>
<text x="481.27" y="297" font-size="8.8" text-anchor="end" fill="#222" transform="rotate(-45 481.27 297)" textLength="8.45" lengthAdjust="spacingAndGlyphs" style="stroke-width:0.12px">10</text>
<line x1="491.44" y1="287.8" x2="491.44" y2="290.4" stroke="#1a1a1a" stroke-width="0.8"/>
<text x="494.24" y="297" font-size="8.8" text-anchor="end" fill="#222" transform="rotate(-45 494.24 297)" textLength="12.68" lengthAdjust="spacingAndGlyphs" style="stroke-width:0.12px">100</text>
<line x1="504.41" y1="287.8" x2="504.41" y2="290.4" stroke="#1a1a1a" stroke-width="0.8"/>
<text x="507.21" y="297" font-size="8.8" text-anchor="end" fill="#222" transform="rotate(-45 507.21 297)" textLength="16.91" lengthAdjust="spacingAndGlyphs" style="stroke-width:0.12px">1000</text>
<line x1="430.49" y1="287.8" x2="430.49" y2="289.6" stroke="#1a1a1a" stroke-width="0.7"/>
<line x1="432.78" y1="287.8" x2="432.78" y2="289.6" stroke="#1a1a1a" stroke-width="0.7"/>
<line x1="434.4" y1="287.8" x2="434.4" y2="289.6" stroke="#1a1a1a" stroke-width="0.7"/>
<line x1="435.66" y1="287.8" x2="435.66" y2="289.6" stroke="#1a1a1a" stroke-width="0.7"/>
<line x1="436.68" y1="287.8" x2="436.68" y2="289.6" stroke="#1a1a1a" stroke-width="0.7"/>
<line x1="437.55" y1="287.8" x2="437.55" y2="289.6" stroke="#1a1a1a" stroke-width="0.7"/>
<line x1="438.3" y1="287.8" x2="438.3" y2="289.6" stroke="#1a1a1a" stroke-width="0.7"/>
<line x1="438.97" y1="287.8" x2="438.97" y2="289.6" stroke="#1a1a1a" stroke-width="0.7"/>
<line x1="443.46" y1="287.8" x2="443.46" y2="289.6" stroke="#1a1a1a" stroke-width="0.7"/>
<line x1="445.75" y1="287.8" x2="445.75" y2="289.6" stroke="#1a1a1a" stroke-width="0.7"/>
<line x1="447.37" y1="287.8" x2="447.37" y2="289.6" stroke="#1a1a1a" stroke-width="0.7"/>
<line x1="448.63" y1="287.8" x2="448.63" y2="289.6" stroke="#1a1a1a" stroke-width="0.7"/>
<line x1="449.65" y1="287.8" x2="449.65" y2="289.6" stroke="#1a1a1a" stroke-width="0.7"/>
<line x1="450.52" y1="287.8" x2="450.52" y2="289.6" stroke="#1a1a1a" stroke-width="0.7"/>
<line x1="451.27" y1="287.8" x2="451.27" y2="289.6" stroke="#1a1a1a" stroke-width="0.7"/>
<line x1="451.94" y1="287.8" x2="451.94" y2="289.6" stroke="#1a1a1a" stroke-width="0.7"/>
<line x1="456.43" y1="287.8" x2="456.43" y2="289.6" stroke="#1a1a1a" stroke-width="0.7"/>
<line x1="458.72" y1="287.8" x2="458.72" y2="289.6" stroke="#1a1a1a" stroke-width="0.7"/>
<line x1="460.34" y1="287.8" x2="460.34" y2="289.6" stroke="#1a1a1a" stroke-width="0.7"/>
<line x1="461.6" y1="287.8" x2="461.6" y2="289.6" stroke="#1a1a1a" stroke-width="0.7"/>
<line x1="462.62" y1="287.8" x2="462.62" y2="289.6" stroke="#1a1a1a" stroke-width="0.7"/>
<line x1="463.49" y1="287.8" x2="463.49" y2="289.6" stroke="#1a1a1a" stroke-width="0.7"/>
<line x1="464.24" y1="287.8" x2="464.24" y2="289.6" stroke="#1a1a1a" stroke-width="0.7"/>
<line x1="464.91" y1="287.8" x2="464.91" y2="289.6" stroke="#1a1a1a" stroke-width="0.7"/>
<line x1="469.4" y1="287.8" x2="469.4" y2="289.6" stroke="#1a1a1a" stroke-width="0.7"/>
<line x1="471.69" y1="287.8" x2="471.69" y2="289.6" stroke="#1a1a1a" stroke-width="0.7"/>
<line x1="473.31" y1="287.8" x2="473.31" y2="289.6" stroke="#1a1a1a" stroke-width="0.7"/>
<line x1="474.57" y1="287.8" x2="474.57" y2="289.6" stroke="#1a1a1a" stroke-width="0.7"/>
<line x1="475.59" y1="287.8" x2="475.59" y2="289.6" stroke="#1a1a1a" stroke-width="0.7"/>
<line x1="476.46" y1="287.8" x2="476.46" y2="289.6" stroke="#1a1a1a" stroke-width="0.7"/>
<line x1="477.21" y1="287.8" x2="477.21" y2="289.6" stroke="#1a1a1a" stroke-width="0.7"/>
<line x1="477.88" y1="287.8" x2="477.88" y2="289.6" stroke="#1a1a1a" stroke-width="0.7"/>
<line x1="482.37" y1="287.8" x2="482.37" y2="289.6" stroke="#1a1a1a" stroke-width="0.7"/>
<line x1="484.66" y1="287.8" x2="484.66" y2="289.6" stroke="#1a1a1a" stroke-width="0.7"/>
<line x1="486.28" y1="287.8" x2="486.28" y2="289.6" stroke="#1a1a1a" stroke-width="0.7"/>
<line x1="487.54" y1="287.8" x2="487.54" y2="289.6" stroke="#1a1a1a" stroke-width="0.7"/>
<line x1="488.56" y1="287.8" x2="488.56" y2="289.6" stroke="#1a1a1a" stroke-width="0.7"/>
<line x1="489.43" y1="287.8" x2="489.43" y2="289.6" stroke="#1a1a1a" stroke-width="0.7"/>
<line x1="490.18" y1="287.8" x2="490.18" y2="289.6" stroke="#1a1a1a" stroke-width="0.7"/>
<line x1="490.85" y1="287.8" x2="490.85" y2="289.6" stroke="#1a1a1a" stroke-width="0.7"/>
<line x1="495.34" y1="287.8" x2="495.34" y2="289.6" stroke="#1a1a1a" stroke-width="0.7"/>
<line x1="497.63" y1="287.8" x2="497.63" y2="289.6" stroke="#1a1a1a" stroke-width="0.7"/>
<line x1="499.25" y1="287.8" x2="499.25" y2="289.6" stroke="#1a1a1a" stroke-width="0.7"/>
<line x1="500.51" y1="287.8" x2="500.51" y2="289.6" stroke="#1a1a1a" stroke-width="0.7"/>
<line x1="501.53" y1="287.8" x2="501.53" y2="289.6" stroke="#1a1a1a" stroke-width="0.7"/>
<line x1="502.4" y1="287.8" x2="502.4" y2="289.6" stroke="#1a1a1a" stroke-width="0.7"/>
<line x1="503.15" y1="287.8" x2="503.15" y2="289.6" stroke="#1a1a1a" stroke-width="0.7"/>
<line x1="503.82" y1="287.8" x2="503.82" y2="289.6" stroke="#1a1a1a" stroke-width="0.7"/>
<line x1="427.1" y1="286.9" x2="500.71" y2="286.9" stroke="#163a82" stroke-width="0.8"/>
<line x1="427.1" y1="287.5" x2="500.71" y2="287.5" stroke="#b5123f" stroke-width="0.9"/>
<path d="M427.1 287.19 L428.35 286.88 L429.6 286.49 L430.84 285.96 L432.09 285.29 L433.34 284.42 L434.59 283.3 L435.83 281.9 L437.08 280.16 L438.33 278.03 L439.58 275.49 L440.82 272.55 L442.07 269.24 L443.32 265.65 L444.57 261.89 L445.81 258.12 L447.06 254.47 L448.31 251.09 L449.56 248.05 L450.8 245.42 L452.05 243.2 L453.3 241.37 L454.55 239.89 L455.79 238.72 L457.04 237.79 L458.29 237.07 L459.54 236.52 L460.78 236.1 L462.03 235.77 L463.28 235.52 L464.53 235.34 L465.77 235.19 L467.02 235.09 L468.27 235.01 L469.52 234.94 L470.76 234.9 L472.01 234.86 L473.26 234.84 L474.51 234.82 L475.75 234.8 L477 234.79 L478.25 234.78 L479.5 234.78 L480.74 234.77 L481.99 234.77 L483.24 234.77 L484.49 234.76 L485.74 234.76 L486.98 234.76 L488.23 234.76 L489.48 234.76 L490.73 234.76 L491.97 234.76 L493.22 234.76 L494.47 234.76 L495.72 234.76 L496.96 234.76 L498.21 234.76 L499.46 234.76 L500.71 234.76" fill="none" stroke="#e08a0e" stroke-width="0.9"/>
<rect x="437.62" y="286.7" width="2.4" height="2.4" fill="#163a82"/>
<rect x="443.81" y="286.7" width="2.4" height="2.4" fill="#163a82"/>
<rect x="450" y="286.7" width="2.4" height="2.4" fill="#163a82"/>
<rect x="456.19" y="286.7" width="2.4" height="2.4" fill="#163a82"/>
<rect x="462.38" y="285.2" width="2.4" height="2.4" fill="#163a82"/>
<rect x="468.56" y="286.7" width="2.4" height="2.4" fill="#163a82"/>
<rect x="474.75" y="285" width="2.4" height="2.4" fill="#163a82"/>
<rect x="480.94" y="282.5" width="2.4" height="2.4" fill="#163a82"/>
<rect x="487.13" y="283.6" width="2.4" height="2.4" fill="#163a82"/>
<rect x="493.32" y="286.7" width="2.4" height="2.4" fill="#163a82"/>
<rect x="499.51" y="286.7" width="2.4" height="2.4" fill="#163a82"/>
<path d="M438.82 285.81L440.51 288.77L437.14 288.77Z" fill="#b5123f"/>
<path d="M445.01 285.81L446.7 288.77L443.32 288.77Z" fill="#b5123f"/>
<path d="M451.2 285.81L452.89 288.77L449.51 288.77Z" fill="#b5123f"/>
<path d="M457.39 285.81L459.08 288.77L455.7 288.77Z" fill="#b5123f"/>
<path d="M463.58 285.81L465.26 288.77L461.89 288.77Z" fill="#b5123f"/>
<path d="M469.76 285.81L471.45 288.77L468.08 288.77Z" fill="#b5123f"/>
<path d="M475.95 285.81L477.64 288.77L474.27 288.77Z" fill="#b5123f"/>
<path d="M482.14 285.81L483.83 288.77L480.45 288.77Z" fill="#b5123f"/>
<path d="M488.33 285.81L490.02 288.77L486.64 288.77Z" fill="#b5123f"/>
<path d="M494.52 285.81L496.2 288.77L492.83 288.77Z" fill="#b5123f"/>
<path d="M500.71 285.81L502.39 288.77L499.02 288.77Z" fill="#b5123f"/>
<circle cx="438.82" cy="276.7" r="1.35" fill="#e08a0e"/>
<circle cx="445.01" cy="259.9" r="1.35" fill="#e08a0e"/>
<circle cx="451.2" cy="247.3" r="1.35" fill="#e08a0e"/>
<circle cx="457.39" cy="235.2" r="1.35" fill="#e08a0e"/>
<circle cx="463.58" cy="231.7" r="1.35" fill="#e08a0e"/>
<circle cx="469.76" cy="231.1" r="1.35" fill="#e08a0e"/>
<circle cx="475.95" cy="233.1" r="1.35" fill="#e08a0e"/>
<circle cx="482.14" cy="235.2" r="1.35" fill="#e08a0e"/>
<circle cx="488.33" cy="237.2" r="1.35" fill="#e08a0e"/>
<circle cx="494.52" cy="237.2" r="1.35" fill="#e08a0e"/>
<circle cx="500.71" cy="239.2" r="1.35" fill="#e08a0e"/>
<circle cx="427.1" cy="287.4" r="1.35" fill="#e08a0e"/>
<text x="458.5" y="259.1" font-size="6.9" text-anchor="start" fill="#222" textLength="48" lengthAdjust="spacingAndGlyphs" style="stroke-width:0.12px">EC<tspan font-size="4.5" dy="1.9" style="stroke:none">50</tspan><tspan dy="-1.9"> = 0.026 nM</tspan></text>
<text x="15.9" y="66.8" font-size="8.8" text-anchor="middle" fill="#222" transform="rotate(-90 15.9 66.8)" textLength="26.3" lengthAdjust="spacingAndGlyphs">Binding</text>
<text x="26.2" y="67.1" font-size="8.8" text-anchor="middle" fill="#222" transform="rotate(-90 26.2 67.1)" textLength="37.6" lengthAdjust="spacingAndGlyphs">Geo.Mean</text>
<text x="37.9" y="66.5" font-size="8.8" text-anchor="middle" fill="#222" transform="rotate(-90 37.9 66.5)" textLength="49.6" lengthAdjust="spacingAndGlyphs">(CD138<tspan font-size="6.5" dy="-3.6">+</tspan><tspan dy="3.6"> cells)</tspan></text>
<text x="20.1" y="156.2" font-size="8.8" text-anchor="middle" fill="#222" transform="rotate(-90 20.1 156.2)" textLength="37.2" lengthAdjust="spacingAndGlyphs">Cytotoxicity</text>
<text x="32" y="156.8" font-size="8.8" text-anchor="middle" fill="#222" transform="rotate(-90 32 156.8)" textLength="33.3" lengthAdjust="spacingAndGlyphs">% CD138<tspan font-size="6.5" dy="-3.6">+</tspan></text>
<text x="41.8" y="155.4" font-size="8.8" text-anchor="middle" fill="#222" transform="rotate(-90 41.8 155.4)" textLength="42.4" lengthAdjust="spacingAndGlyphs">cell depletion</text>
<text x="25" y="255.5" font-size="8.8" text-anchor="middle" fill="#222" transform="rotate(-90 25 255.5)" textLength="50.5" lengthAdjust="spacingAndGlyphs">T cell activation</text>
<text x="36.6" y="257" font-size="8.8" text-anchor="middle" fill="#222" transform="rotate(-90 36.6 257)" textLength="34.6" lengthAdjust="spacingAndGlyphs">% CD25<tspan font-size="6.5" dy="-3.6">+</tspan></text>
<text x="47" y="255.4" font-size="8.8" text-anchor="middle" fill="#222" transform="rotate(-90 47 255.4)" textLength="38.9" lengthAdjust="spacingAndGlyphs">(live T cells)</text>
<text x="260.3" y="321.7" font-size="9" text-anchor="middle" fill="#222" textLength="128.4" lengthAdjust="spacingAndGlyphs">DuoBody antibody concentration (nM)</text>
<line x1="171.7" y1="334.8" x2="178.5" y2="334.8" stroke="#e08a0e" stroke-width="0.9"/>
<circle cx="175.1" cy="334.8" r="1.6" fill="#e08a0e"/>
<text x="182.2" y="337.6" font-size="8.6" text-anchor="start" fill="#222" textLength="47.8" lengthAdjust="spacingAndGlyphs">JNJ-64407564</text>
<line x1="239.6" y1="335" x2="246.2" y2="335" stroke="#b5123f" stroke-width="0.9"/>
<path d="M242.9 333.12L244.78 336.41L241.03 336.41Z" fill="#b5123f"/>
<text x="249.6" y="337.6" font-size="8.6" text-anchor="start" fill="#222" textLength="47" lengthAdjust="spacingAndGlyphs">GPRC5DxNull</text>
<line x1="305.4" y1="335" x2="311.8" y2="335" stroke="#163a82" stroke-width="0.9"/>
<rect x="307.1" y="333.5" width="3" height="3" fill="#163a82"/>
<text x="315.6" y="337.6" font-size="8.6" text-anchor="start" fill="#222" textLength="32.3" lengthAdjust="spacingAndGlyphs">NullxCD3</text>
<path d="M0 0H520V346H0Z M1.3 1.2V344.7H518.5V1.2Z" fill="#000" fill-rule="evenodd"/>
</svg>
</body></html>
